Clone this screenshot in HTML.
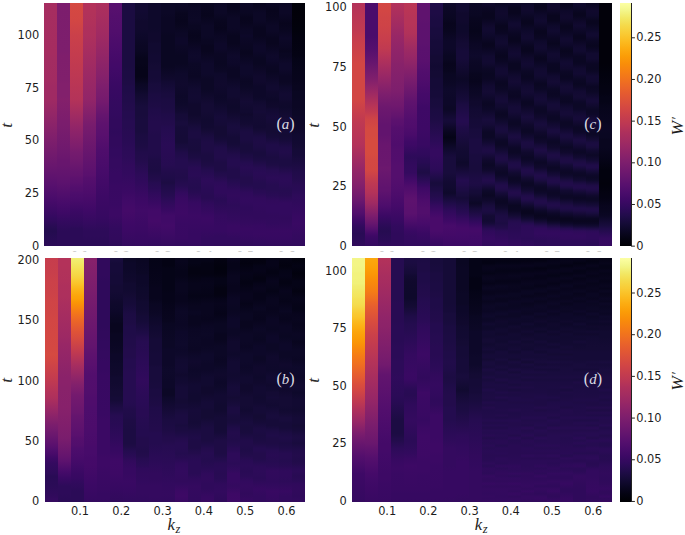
<!DOCTYPE html>
<html><head><meta charset="utf-8"><title>W' heatmaps</title>
<style>html,body{margin:0;padding:0;background:#fff}svg{display:block}text{white-space:pre}</style></head>
<body><svg width="685" height="535" viewBox="0 0 685 535">
<defs><linearGradient id="ga0" x1="0" y1="0" x2="0" y2="1"><stop offset="0.0000" stop-color="#a62d60"/><stop offset="0.2083" stop-color="#a52c60"/><stop offset="0.2292" stop-color="#a32c61"/><stop offset="0.3229" stop-color="#a22b62"/><stop offset="0.3438" stop-color="#a02a63"/><stop offset="0.3958" stop-color="#9f2a63"/><stop offset="0.4583" stop-color="#932667"/><stop offset="0.5521" stop-color="#801f6c"/><stop offset="0.6771" stop-color="#67166e"/><stop offset="0.7500" stop-color="#57106e"/><stop offset="0.8125" stop-color="#470b6a"/><stop offset="0.8750" stop-color="#360961"/><stop offset="0.8854" stop-color="#320a5e"/><stop offset="0.8958" stop-color="#310a5c"/><stop offset="0.9271" stop-color="#260c51"/><stop offset="0.9375" stop-color="#240c4f"/><stop offset="0.9792" stop-color="#290b55"/><stop offset="1.0000" stop-color="#2b0b57"/></linearGradient><linearGradient id="ga1" x1="0" y1="0" x2="0" y2="1"><stop offset="0.0000" stop-color="#7c1d6d"/><stop offset="0.1979" stop-color="#7d1e6d"/><stop offset="0.2188" stop-color="#7f1e6c"/><stop offset="0.3125" stop-color="#801f6c"/><stop offset="0.3333" stop-color="#82206c"/><stop offset="0.3854" stop-color="#82206c"/><stop offset="0.3958" stop-color="#84206b"/><stop offset="0.4792" stop-color="#7c1d6d"/><stop offset="0.5000" stop-color="#7a1d6d"/><stop offset="0.6042" stop-color="#6f196e"/><stop offset="0.6458" stop-color="#69166e"/><stop offset="0.6667" stop-color="#67166e"/><stop offset="0.7396" stop-color="#5c126e"/><stop offset="0.8229" stop-color="#470b6a"/><stop offset="0.8646" stop-color="#3d0965"/><stop offset="0.8958" stop-color="#340a5f"/><stop offset="0.9375" stop-color="#2b0b57"/><stop offset="1.0000" stop-color="#2b0b57"/></linearGradient><linearGradient id="ga2" x1="0" y1="0" x2="0" y2="1"><stop offset="0.0000" stop-color="#d54a41"/><stop offset="0.0208" stop-color="#d44842"/><stop offset="0.0729" stop-color="#d24644"/><stop offset="0.1354" stop-color="#ca404a"/><stop offset="0.2500" stop-color="#c13a50"/><stop offset="0.3958" stop-color="#b43359"/><stop offset="0.5104" stop-color="#922568"/><stop offset="0.5938" stop-color="#7c1d6d"/><stop offset="0.6146" stop-color="#751b6e"/><stop offset="0.6458" stop-color="#6f196e"/><stop offset="0.6979" stop-color="#62146e"/><stop offset="0.7083" stop-color="#61136e"/><stop offset="0.7188" stop-color="#5d126e"/><stop offset="0.7396" stop-color="#59106e"/><stop offset="0.7604" stop-color="#520e6d"/><stop offset="0.7708" stop-color="#510e6c"/><stop offset="0.7812" stop-color="#4d0d6c"/><stop offset="0.8125" stop-color="#470b6a"/><stop offset="0.8542" stop-color="#3b0964"/><stop offset="0.9167" stop-color="#2f0a5b"/><stop offset="0.9271" stop-color="#2b0b57"/><stop offset="1.0000" stop-color="#2b0b57"/></linearGradient><linearGradient id="ga3" x1="0" y1="0" x2="0" y2="1"><stop offset="0.0000" stop-color="#b3325a"/><stop offset="0.0208" stop-color="#b3325a"/><stop offset="0.0417" stop-color="#b1325a"/><stop offset="0.0833" stop-color="#b0315b"/><stop offset="0.1042" stop-color="#ae305c"/><stop offset="0.1354" stop-color="#ad305d"/><stop offset="0.1979" stop-color="#a62d60"/><stop offset="0.3125" stop-color="#9a2865"/><stop offset="0.3958" stop-color="#922568"/><stop offset="0.5000" stop-color="#781c6d"/><stop offset="0.7083" stop-color="#59106e"/><stop offset="0.7188" stop-color="#550f6d"/><stop offset="0.7812" stop-color="#4c0c6b"/><stop offset="0.8542" stop-color="#3e0966"/><stop offset="0.9062" stop-color="#340a5f"/><stop offset="0.9375" stop-color="#2d0b59"/><stop offset="0.9583" stop-color="#2d0b59"/><stop offset="0.9792" stop-color="#2b0b57"/><stop offset="1.0000" stop-color="#2b0b57"/></linearGradient><linearGradient id="ga4" x1="0" y1="0" x2="0" y2="1"><stop offset="0.0000" stop-color="#ad305d"/><stop offset="0.1354" stop-color="#9f2a63"/><stop offset="0.3021" stop-color="#85216b"/><stop offset="0.3438" stop-color="#7d1e6d"/><stop offset="0.4062" stop-color="#741a6e"/><stop offset="0.4271" stop-color="#6d186e"/><stop offset="0.4479" stop-color="#69166e"/><stop offset="0.4583" stop-color="#65156e"/><stop offset="0.5000" stop-color="#5d126e"/><stop offset="0.5417" stop-color="#59106e"/><stop offset="0.6042" stop-color="#4f0d6c"/><stop offset="0.6875" stop-color="#470b6a"/><stop offset="0.7917" stop-color="#3d0965"/><stop offset="0.8854" stop-color="#360961"/><stop offset="0.9375" stop-color="#2d0b59"/><stop offset="0.9583" stop-color="#2d0b59"/><stop offset="0.9792" stop-color="#2b0b57"/><stop offset="1.0000" stop-color="#2b0b57"/></linearGradient><linearGradient id="ga5" x1="0" y1="0" x2="0" y2="1"><stop offset="0.0000" stop-color="#57106e"/><stop offset="0.0208" stop-color="#57106e"/><stop offset="0.0521" stop-color="#540f6d"/><stop offset="0.1146" stop-color="#510e6c"/><stop offset="0.2083" stop-color="#470b6a"/><stop offset="0.2396" stop-color="#440a68"/><stop offset="0.2604" stop-color="#420a68"/><stop offset="0.3229" stop-color="#3b0964"/><stop offset="0.3542" stop-color="#380962"/><stop offset="0.3854" stop-color="#360961"/><stop offset="0.4062" stop-color="#340a5f"/><stop offset="0.4583" stop-color="#320a5e"/><stop offset="0.4792" stop-color="#310a5c"/><stop offset="0.5104" stop-color="#310a5c"/><stop offset="0.5312" stop-color="#2f0a5b"/><stop offset="0.5521" stop-color="#310a5c"/><stop offset="0.5833" stop-color="#310a5c"/><stop offset="0.6042" stop-color="#320a5e"/><stop offset="0.6250" stop-color="#320a5e"/><stop offset="0.6458" stop-color="#340a5f"/><stop offset="0.6771" stop-color="#340a5f"/><stop offset="0.6979" stop-color="#360961"/><stop offset="0.7292" stop-color="#360961"/><stop offset="0.7500" stop-color="#380962"/><stop offset="0.8333" stop-color="#390963"/><stop offset="0.8542" stop-color="#3b0964"/><stop offset="0.8750" stop-color="#3b0964"/><stop offset="0.9271" stop-color="#320a5e"/><stop offset="0.9688" stop-color="#310a5c"/><stop offset="1.0000" stop-color="#2d0b59"/></linearGradient><linearGradient id="ga6" x1="0" y1="0" x2="0" y2="1"><stop offset="0.0000" stop-color="#1b0c41"/><stop offset="0.2604" stop-color="#1b0c41"/><stop offset="0.2812" stop-color="#1c0c43"/><stop offset="0.3021" stop-color="#1c0c43"/><stop offset="0.3229" stop-color="#1e0c45"/><stop offset="0.3333" stop-color="#1e0c45"/><stop offset="0.3438" stop-color="#1f0c48"/><stop offset="0.3646" stop-color="#1f0c48"/><stop offset="0.3854" stop-color="#210c4a"/><stop offset="0.4062" stop-color="#210c4a"/><stop offset="0.4271" stop-color="#230c4c"/><stop offset="0.4375" stop-color="#230c4c"/><stop offset="0.4479" stop-color="#240c4f"/><stop offset="0.4688" stop-color="#240c4f"/><stop offset="0.4896" stop-color="#260c51"/><stop offset="0.5104" stop-color="#260c51"/><stop offset="0.5312" stop-color="#280b53"/><stop offset="0.5729" stop-color="#290b55"/><stop offset="0.5938" stop-color="#2b0b57"/><stop offset="0.6354" stop-color="#2d0b59"/><stop offset="0.6667" stop-color="#310a5c"/><stop offset="0.6979" stop-color="#320a5e"/><stop offset="0.7812" stop-color="#3b0964"/><stop offset="0.8125" stop-color="#400a67"/><stop offset="0.8333" stop-color="#420a68"/><stop offset="0.8542" stop-color="#440a68"/><stop offset="0.9062" stop-color="#3e0966"/><stop offset="0.9375" stop-color="#3b0964"/><stop offset="1.0000" stop-color="#340a5f"/></linearGradient><linearGradient id="ga7" x1="0" y1="0" x2="0" y2="1"><stop offset="0.0000" stop-color="#120a32"/><stop offset="0.0312" stop-color="#120a32"/><stop offset="0.0521" stop-color="#110a30"/><stop offset="0.0625" stop-color="#110a30"/><stop offset="0.0729" stop-color="#10092d"/><stop offset="0.1042" stop-color="#10092d"/><stop offset="0.1250" stop-color="#0e092b"/><stop offset="0.1458" stop-color="#0d0829"/><stop offset="0.1562" stop-color="#0c0826"/><stop offset="0.1771" stop-color="#0b0724"/><stop offset="0.1979" stop-color="#0a0722"/><stop offset="0.2292" stop-color="#07051b"/><stop offset="0.2500" stop-color="#07051b"/><stop offset="0.2708" stop-color="#060419"/><stop offset="0.3021" stop-color="#060419"/><stop offset="0.3229" stop-color="#09061f"/><stop offset="0.3333" stop-color="#0b0724"/><stop offset="0.3542" stop-color="#0d0829"/><stop offset="0.3750" stop-color="#110a30"/><stop offset="0.4271" stop-color="#180c3c"/><stop offset="0.4583" stop-color="#180c3c"/><stop offset="0.4792" stop-color="#190c3e"/><stop offset="0.5312" stop-color="#190c3e"/><stop offset="0.5417" stop-color="#1b0c41"/><stop offset="0.5729" stop-color="#1c0c43"/><stop offset="0.5938" stop-color="#1e0c45"/><stop offset="0.6146" stop-color="#210c4a"/><stop offset="0.6458" stop-color="#230c4c"/><stop offset="0.7083" stop-color="#2d0b59"/><stop offset="0.7292" stop-color="#2f0a5b"/><stop offset="0.8021" stop-color="#3b0964"/><stop offset="0.8333" stop-color="#3e0966"/><stop offset="0.8542" stop-color="#400a67"/><stop offset="0.9271" stop-color="#3b0964"/><stop offset="0.9583" stop-color="#380962"/><stop offset="0.9896" stop-color="#360961"/><stop offset="1.0000" stop-color="#340a5f"/></linearGradient><linearGradient id="ga8" x1="0" y1="0" x2="0" y2="1"><stop offset="0.0000" stop-color="#0e092b"/><stop offset="0.1042" stop-color="#0e092b"/><stop offset="0.1250" stop-color="#10092d"/><stop offset="0.1562" stop-color="#10092d"/><stop offset="0.1667" stop-color="#110a30"/><stop offset="0.1979" stop-color="#110a30"/><stop offset="0.2188" stop-color="#120a32"/><stop offset="0.2396" stop-color="#120a32"/><stop offset="0.2604" stop-color="#140b34"/><stop offset="0.2708" stop-color="#140b34"/><stop offset="0.2812" stop-color="#150b37"/><stop offset="0.3021" stop-color="#150b37"/><stop offset="0.3229" stop-color="#160b39"/><stop offset="0.3333" stop-color="#180c3c"/><stop offset="0.3646" stop-color="#190c3e"/><stop offset="0.3750" stop-color="#1b0c41"/><stop offset="0.4062" stop-color="#1c0c43"/><stop offset="0.4271" stop-color="#1e0c45"/><stop offset="0.4375" stop-color="#1f0c48"/><stop offset="0.4896" stop-color="#230c4c"/><stop offset="0.5208" stop-color="#230c4c"/><stop offset="0.5417" stop-color="#210c4a"/><stop offset="0.6146" stop-color="#210c4a"/><stop offset="0.6354" stop-color="#1f0c48"/><stop offset="0.6458" stop-color="#1e0c45"/><stop offset="0.6875" stop-color="#1c0c43"/><stop offset="0.7292" stop-color="#230c4c"/><stop offset="0.7396" stop-color="#260c51"/><stop offset="0.7604" stop-color="#290b55"/><stop offset="0.7812" stop-color="#2f0a5b"/><stop offset="0.8229" stop-color="#390963"/><stop offset="0.8542" stop-color="#420a68"/><stop offset="0.8750" stop-color="#420a68"/><stop offset="0.8958" stop-color="#440a68"/><stop offset="0.9792" stop-color="#360961"/><stop offset="1.0000" stop-color="#340a5f"/></linearGradient><linearGradient id="ga9" x1="0" y1="0" x2="0" y2="1"><stop offset="0.0000" stop-color="#0c0826"/><stop offset="0.0417" stop-color="#0c0826"/><stop offset="0.0625" stop-color="#0b0724"/><stop offset="0.1146" stop-color="#0b0724"/><stop offset="0.1354" stop-color="#0a0722"/><stop offset="0.2604" stop-color="#0a0722"/><stop offset="0.3125" stop-color="#10092d"/><stop offset="0.3229" stop-color="#120a32"/><stop offset="0.3750" stop-color="#190c3e"/><stop offset="0.3854" stop-color="#190c3e"/><stop offset="0.3958" stop-color="#1b0c41"/><stop offset="0.4271" stop-color="#1c0c43"/><stop offset="0.4479" stop-color="#1e0c45"/><stop offset="0.4583" stop-color="#1f0c48"/><stop offset="0.5000" stop-color="#230c4c"/><stop offset="0.5104" stop-color="#240c4f"/><stop offset="0.5833" stop-color="#290b55"/><stop offset="0.6250" stop-color="#280b53"/><stop offset="0.6667" stop-color="#260c51"/><stop offset="0.6979" stop-color="#210c4a"/><stop offset="0.7188" stop-color="#1f0c48"/><stop offset="0.7396" stop-color="#1c0c43"/><stop offset="0.7500" stop-color="#1f0c48"/><stop offset="0.7917" stop-color="#260c51"/><stop offset="0.8125" stop-color="#2d0b59"/><stop offset="0.8542" stop-color="#390963"/><stop offset="0.8750" stop-color="#400a67"/><stop offset="0.8958" stop-color="#400a67"/><stop offset="0.9167" stop-color="#420a68"/><stop offset="1.0000" stop-color="#340a5f"/></linearGradient><linearGradient id="ga10" x1="0" y1="0" x2="0" y2="1"><stop offset="0.0000" stop-color="#0c0826"/><stop offset="0.0312" stop-color="#0a0722"/><stop offset="0.0417" stop-color="#09061f"/><stop offset="0.0729" stop-color="#08051d"/><stop offset="0.0938" stop-color="#09061f"/><stop offset="0.1250" stop-color="#0c0826"/><stop offset="0.1354" stop-color="#0c0826"/><stop offset="0.1458" stop-color="#0d0829"/><stop offset="0.1667" stop-color="#0d0829"/><stop offset="0.1771" stop-color="#0c0826"/><stop offset="0.1979" stop-color="#0b0724"/><stop offset="0.2188" stop-color="#0a0722"/><stop offset="0.2500" stop-color="#0a0722"/><stop offset="0.2917" stop-color="#0e092b"/><stop offset="0.3333" stop-color="#10092d"/><stop offset="0.3854" stop-color="#0d0829"/><stop offset="0.4167" stop-color="#0e092b"/><stop offset="0.4479" stop-color="#120a32"/><stop offset="0.4583" stop-color="#150b37"/><stop offset="0.4792" stop-color="#160b39"/><stop offset="0.4896" stop-color="#180c3c"/><stop offset="0.5000" stop-color="#180c3c"/><stop offset="0.5104" stop-color="#160b39"/><stop offset="0.5521" stop-color="#150b37"/><stop offset="0.5729" stop-color="#150b37"/><stop offset="0.5833" stop-color="#180c3c"/><stop offset="0.5938" stop-color="#190c3e"/><stop offset="0.6146" stop-color="#1f0c48"/><stop offset="0.6458" stop-color="#240c4f"/><stop offset="0.6771" stop-color="#240c4f"/><stop offset="0.6875" stop-color="#230c4c"/><stop offset="0.7188" stop-color="#210c4a"/><stop offset="0.7500" stop-color="#260c51"/><stop offset="0.7812" stop-color="#320a5e"/><stop offset="0.8021" stop-color="#380962"/><stop offset="0.8333" stop-color="#3b0964"/><stop offset="0.8646" stop-color="#3d0965"/><stop offset="0.9062" stop-color="#390963"/><stop offset="0.9688" stop-color="#380962"/><stop offset="0.9896" stop-color="#340a5f"/><stop offset="1.0000" stop-color="#340a5f"/></linearGradient><linearGradient id="ga11" x1="0" y1="0" x2="0" y2="1"><stop offset="0.0000" stop-color="#09061f"/><stop offset="0.0208" stop-color="#0b0724"/><stop offset="0.0729" stop-color="#0c0826"/><stop offset="0.0938" stop-color="#0a0722"/><stop offset="0.1042" stop-color="#0a0722"/><stop offset="0.1146" stop-color="#09061f"/><stop offset="0.1354" stop-color="#08051d"/><stop offset="0.1562" stop-color="#09061f"/><stop offset="0.1979" stop-color="#0d0829"/><stop offset="0.2188" stop-color="#0e092b"/><stop offset="0.2396" stop-color="#0d0829"/><stop offset="0.2500" stop-color="#0c0826"/><stop offset="0.3021" stop-color="#0b0724"/><stop offset="0.3542" stop-color="#110a30"/><stop offset="0.3854" stop-color="#120a32"/><stop offset="0.4062" stop-color="#110a30"/><stop offset="0.4167" stop-color="#10092d"/><stop offset="0.4583" stop-color="#10092d"/><stop offset="0.4896" stop-color="#140b34"/><stop offset="0.5104" stop-color="#180c3c"/><stop offset="0.5312" stop-color="#1b0c41"/><stop offset="0.5521" stop-color="#1b0c41"/><stop offset="0.5625" stop-color="#190c3e"/><stop offset="0.6042" stop-color="#180c3c"/><stop offset="0.6354" stop-color="#1c0c43"/><stop offset="0.6562" stop-color="#230c4c"/><stop offset="0.6667" stop-color="#240c4f"/><stop offset="0.6771" stop-color="#280b53"/><stop offset="0.7083" stop-color="#290b55"/><stop offset="0.7292" stop-color="#260c51"/><stop offset="0.7604" stop-color="#240c4f"/><stop offset="0.7812" stop-color="#280b53"/><stop offset="0.8229" stop-color="#360961"/><stop offset="0.8750" stop-color="#3b0964"/><stop offset="0.9479" stop-color="#360961"/><stop offset="0.9792" stop-color="#360961"/><stop offset="1.0000" stop-color="#340a5f"/></linearGradient><linearGradient id="ga12" x1="0" y1="0" x2="0" y2="1"><stop offset="0.0000" stop-color="#0a0722"/><stop offset="0.0104" stop-color="#09061f"/><stop offset="0.0521" stop-color="#08051d"/><stop offset="0.0938" stop-color="#0c0826"/><stop offset="0.1354" stop-color="#0c0826"/><stop offset="0.1562" stop-color="#0a0722"/><stop offset="0.1667" stop-color="#0a0722"/><stop offset="0.1771" stop-color="#09061f"/><stop offset="0.1979" stop-color="#09061f"/><stop offset="0.2500" stop-color="#0e092b"/><stop offset="0.2917" stop-color="#0e092b"/><stop offset="0.3125" stop-color="#0c0826"/><stop offset="0.3542" stop-color="#0c0826"/><stop offset="0.4167" stop-color="#140b34"/><stop offset="0.4479" stop-color="#140b34"/><stop offset="0.4792" stop-color="#110a30"/><stop offset="0.5104" stop-color="#120a32"/><stop offset="0.5208" stop-color="#140b34"/><stop offset="0.5521" stop-color="#1b0c41"/><stop offset="0.5729" stop-color="#1e0c45"/><stop offset="0.6042" stop-color="#1e0c45"/><stop offset="0.6250" stop-color="#1b0c41"/><stop offset="0.6458" stop-color="#1b0c41"/><stop offset="0.6667" stop-color="#1e0c45"/><stop offset="0.6875" stop-color="#240c4f"/><stop offset="0.7292" stop-color="#2d0b59"/><stop offset="0.7708" stop-color="#290b55"/><stop offset="0.7917" stop-color="#280b53"/><stop offset="0.8021" stop-color="#280b53"/><stop offset="0.8229" stop-color="#2f0a5b"/><stop offset="0.8750" stop-color="#390963"/><stop offset="0.8854" stop-color="#3b0964"/><stop offset="0.9167" stop-color="#380962"/><stop offset="0.9375" stop-color="#360961"/><stop offset="0.9688" stop-color="#320a5e"/><stop offset="1.0000" stop-color="#320a5e"/></linearGradient><linearGradient id="ga13" x1="0" y1="0" x2="0" y2="1"><stop offset="0.0000" stop-color="#0b0724"/><stop offset="0.0208" stop-color="#0c0826"/><stop offset="0.0417" stop-color="#0c0826"/><stop offset="0.0729" stop-color="#09061f"/><stop offset="0.1042" stop-color="#08051d"/><stop offset="0.1354" stop-color="#0b0724"/><stop offset="0.1562" stop-color="#0c0826"/><stop offset="0.1667" stop-color="#0d0829"/><stop offset="0.1875" stop-color="#0d0829"/><stop offset="0.2083" stop-color="#0b0724"/><stop offset="0.2500" stop-color="#0a0722"/><stop offset="0.2812" stop-color="#0c0826"/><stop offset="0.2917" stop-color="#0e092b"/><stop offset="0.3333" stop-color="#10092d"/><stop offset="0.3854" stop-color="#0d0829"/><stop offset="0.4062" stop-color="#0e092b"/><stop offset="0.4688" stop-color="#160b39"/><stop offset="0.5000" stop-color="#150b37"/><stop offset="0.5104" stop-color="#140b34"/><stop offset="0.5417" stop-color="#140b34"/><stop offset="0.5625" stop-color="#160b39"/><stop offset="0.5938" stop-color="#1f0c48"/><stop offset="0.6146" stop-color="#210c4a"/><stop offset="0.6354" stop-color="#210c4a"/><stop offset="0.6562" stop-color="#1e0c45"/><stop offset="0.6875" stop-color="#1e0c45"/><stop offset="0.6979" stop-color="#210c4a"/><stop offset="0.7083" stop-color="#230c4c"/><stop offset="0.7396" stop-color="#2d0b59"/><stop offset="0.7604" stop-color="#2f0a5b"/><stop offset="0.7812" stop-color="#2f0a5b"/><stop offset="0.8125" stop-color="#290b55"/><stop offset="0.8750" stop-color="#340a5f"/><stop offset="0.9167" stop-color="#360961"/><stop offset="0.9375" stop-color="#360961"/><stop offset="0.9583" stop-color="#320a5e"/><stop offset="0.9792" stop-color="#320a5e"/><stop offset="1.0000" stop-color="#310a5c"/></linearGradient><linearGradient id="ga14" x1="0" y1="0" x2="0" y2="1"><stop offset="0.0000" stop-color="#08051d"/><stop offset="0.0208" stop-color="#08051d"/><stop offset="0.0625" stop-color="#0c0826"/><stop offset="0.1042" stop-color="#0c0826"/><stop offset="0.1354" stop-color="#09061f"/><stop offset="0.1667" stop-color="#09061f"/><stop offset="0.2188" stop-color="#0e092b"/><stop offset="0.2500" stop-color="#0d0829"/><stop offset="0.2708" stop-color="#0b0724"/><stop offset="0.3021" stop-color="#0b0724"/><stop offset="0.3542" stop-color="#110a30"/><stop offset="0.3854" stop-color="#110a30"/><stop offset="0.3958" stop-color="#10092d"/><stop offset="0.4271" stop-color="#0e092b"/><stop offset="0.4479" stop-color="#10092d"/><stop offset="0.5000" stop-color="#180c3c"/><stop offset="0.5104" stop-color="#190c3e"/><stop offset="0.5312" stop-color="#180c3c"/><stop offset="0.5521" stop-color="#150b37"/><stop offset="0.5729" stop-color="#150b37"/><stop offset="0.5833" stop-color="#160b39"/><stop offset="0.6250" stop-color="#210c4a"/><stop offset="0.6458" stop-color="#240c4f"/><stop offset="0.6667" stop-color="#240c4f"/><stop offset="0.6875" stop-color="#210c4a"/><stop offset="0.7188" stop-color="#210c4a"/><stop offset="0.7292" stop-color="#240c4f"/><stop offset="0.7500" stop-color="#290b55"/><stop offset="0.7708" stop-color="#2f0a5b"/><stop offset="0.7917" stop-color="#310a5c"/><stop offset="0.8125" stop-color="#2f0a5b"/><stop offset="0.8333" stop-color="#2d0b59"/><stop offset="0.8958" stop-color="#340a5f"/><stop offset="0.9167" stop-color="#380962"/><stop offset="0.9375" stop-color="#380962"/><stop offset="0.9688" stop-color="#320a5e"/><stop offset="1.0000" stop-color="#310a5c"/></linearGradient><linearGradient id="ga15" x1="0" y1="0" x2="0" y2="1"><stop offset="0.0000" stop-color="#0c0826"/><stop offset="0.0208" stop-color="#0b0724"/><stop offset="0.0417" stop-color="#0a0722"/><stop offset="0.0625" stop-color="#08051d"/><stop offset="0.0833" stop-color="#09061f"/><stop offset="0.1146" stop-color="#0c0826"/><stop offset="0.1250" stop-color="#0c0826"/><stop offset="0.1354" stop-color="#0d0829"/><stop offset="0.1458" stop-color="#0c0826"/><stop offset="0.1667" stop-color="#0b0724"/><stop offset="0.1875" stop-color="#0a0722"/><stop offset="0.1979" stop-color="#09061f"/><stop offset="0.2083" stop-color="#09061f"/><stop offset="0.2604" stop-color="#0e092b"/><stop offset="0.2917" stop-color="#0e092b"/><stop offset="0.3229" stop-color="#0b0724"/><stop offset="0.3438" stop-color="#0c0826"/><stop offset="0.4062" stop-color="#140b34"/><stop offset="0.4375" stop-color="#110a30"/><stop offset="0.4479" stop-color="#110a30"/><stop offset="0.4583" stop-color="#10092d"/><stop offset="0.4688" stop-color="#110a30"/><stop offset="0.4896" stop-color="#120a32"/><stop offset="0.5000" stop-color="#140b34"/><stop offset="0.5208" stop-color="#190c3e"/><stop offset="0.5312" stop-color="#1b0c41"/><stop offset="0.5625" stop-color="#1b0c41"/><stop offset="0.5833" stop-color="#180c3c"/><stop offset="0.6042" stop-color="#180c3c"/><stop offset="0.6146" stop-color="#190c3e"/><stop offset="0.6250" stop-color="#1c0c43"/><stop offset="0.6354" stop-color="#1e0c45"/><stop offset="0.6562" stop-color="#240c4f"/><stop offset="0.6771" stop-color="#280b53"/><stop offset="0.7083" stop-color="#240c4f"/><stop offset="0.7188" stop-color="#230c4c"/><stop offset="0.7396" stop-color="#230c4c"/><stop offset="0.7500" stop-color="#240c4f"/><stop offset="0.7812" stop-color="#2f0a5b"/><stop offset="0.8125" stop-color="#320a5e"/><stop offset="0.8438" stop-color="#2f0a5b"/><stop offset="0.8750" stop-color="#310a5c"/><stop offset="0.9062" stop-color="#340a5f"/><stop offset="0.9271" stop-color="#380962"/><stop offset="0.9583" stop-color="#360961"/><stop offset="0.9896" stop-color="#310a5c"/><stop offset="1.0000" stop-color="#310a5c"/></linearGradient><linearGradient id="ga16" x1="0" y1="0" x2="0" y2="1"><stop offset="0.0000" stop-color="#08051d"/><stop offset="0.0417" stop-color="#0c0826"/><stop offset="0.0729" stop-color="#0c0826"/><stop offset="0.1042" stop-color="#09061f"/><stop offset="0.1354" stop-color="#09061f"/><stop offset="0.1771" stop-color="#0d0829"/><stop offset="0.1979" stop-color="#0d0829"/><stop offset="0.2292" stop-color="#0a0722"/><stop offset="0.2500" stop-color="#0a0722"/><stop offset="0.3021" stop-color="#10092d"/><stop offset="0.3229" stop-color="#10092d"/><stop offset="0.3438" stop-color="#0d0829"/><stop offset="0.3854" stop-color="#0d0829"/><stop offset="0.3958" stop-color="#0e092b"/><stop offset="0.4062" stop-color="#110a30"/><stop offset="0.4271" stop-color="#140b34"/><stop offset="0.4375" stop-color="#140b34"/><stop offset="0.4479" stop-color="#150b37"/><stop offset="0.4583" stop-color="#140b34"/><stop offset="0.5104" stop-color="#120a32"/><stop offset="0.5208" stop-color="#140b34"/><stop offset="0.5521" stop-color="#1c0c43"/><stop offset="0.5729" stop-color="#1e0c45"/><stop offset="0.5938" stop-color="#1c0c43"/><stop offset="0.6146" stop-color="#190c3e"/><stop offset="0.6250" stop-color="#190c3e"/><stop offset="0.6458" stop-color="#1c0c43"/><stop offset="0.6771" stop-color="#260c51"/><stop offset="0.6979" stop-color="#290b55"/><stop offset="0.7188" stop-color="#280b53"/><stop offset="0.7396" stop-color="#240c4f"/><stop offset="0.7604" stop-color="#240c4f"/><stop offset="0.7708" stop-color="#280b53"/><stop offset="0.7812" stop-color="#290b55"/><stop offset="0.8021" stop-color="#310a5c"/><stop offset="0.8229" stop-color="#320a5e"/><stop offset="0.8646" stop-color="#310a5c"/><stop offset="0.8854" stop-color="#310a5c"/><stop offset="0.9167" stop-color="#360961"/><stop offset="0.9479" stop-color="#380962"/><stop offset="0.9896" stop-color="#320a5e"/><stop offset="1.0000" stop-color="#310a5c"/></linearGradient><linearGradient id="ga17" x1="0" y1="0" x2="0" y2="1"><stop offset="0.0000" stop-color="#0b0724"/><stop offset="0.0312" stop-color="#08051d"/><stop offset="0.0625" stop-color="#09061f"/><stop offset="0.0938" stop-color="#0c0826"/><stop offset="0.1146" stop-color="#0c0826"/><stop offset="0.1458" stop-color="#09061f"/><stop offset="0.1667" stop-color="#09061f"/><stop offset="0.2188" stop-color="#0e092b"/><stop offset="0.2396" stop-color="#0d0829"/><stop offset="0.2604" stop-color="#0b0724"/><stop offset="0.2812" stop-color="#0a0722"/><stop offset="0.3438" stop-color="#110a30"/><stop offset="0.3542" stop-color="#110a30"/><stop offset="0.3646" stop-color="#10092d"/><stop offset="0.3854" stop-color="#0e092b"/><stop offset="0.3958" stop-color="#0d0829"/><stop offset="0.4271" stop-color="#10092d"/><stop offset="0.4375" stop-color="#120a32"/><stop offset="0.4688" stop-color="#160b39"/><stop offset="0.4896" stop-color="#150b37"/><stop offset="0.5000" stop-color="#140b34"/><stop offset="0.5312" stop-color="#140b34"/><stop offset="0.5521" stop-color="#160b39"/><stop offset="0.5833" stop-color="#1f0c48"/><stop offset="0.6042" stop-color="#1f0c48"/><stop offset="0.6354" stop-color="#1b0c41"/><stop offset="0.6562" stop-color="#1c0c43"/><stop offset="0.6667" stop-color="#1e0c45"/><stop offset="0.6875" stop-color="#260c51"/><stop offset="0.7188" stop-color="#2b0b57"/><stop offset="0.7500" stop-color="#260c51"/><stop offset="0.7708" stop-color="#260c51"/><stop offset="0.7917" stop-color="#290b55"/><stop offset="0.8125" stop-color="#310a5c"/><stop offset="0.8333" stop-color="#320a5e"/><stop offset="0.8542" stop-color="#320a5e"/><stop offset="0.8750" stop-color="#310a5c"/><stop offset="0.9062" stop-color="#320a5e"/><stop offset="0.9375" stop-color="#380962"/><stop offset="0.9688" stop-color="#360961"/><stop offset="1.0000" stop-color="#310a5c"/></linearGradient><linearGradient id="ga18" x1="0" y1="0" x2="0" y2="1"><stop offset="0.0000" stop-color="#0a0722"/><stop offset="0.0208" stop-color="#0c0826"/><stop offset="0.0417" stop-color="#0c0826"/><stop offset="0.0833" stop-color="#08051d"/><stop offset="0.1042" stop-color="#09061f"/><stop offset="0.1458" stop-color="#0d0829"/><stop offset="0.1562" stop-color="#0c0826"/><stop offset="0.1771" stop-color="#0b0724"/><stop offset="0.1979" stop-color="#09061f"/><stop offset="0.2083" stop-color="#0a0722"/><stop offset="0.2188" stop-color="#0a0722"/><stop offset="0.2500" stop-color="#0e092b"/><stop offset="0.2708" stop-color="#0e092b"/><stop offset="0.3021" stop-color="#0b0724"/><stop offset="0.3229" stop-color="#0b0724"/><stop offset="0.3333" stop-color="#0c0826"/><stop offset="0.3438" stop-color="#0e092b"/><stop offset="0.3750" stop-color="#120a32"/><stop offset="0.3958" stop-color="#110a30"/><stop offset="0.4062" stop-color="#10092d"/><stop offset="0.4271" stop-color="#0e092b"/><stop offset="0.4688" stop-color="#140b34"/><stop offset="0.4896" stop-color="#180c3c"/><stop offset="0.5000" stop-color="#180c3c"/><stop offset="0.5208" stop-color="#150b37"/><stop offset="0.5312" stop-color="#150b37"/><stop offset="0.5417" stop-color="#140b34"/><stop offset="0.5625" stop-color="#160b39"/><stop offset="0.5938" stop-color="#1f0c48"/><stop offset="0.6146" stop-color="#210c4a"/><stop offset="0.6458" stop-color="#1c0c43"/><stop offset="0.6667" stop-color="#1c0c43"/><stop offset="0.7083" stop-color="#290b55"/><stop offset="0.7292" stop-color="#2b0b57"/><stop offset="0.7500" stop-color="#290b55"/><stop offset="0.7708" stop-color="#260c51"/><stop offset="0.7917" stop-color="#280b53"/><stop offset="0.8229" stop-color="#320a5e"/><stop offset="0.8646" stop-color="#320a5e"/><stop offset="0.8854" stop-color="#310a5c"/><stop offset="0.9167" stop-color="#340a5f"/><stop offset="0.9375" stop-color="#380962"/><stop offset="0.9688" stop-color="#360961"/><stop offset="1.0000" stop-color="#310a5c"/></linearGradient><linearGradient id="ga19" x1="0" y1="0" x2="0" y2="1"><stop offset="0.0000" stop-color="#010108"/><stop offset="0.0521" stop-color="#02010a"/><stop offset="0.1042" stop-color="#02020c"/><stop offset="0.1458" stop-color="#030210"/><stop offset="0.2188" stop-color="#040314"/><stop offset="0.2292" stop-color="#050417"/><stop offset="0.2812" stop-color="#07051b"/><stop offset="0.3229" stop-color="#08051d"/><stop offset="0.3438" stop-color="#09061f"/><stop offset="0.3542" stop-color="#09061f"/><stop offset="0.3646" stop-color="#0a0722"/><stop offset="0.3854" stop-color="#0a0722"/><stop offset="0.4062" stop-color="#0b0724"/><stop offset="0.4271" stop-color="#0b0724"/><stop offset="0.4479" stop-color="#0c0826"/><stop offset="0.4583" stop-color="#0c0826"/><stop offset="0.4688" stop-color="#0d0829"/><stop offset="0.4896" stop-color="#0d0829"/><stop offset="0.5312" stop-color="#10092d"/><stop offset="0.5417" stop-color="#110a30"/><stop offset="0.5729" stop-color="#120a32"/><stop offset="0.5938" stop-color="#140b34"/><stop offset="0.6042" stop-color="#150b37"/><stop offset="0.6250" stop-color="#160b39"/><stop offset="0.6979" stop-color="#210c4a"/><stop offset="0.7188" stop-color="#230c4c"/><stop offset="0.7500" stop-color="#280b53"/><stop offset="0.7708" stop-color="#290b55"/><stop offset="0.7917" stop-color="#2d0b59"/><stop offset="0.8125" stop-color="#2f0a5b"/><stop offset="0.8750" stop-color="#360961"/><stop offset="0.9062" stop-color="#390963"/><stop offset="0.9583" stop-color="#340a5f"/><stop offset="0.9896" stop-color="#320a5e"/><stop offset="1.0000" stop-color="#310a5c"/></linearGradient><linearGradient id="gb0" x1="0" y1="0" x2="0" y2="1"><stop offset="0.0000" stop-color="#c63d4d"/><stop offset="0.0625" stop-color="#c83f4b"/><stop offset="0.0938" stop-color="#cb4149"/><stop offset="0.1458" stop-color="#cc4248"/><stop offset="0.1771" stop-color="#cf4446"/><stop offset="0.2292" stop-color="#d04545"/><stop offset="0.2500" stop-color="#d24644"/><stop offset="0.3750" stop-color="#d44842"/><stop offset="0.3958" stop-color="#d54a41"/><stop offset="0.4167" stop-color="#d34743"/><stop offset="0.4896" stop-color="#c43c4e"/><stop offset="0.5521" stop-color="#b3325a"/><stop offset="0.5729" stop-color="#ae305c"/><stop offset="0.6354" stop-color="#922568"/><stop offset="0.6562" stop-color="#88226a"/><stop offset="0.6875" stop-color="#7a1d6d"/><stop offset="0.7083" stop-color="#721a6e"/><stop offset="0.7708" stop-color="#59106e"/><stop offset="0.7917" stop-color="#4d0d6c"/><stop offset="0.8021" stop-color="#490b6a"/><stop offset="0.8229" stop-color="#3d0965"/><stop offset="0.8438" stop-color="#340a5f"/><stop offset="0.8854" stop-color="#2d0b59"/><stop offset="0.8958" stop-color="#290b55"/><stop offset="0.9375" stop-color="#2b0b57"/><stop offset="0.9792" stop-color="#310a5c"/><stop offset="0.9896" stop-color="#340a5f"/><stop offset="1.0000" stop-color="#340a5f"/></linearGradient><linearGradient id="gb1" x1="0" y1="0" x2="0" y2="1"><stop offset="0.0000" stop-color="#b3325a"/><stop offset="0.0312" stop-color="#b3325a"/><stop offset="0.0521" stop-color="#b1325a"/><stop offset="0.0938" stop-color="#b0315b"/><stop offset="0.1146" stop-color="#ae305c"/><stop offset="0.1562" stop-color="#ad305d"/><stop offset="0.2708" stop-color="#a22b62"/><stop offset="0.3229" stop-color="#9d2964"/><stop offset="0.3542" stop-color="#982766"/><stop offset="0.3854" stop-color="#952667"/><stop offset="0.4688" stop-color="#8c2369"/><stop offset="0.4896" stop-color="#8a226a"/><stop offset="0.5104" stop-color="#8a226a"/><stop offset="0.5312" stop-color="#88226a"/><stop offset="0.6146" stop-color="#87216b"/><stop offset="0.6458" stop-color="#84206b"/><stop offset="0.6979" stop-color="#7f1e6c"/><stop offset="0.7396" stop-color="#7a1d6d"/><stop offset="0.8125" stop-color="#65156e"/><stop offset="0.8333" stop-color="#5d126e"/><stop offset="0.8750" stop-color="#470b6a"/><stop offset="0.9062" stop-color="#390963"/><stop offset="0.9375" stop-color="#2d0b59"/><stop offset="0.9688" stop-color="#2d0b59"/><stop offset="0.9896" stop-color="#2b0b57"/><stop offset="1.0000" stop-color="#2b0b57"/></linearGradient><linearGradient id="gb2" x1="0" y1="0" x2="0" y2="1"><stop offset="0.0000" stop-color="#f1ef75"/><stop offset="0.0417" stop-color="#f4e156"/><stop offset="0.0729" stop-color="#f6d543"/><stop offset="0.1042" stop-color="#fac42a"/><stop offset="0.1250" stop-color="#fbb61a"/><stop offset="0.1562" stop-color="#fca50a"/><stop offset="0.1667" stop-color="#fca108"/><stop offset="0.1771" stop-color="#fb9906"/><stop offset="0.1875" stop-color="#fa9207"/><stop offset="0.1979" stop-color="#f98b0b"/><stop offset="0.2188" stop-color="#f57b17"/><stop offset="0.2500" stop-color="#ed6925"/><stop offset="0.3021" stop-color="#df5337"/><stop offset="0.3229" stop-color="#d94d3d"/><stop offset="0.3854" stop-color="#c13a50"/><stop offset="0.4375" stop-color="#a82e5f"/><stop offset="0.4896" stop-color="#902568"/><stop offset="0.5208" stop-color="#82206c"/><stop offset="0.5417" stop-color="#7c1d6d"/><stop offset="0.5625" stop-color="#741a6e"/><stop offset="0.6354" stop-color="#69166e"/><stop offset="0.6458" stop-color="#65156e"/><stop offset="0.7292" stop-color="#59106e"/><stop offset="0.7396" stop-color="#550f6d"/><stop offset="0.7708" stop-color="#510e6c"/><stop offset="0.7812" stop-color="#4d0d6c"/><stop offset="0.8229" stop-color="#470b6a"/><stop offset="0.8854" stop-color="#390963"/><stop offset="0.9062" stop-color="#360961"/><stop offset="0.9167" stop-color="#320a5e"/><stop offset="0.9583" stop-color="#2b0b57"/><stop offset="1.0000" stop-color="#2b0b57"/></linearGradient><linearGradient id="gb3" x1="0" y1="0" x2="0" y2="1"><stop offset="0.0000" stop-color="#87216b"/><stop offset="0.0729" stop-color="#801f6c"/><stop offset="0.1354" stop-color="#7a1d6d"/><stop offset="0.3021" stop-color="#69166e"/><stop offset="0.3646" stop-color="#62146e"/><stop offset="0.3958" stop-color="#5d126e"/><stop offset="0.4375" stop-color="#59106e"/><stop offset="0.4792" stop-color="#520e6d"/><stop offset="0.5521" stop-color="#510e6c"/><stop offset="0.5729" stop-color="#4f0d6c"/><stop offset="0.5938" stop-color="#4f0d6c"/><stop offset="0.6146" stop-color="#4d0d6c"/><stop offset="0.6979" stop-color="#4c0c6b"/><stop offset="0.7188" stop-color="#4a0c6b"/><stop offset="0.7604" stop-color="#490b6a"/><stop offset="0.7812" stop-color="#470b6a"/><stop offset="0.8021" stop-color="#470b6a"/><stop offset="0.8229" stop-color="#450a69"/><stop offset="0.8542" stop-color="#440a68"/><stop offset="0.9062" stop-color="#3e0966"/><stop offset="0.9896" stop-color="#360961"/><stop offset="1.0000" stop-color="#340a5f"/></linearGradient><linearGradient id="gb4" x1="0" y1="0" x2="0" y2="1"><stop offset="0.0000" stop-color="#310a5c"/><stop offset="0.0729" stop-color="#310a5c"/><stop offset="0.0938" stop-color="#2f0a5b"/><stop offset="0.2812" stop-color="#2f0a5b"/><stop offset="0.3021" stop-color="#310a5c"/><stop offset="0.3229" stop-color="#310a5c"/><stop offset="0.3438" stop-color="#320a5e"/><stop offset="0.3646" stop-color="#320a5e"/><stop offset="0.3854" stop-color="#340a5f"/><stop offset="0.4062" stop-color="#340a5f"/><stop offset="0.4271" stop-color="#360961"/><stop offset="0.4583" stop-color="#360961"/><stop offset="0.4792" stop-color="#380962"/><stop offset="0.6458" stop-color="#390963"/><stop offset="0.6667" stop-color="#3b0964"/><stop offset="0.8021" stop-color="#3b0964"/><stop offset="0.8229" stop-color="#3d0965"/><stop offset="0.8542" stop-color="#3d0965"/><stop offset="0.8750" stop-color="#3b0964"/><stop offset="0.9479" stop-color="#380962"/><stop offset="0.9688" stop-color="#360961"/><stop offset="0.9896" stop-color="#360961"/><stop offset="1.0000" stop-color="#340a5f"/></linearGradient><linearGradient id="gb5" x1="0" y1="0" x2="0" y2="1"><stop offset="0.0000" stop-color="#180c3c"/><stop offset="0.0104" stop-color="#180c3c"/><stop offset="0.0208" stop-color="#160b39"/><stop offset="0.0521" stop-color="#160b39"/><stop offset="0.0729" stop-color="#150b37"/><stop offset="0.1042" stop-color="#150b37"/><stop offset="0.1146" stop-color="#140b34"/><stop offset="0.1354" stop-color="#140b34"/><stop offset="0.1667" stop-color="#110a30"/><stop offset="0.1771" stop-color="#10092d"/><stop offset="0.1979" stop-color="#0e092b"/><stop offset="0.2188" stop-color="#0d0829"/><stop offset="0.2500" stop-color="#0a0722"/><stop offset="0.2604" stop-color="#0a0722"/><stop offset="0.2708" stop-color="#09061f"/><stop offset="0.3021" stop-color="#09061f"/><stop offset="0.3125" stop-color="#0a0722"/><stop offset="0.3333" stop-color="#0a0722"/><stop offset="0.3542" stop-color="#0b0724"/><stop offset="0.3854" stop-color="#0c0826"/><stop offset="0.3958" stop-color="#0d0829"/><stop offset="0.4167" stop-color="#0d0829"/><stop offset="0.4375" stop-color="#0e092b"/><stop offset="0.4792" stop-color="#10092d"/><stop offset="0.4896" stop-color="#110a30"/><stop offset="0.5104" stop-color="#110a30"/><stop offset="0.5521" stop-color="#140b34"/><stop offset="0.5625" stop-color="#140b34"/><stop offset="0.5729" stop-color="#150b37"/><stop offset="0.5833" stop-color="#150b37"/><stop offset="0.6146" stop-color="#1e0c45"/><stop offset="0.6250" stop-color="#1f0c48"/><stop offset="0.6458" stop-color="#260c51"/><stop offset="0.6875" stop-color="#290b55"/><stop offset="0.7396" stop-color="#2f0a5b"/><stop offset="0.7812" stop-color="#360961"/><stop offset="0.7917" stop-color="#360961"/><stop offset="0.8333" stop-color="#3e0966"/><stop offset="0.8854" stop-color="#3d0965"/><stop offset="0.9479" stop-color="#360961"/><stop offset="1.0000" stop-color="#310a5c"/></linearGradient><linearGradient id="gb6" x1="0" y1="0" x2="0" y2="1"><stop offset="0.0000" stop-color="#0c0826"/><stop offset="0.0104" stop-color="#0c0826"/><stop offset="0.0208" stop-color="#0d0829"/><stop offset="0.0417" stop-color="#0d0829"/><stop offset="0.0625" stop-color="#0e092b"/><stop offset="0.0938" stop-color="#10092d"/><stop offset="0.1042" stop-color="#110a30"/><stop offset="0.1250" stop-color="#110a30"/><stop offset="0.1562" stop-color="#140b34"/><stop offset="0.1667" stop-color="#150b37"/><stop offset="0.1875" stop-color="#160b39"/><stop offset="0.2292" stop-color="#1c0c43"/><stop offset="0.2708" stop-color="#1e0c45"/><stop offset="0.2812" stop-color="#1f0c48"/><stop offset="0.3125" stop-color="#1f0c48"/><stop offset="0.3333" stop-color="#210c4a"/><stop offset="0.3542" stop-color="#210c4a"/><stop offset="0.3750" stop-color="#230c4c"/><stop offset="0.4062" stop-color="#230c4c"/><stop offset="0.4167" stop-color="#240c4f"/><stop offset="0.4479" stop-color="#240c4f"/><stop offset="0.4688" stop-color="#260c51"/><stop offset="0.5833" stop-color="#260c51"/><stop offset="0.6042" stop-color="#240c4f"/><stop offset="0.6250" stop-color="#210c4a"/><stop offset="0.6562" stop-color="#1f0c48"/><stop offset="0.6667" stop-color="#1e0c45"/><stop offset="0.7083" stop-color="#1c0c43"/><stop offset="0.7604" stop-color="#1c0c43"/><stop offset="0.7708" stop-color="#1e0c45"/><stop offset="0.7917" stop-color="#240c4f"/><stop offset="0.8125" stop-color="#290b55"/><stop offset="0.8333" stop-color="#310a5c"/><stop offset="0.8646" stop-color="#360961"/><stop offset="0.8854" stop-color="#360961"/><stop offset="0.9167" stop-color="#390963"/><stop offset="0.9583" stop-color="#360961"/><stop offset="0.9896" stop-color="#320a5e"/><stop offset="1.0000" stop-color="#320a5e"/></linearGradient><linearGradient id="gb7" x1="0" y1="0" x2="0" y2="1"><stop offset="0.0000" stop-color="#0a0722"/><stop offset="0.0208" stop-color="#0b0724"/><stop offset="0.0625" stop-color="#0c0826"/><stop offset="0.0729" stop-color="#0d0829"/><stop offset="0.1042" stop-color="#0d0829"/><stop offset="0.1250" stop-color="#0e092b"/><stop offset="0.1667" stop-color="#10092d"/><stop offset="0.1771" stop-color="#110a30"/><stop offset="0.2083" stop-color="#120a32"/><stop offset="0.2292" stop-color="#140b34"/><stop offset="0.2396" stop-color="#150b37"/><stop offset="0.2604" stop-color="#160b39"/><stop offset="0.3125" stop-color="#1f0c48"/><stop offset="0.3229" stop-color="#230c4c"/><stop offset="0.3438" stop-color="#260c51"/><stop offset="0.3854" stop-color="#280b53"/><stop offset="0.4271" stop-color="#2b0b57"/><stop offset="0.4792" stop-color="#2f0a5b"/><stop offset="0.5000" stop-color="#310a5c"/><stop offset="0.5625" stop-color="#2b0b57"/><stop offset="0.6042" stop-color="#290b55"/><stop offset="0.6250" stop-color="#280b53"/><stop offset="0.6458" stop-color="#280b53"/><stop offset="0.6667" stop-color="#260c51"/><stop offset="0.7083" stop-color="#240c4f"/><stop offset="0.7292" stop-color="#240c4f"/><stop offset="0.7396" stop-color="#230c4c"/><stop offset="0.7708" stop-color="#230c4c"/><stop offset="0.7917" stop-color="#210c4a"/><stop offset="0.8125" stop-color="#230c4c"/><stop offset="0.8229" stop-color="#260c51"/><stop offset="0.8542" stop-color="#2b0b57"/><stop offset="0.8646" stop-color="#2f0a5b"/><stop offset="0.8854" stop-color="#310a5c"/><stop offset="0.9167" stop-color="#320a5e"/><stop offset="0.9375" stop-color="#340a5f"/><stop offset="0.9688" stop-color="#340a5f"/><stop offset="0.9896" stop-color="#320a5e"/><stop offset="1.0000" stop-color="#320a5e"/></linearGradient><linearGradient id="gb8" x1="0" y1="0" x2="0" y2="1"><stop offset="0.0000" stop-color="#050417"/><stop offset="0.0521" stop-color="#060419"/><stop offset="0.1042" stop-color="#07051b"/><stop offset="0.1250" stop-color="#08051d"/><stop offset="0.1667" stop-color="#08051d"/><stop offset="0.1875" stop-color="#0a0722"/><stop offset="0.2083" stop-color="#0b0724"/><stop offset="0.2292" stop-color="#0c0826"/><stop offset="0.2500" stop-color="#0e092b"/><stop offset="0.2708" stop-color="#10092d"/><stop offset="0.2812" stop-color="#110a30"/><stop offset="0.3021" stop-color="#120a32"/><stop offset="0.3229" stop-color="#140b34"/><stop offset="0.3333" stop-color="#150b37"/><stop offset="0.3750" stop-color="#150b37"/><stop offset="0.3958" stop-color="#160b39"/><stop offset="0.4375" stop-color="#160b39"/><stop offset="0.4479" stop-color="#180c3c"/><stop offset="0.5000" stop-color="#180c3c"/><stop offset="0.5208" stop-color="#190c3e"/><stop offset="0.5312" stop-color="#190c3e"/><stop offset="0.5417" stop-color="#1b0c41"/><stop offset="0.5625" stop-color="#1b0c41"/><stop offset="0.6042" stop-color="#1e0c45"/><stop offset="0.6146" stop-color="#1f0c48"/><stop offset="0.6562" stop-color="#210c4a"/><stop offset="0.6979" stop-color="#230c4c"/><stop offset="0.7083" stop-color="#230c4c"/><stop offset="0.7188" stop-color="#240c4f"/><stop offset="0.7604" stop-color="#240c4f"/><stop offset="0.8125" stop-color="#290b55"/><stop offset="0.8333" stop-color="#2b0b57"/><stop offset="0.8854" stop-color="#310a5c"/><stop offset="0.9062" stop-color="#310a5c"/><stop offset="0.9375" stop-color="#340a5f"/><stop offset="0.9792" stop-color="#340a5f"/><stop offset="1.0000" stop-color="#320a5e"/></linearGradient><linearGradient id="gb9" x1="0" y1="0" x2="0" y2="1"><stop offset="0.0000" stop-color="#040314"/><stop offset="0.0312" stop-color="#040314"/><stop offset="0.0417" stop-color="#050417"/><stop offset="0.1250" stop-color="#050417"/><stop offset="0.1458" stop-color="#060419"/><stop offset="0.1771" stop-color="#060419"/><stop offset="0.2188" stop-color="#08051d"/><stop offset="0.2604" stop-color="#09061f"/><stop offset="0.2708" stop-color="#0a0722"/><stop offset="0.3438" stop-color="#0c0826"/><stop offset="0.3646" stop-color="#0c0826"/><stop offset="0.3750" stop-color="#0d0829"/><stop offset="0.4375" stop-color="#0d0829"/><stop offset="0.4583" stop-color="#0e092b"/><stop offset="0.5104" stop-color="#0d0829"/><stop offset="0.5312" stop-color="#0d0829"/><stop offset="0.5417" stop-color="#0c0826"/><stop offset="0.5625" stop-color="#0c0826"/><stop offset="0.5729" stop-color="#0e092b"/><stop offset="0.6667" stop-color="#1b0c41"/><stop offset="0.6875" stop-color="#1c0c43"/><stop offset="0.7083" stop-color="#1e0c45"/><stop offset="0.7396" stop-color="#230c4c"/><stop offset="0.7500" stop-color="#230c4c"/><stop offset="0.7708" stop-color="#260c51"/><stop offset="0.8438" stop-color="#2b0b57"/><stop offset="0.9271" stop-color="#320a5e"/><stop offset="0.9688" stop-color="#340a5f"/><stop offset="1.0000" stop-color="#320a5e"/></linearGradient><linearGradient id="gb10" x1="0" y1="0" x2="0" y2="1"><stop offset="0.0000" stop-color="#07051b"/><stop offset="0.0104" stop-color="#08051d"/><stop offset="0.0521" stop-color="#060419"/><stop offset="0.0729" stop-color="#060419"/><stop offset="0.1042" stop-color="#09061f"/><stop offset="0.1354" stop-color="#09061f"/><stop offset="0.1562" stop-color="#08051d"/><stop offset="0.1771" stop-color="#08051d"/><stop offset="0.2188" stop-color="#0c0826"/><stop offset="0.2708" stop-color="#0b0724"/><stop offset="0.2917" stop-color="#0c0826"/><stop offset="0.3021" stop-color="#0d0829"/><stop offset="0.3542" stop-color="#0e092b"/><stop offset="0.3750" stop-color="#0d0829"/><stop offset="0.3958" stop-color="#0e092b"/><stop offset="0.4167" stop-color="#110a30"/><stop offset="0.4479" stop-color="#120a32"/><stop offset="0.4688" stop-color="#110a30"/><stop offset="0.4792" stop-color="#10092d"/><stop offset="0.4896" stop-color="#110a30"/><stop offset="0.5104" stop-color="#120a32"/><stop offset="0.5312" stop-color="#150b37"/><stop offset="0.5729" stop-color="#150b37"/><stop offset="0.5833" stop-color="#140b34"/><stop offset="0.5938" stop-color="#140b34"/><stop offset="0.6042" stop-color="#150b37"/><stop offset="0.6146" stop-color="#150b37"/><stop offset="0.6250" stop-color="#180c3c"/><stop offset="0.6458" stop-color="#1b0c41"/><stop offset="0.6771" stop-color="#1b0c41"/><stop offset="0.6875" stop-color="#190c3e"/><stop offset="0.6979" stop-color="#1b0c41"/><stop offset="0.7083" stop-color="#1b0c41"/><stop offset="0.7292" stop-color="#1f0c48"/><stop offset="0.7396" stop-color="#230c4c"/><stop offset="0.7604" stop-color="#260c51"/><stop offset="0.7812" stop-color="#260c51"/><stop offset="0.8021" stop-color="#240c4f"/><stop offset="0.8229" stop-color="#280b53"/><stop offset="0.8438" stop-color="#2f0a5b"/><stop offset="0.8750" stop-color="#320a5e"/><stop offset="0.9167" stop-color="#310a5c"/><stop offset="0.9271" stop-color="#320a5e"/><stop offset="0.9583" stop-color="#3b0964"/><stop offset="0.9792" stop-color="#3d0965"/><stop offset="1.0000" stop-color="#390963"/></linearGradient><linearGradient id="gb11" x1="0" y1="0" x2="0" y2="1"><stop offset="0.0000" stop-color="#050417"/><stop offset="0.0208" stop-color="#050417"/><stop offset="0.0417" stop-color="#040312"/><stop offset="0.0625" stop-color="#040312"/><stop offset="0.1042" stop-color="#07051b"/><stop offset="0.1250" stop-color="#07051b"/><stop offset="0.1562" stop-color="#050417"/><stop offset="0.1979" stop-color="#09061f"/><stop offset="0.2083" stop-color="#09061f"/><stop offset="0.2188" stop-color="#0a0722"/><stop offset="0.2292" stop-color="#0a0722"/><stop offset="0.2396" stop-color="#09061f"/><stop offset="0.2708" stop-color="#09061f"/><stop offset="0.2917" stop-color="#0b0724"/><stop offset="0.3333" stop-color="#0c0826"/><stop offset="0.3750" stop-color="#0b0724"/><stop offset="0.4062" stop-color="#0e092b"/><stop offset="0.4271" stop-color="#10092d"/><stop offset="0.4583" stop-color="#0d0829"/><stop offset="0.4792" stop-color="#0e092b"/><stop offset="0.5000" stop-color="#10092d"/><stop offset="0.5208" stop-color="#120a32"/><stop offset="0.5417" stop-color="#120a32"/><stop offset="0.5625" stop-color="#110a30"/><stop offset="0.5833" stop-color="#110a30"/><stop offset="0.6250" stop-color="#160b39"/><stop offset="0.6771" stop-color="#150b37"/><stop offset="0.6979" stop-color="#180c3c"/><stop offset="0.7083" stop-color="#1b0c41"/><stop offset="0.7396" stop-color="#1f0c48"/><stop offset="0.7500" stop-color="#1e0c45"/><stop offset="0.7812" stop-color="#1e0c45"/><stop offset="0.7917" stop-color="#210c4a"/><stop offset="0.8021" stop-color="#230c4c"/><stop offset="0.8125" stop-color="#260c51"/><stop offset="0.8333" stop-color="#290b55"/><stop offset="0.8854" stop-color="#290b55"/><stop offset="0.9062" stop-color="#2f0a5b"/><stop offset="0.9375" stop-color="#340a5f"/><stop offset="0.9896" stop-color="#320a5e"/><stop offset="1.0000" stop-color="#320a5e"/></linearGradient><linearGradient id="gb12" x1="0" y1="0" x2="0" y2="1"><stop offset="0.0000" stop-color="#050417"/><stop offset="0.0104" stop-color="#050417"/><stop offset="0.0208" stop-color="#040314"/><stop offset="0.0625" stop-color="#040312"/><stop offset="0.0729" stop-color="#040314"/><stop offset="0.0833" stop-color="#060419"/><stop offset="0.1042" stop-color="#07051b"/><stop offset="0.1562" stop-color="#050417"/><stop offset="0.1875" stop-color="#09061f"/><stop offset="0.2292" stop-color="#09061f"/><stop offset="0.2500" stop-color="#08051d"/><stop offset="0.2812" stop-color="#0b0724"/><stop offset="0.3125" stop-color="#0c0826"/><stop offset="0.3333" stop-color="#0b0724"/><stop offset="0.3542" stop-color="#0b0724"/><stop offset="0.3750" stop-color="#0c0826"/><stop offset="0.3958" stop-color="#0e092b"/><stop offset="0.4167" stop-color="#0e092b"/><stop offset="0.4375" stop-color="#0d0829"/><stop offset="0.4583" stop-color="#0d0829"/><stop offset="0.4896" stop-color="#110a30"/><stop offset="0.5208" stop-color="#110a30"/><stop offset="0.5312" stop-color="#10092d"/><stop offset="0.5521" stop-color="#10092d"/><stop offset="0.5938" stop-color="#150b37"/><stop offset="0.6146" stop-color="#150b37"/><stop offset="0.6250" stop-color="#140b34"/><stop offset="0.6562" stop-color="#140b34"/><stop offset="0.6771" stop-color="#180c3c"/><stop offset="0.6979" stop-color="#1b0c41"/><stop offset="0.7500" stop-color="#1b0c41"/><stop offset="0.7708" stop-color="#1f0c48"/><stop offset="0.7812" stop-color="#230c4c"/><stop offset="0.8021" stop-color="#260c51"/><stop offset="0.8333" stop-color="#240c4f"/><stop offset="0.8646" stop-color="#290b55"/><stop offset="0.8854" stop-color="#2f0a5b"/><stop offset="0.9062" stop-color="#310a5c"/><stop offset="0.9271" stop-color="#2f0a5b"/><stop offset="0.9479" stop-color="#2f0a5b"/><stop offset="0.9792" stop-color="#360961"/><stop offset="1.0000" stop-color="#380962"/></linearGradient><linearGradient id="gb13" x1="0" y1="0" x2="0" y2="1"><stop offset="0.0000" stop-color="#040312"/><stop offset="0.0208" stop-color="#030210"/><stop offset="0.0417" stop-color="#02020e"/><stop offset="0.0625" stop-color="#030210"/><stop offset="0.0729" stop-color="#040312"/><stop offset="0.0833" stop-color="#050417"/><stop offset="0.1042" stop-color="#050417"/><stop offset="0.1250" stop-color="#040312"/><stop offset="0.1458" stop-color="#040312"/><stop offset="0.1562" stop-color="#040314"/><stop offset="0.1667" stop-color="#060419"/><stop offset="0.1875" stop-color="#08051d"/><stop offset="0.2292" stop-color="#060419"/><stop offset="0.2708" stop-color="#0a0722"/><stop offset="0.3021" stop-color="#0a0722"/><stop offset="0.3125" stop-color="#09061f"/><stop offset="0.3333" stop-color="#09061f"/><stop offset="0.3646" stop-color="#0c0826"/><stop offset="0.3958" stop-color="#0c0826"/><stop offset="0.4167" stop-color="#0b0724"/><stop offset="0.4375" stop-color="#0c0826"/><stop offset="0.4583" stop-color="#0e092b"/><stop offset="0.4792" stop-color="#10092d"/><stop offset="0.5104" stop-color="#0d0829"/><stop offset="0.5312" stop-color="#0e092b"/><stop offset="0.5625" stop-color="#120a32"/><stop offset="0.5833" stop-color="#120a32"/><stop offset="0.6042" stop-color="#110a30"/><stop offset="0.6250" stop-color="#110a30"/><stop offset="0.6562" stop-color="#150b37"/><stop offset="0.7083" stop-color="#150b37"/><stop offset="0.7188" stop-color="#160b39"/><stop offset="0.7500" stop-color="#1e0c45"/><stop offset="0.8021" stop-color="#1e0c45"/><stop offset="0.8125" stop-color="#1f0c48"/><stop offset="0.8229" stop-color="#230c4c"/><stop offset="0.8333" stop-color="#240c4f"/><stop offset="0.8438" stop-color="#280b53"/><stop offset="0.8646" stop-color="#290b55"/><stop offset="0.8854" stop-color="#280b53"/><stop offset="0.9062" stop-color="#290b55"/><stop offset="0.9271" stop-color="#2f0a5b"/><stop offset="0.9583" stop-color="#320a5e"/><stop offset="0.9896" stop-color="#2f0a5b"/><stop offset="1.0000" stop-color="#2f0a5b"/></linearGradient><linearGradient id="gb14" x1="0" y1="0" x2="0" y2="1"><stop offset="0.0000" stop-color="#08051d"/><stop offset="0.0208" stop-color="#060419"/><stop offset="0.0417" stop-color="#060419"/><stop offset="0.0729" stop-color="#09061f"/><stop offset="0.0938" stop-color="#09061f"/><stop offset="0.1146" stop-color="#08051d"/><stop offset="0.1354" stop-color="#08051d"/><stop offset="0.1667" stop-color="#0b0724"/><stop offset="0.1875" stop-color="#0b0724"/><stop offset="0.2083" stop-color="#0a0722"/><stop offset="0.2292" stop-color="#0b0724"/><stop offset="0.2500" stop-color="#0d0829"/><stop offset="0.2812" stop-color="#0d0829"/><stop offset="0.2917" stop-color="#0c0826"/><stop offset="0.3125" stop-color="#0c0826"/><stop offset="0.3438" stop-color="#10092d"/><stop offset="0.3750" stop-color="#10092d"/><stop offset="0.3958" stop-color="#0e092b"/><stop offset="0.4271" stop-color="#120a32"/><stop offset="0.4583" stop-color="#120a32"/><stop offset="0.4792" stop-color="#110a30"/><stop offset="0.5000" stop-color="#120a32"/><stop offset="0.5312" stop-color="#160b39"/><stop offset="0.5625" stop-color="#150b37"/><stop offset="0.5729" stop-color="#140b34"/><stop offset="0.6042" stop-color="#180c3c"/><stop offset="0.6146" stop-color="#1b0c41"/><stop offset="0.6354" stop-color="#1b0c41"/><stop offset="0.6458" stop-color="#190c3e"/><stop offset="0.6667" stop-color="#180c3c"/><stop offset="0.6771" stop-color="#190c3e"/><stop offset="0.6979" stop-color="#1f0c48"/><stop offset="0.7188" stop-color="#230c4c"/><stop offset="0.7500" stop-color="#210c4a"/><stop offset="0.7708" stop-color="#240c4f"/><stop offset="0.7812" stop-color="#280b53"/><stop offset="0.7917" stop-color="#290b55"/><stop offset="0.8021" stop-color="#2d0b59"/><stop offset="0.8229" stop-color="#2d0b59"/><stop offset="0.8438" stop-color="#2b0b57"/><stop offset="0.8750" stop-color="#320a5e"/><stop offset="0.8854" stop-color="#360961"/><stop offset="0.9167" stop-color="#360961"/><stop offset="0.9375" stop-color="#340a5f"/><stop offset="0.9688" stop-color="#3d0965"/><stop offset="1.0000" stop-color="#3e0966"/></linearGradient><linearGradient id="gb15" x1="0" y1="0" x2="0" y2="1"><stop offset="0.0000" stop-color="#040312"/><stop offset="0.0208" stop-color="#030210"/><stop offset="0.0625" stop-color="#060419"/><stop offset="0.0833" stop-color="#050417"/><stop offset="0.0938" stop-color="#040314"/><stop offset="0.1042" stop-color="#040314"/><stop offset="0.1458" stop-color="#08051d"/><stop offset="0.1667" stop-color="#08051d"/><stop offset="0.1875" stop-color="#060419"/><stop offset="0.2292" stop-color="#0a0722"/><stop offset="0.2500" stop-color="#0a0722"/><stop offset="0.2604" stop-color="#09061f"/><stop offset="0.2812" stop-color="#09061f"/><stop offset="0.3125" stop-color="#0c0826"/><stop offset="0.3438" stop-color="#0c0826"/><stop offset="0.3646" stop-color="#0b0724"/><stop offset="0.3958" stop-color="#0e092b"/><stop offset="0.4271" stop-color="#0e092b"/><stop offset="0.4479" stop-color="#0d0829"/><stop offset="0.4688" stop-color="#0e092b"/><stop offset="0.4896" stop-color="#110a30"/><stop offset="0.5104" stop-color="#110a30"/><stop offset="0.5208" stop-color="#10092d"/><stop offset="0.5417" stop-color="#10092d"/><stop offset="0.5729" stop-color="#140b34"/><stop offset="0.6042" stop-color="#140b34"/><stop offset="0.6250" stop-color="#120a32"/><stop offset="0.6771" stop-color="#190c3e"/><stop offset="0.6979" stop-color="#180c3c"/><stop offset="0.7188" stop-color="#190c3e"/><stop offset="0.7500" stop-color="#210c4a"/><stop offset="0.7708" stop-color="#210c4a"/><stop offset="0.7917" stop-color="#1f0c48"/><stop offset="0.8125" stop-color="#230c4c"/><stop offset="0.8333" stop-color="#290b55"/><stop offset="0.8542" stop-color="#2b0b57"/><stop offset="0.8750" stop-color="#290b55"/><stop offset="0.8958" stop-color="#2b0b57"/><stop offset="0.9167" stop-color="#320a5e"/><stop offset="0.9375" stop-color="#340a5f"/><stop offset="0.9688" stop-color="#310a5c"/><stop offset="1.0000" stop-color="#360961"/></linearGradient><linearGradient id="gb16" x1="0" y1="0" x2="0" y2="1"><stop offset="0.0000" stop-color="#030210"/><stop offset="0.0208" stop-color="#040312"/><stop offset="0.0312" stop-color="#050417"/><stop offset="0.0521" stop-color="#060419"/><stop offset="0.0833" stop-color="#040312"/><stop offset="0.0938" stop-color="#040314"/><stop offset="0.1042" stop-color="#060419"/><stop offset="0.1250" stop-color="#08051d"/><stop offset="0.1458" stop-color="#060419"/><stop offset="0.1667" stop-color="#060419"/><stop offset="0.2083" stop-color="#0a0722"/><stop offset="0.2188" stop-color="#09061f"/><stop offset="0.2500" stop-color="#08051d"/><stop offset="0.2917" stop-color="#0c0826"/><stop offset="0.3333" stop-color="#0a0722"/><stop offset="0.3646" stop-color="#0d0829"/><stop offset="0.3958" stop-color="#0d0829"/><stop offset="0.4062" stop-color="#0c0826"/><stop offset="0.4167" stop-color="#0c0826"/><stop offset="0.4479" stop-color="#10092d"/><stop offset="0.4688" stop-color="#10092d"/><stop offset="0.4896" stop-color="#0e092b"/><stop offset="0.5104" stop-color="#10092d"/><stop offset="0.5312" stop-color="#120a32"/><stop offset="0.5521" stop-color="#120a32"/><stop offset="0.5729" stop-color="#110a30"/><stop offset="0.5938" stop-color="#120a32"/><stop offset="0.6146" stop-color="#150b37"/><stop offset="0.6354" stop-color="#150b37"/><stop offset="0.6458" stop-color="#140b34"/><stop offset="0.6562" stop-color="#140b34"/><stop offset="0.6771" stop-color="#160b39"/><stop offset="0.6979" stop-color="#1b0c41"/><stop offset="0.7083" stop-color="#1c0c43"/><stop offset="0.7292" stop-color="#1b0c41"/><stop offset="0.7500" stop-color="#1c0c43"/><stop offset="0.7604" stop-color="#1e0c45"/><stop offset="0.7812" stop-color="#240c4f"/><stop offset="0.7917" stop-color="#240c4f"/><stop offset="0.8021" stop-color="#230c4c"/><stop offset="0.8229" stop-color="#230c4c"/><stop offset="0.8333" stop-color="#240c4f"/><stop offset="0.8542" stop-color="#2b0b57"/><stop offset="0.8750" stop-color="#2d0b59"/><stop offset="0.9062" stop-color="#2b0b57"/><stop offset="0.9479" stop-color="#360961"/><stop offset="0.9792" stop-color="#320a5e"/><stop offset="1.0000" stop-color="#320a5e"/></linearGradient><linearGradient id="gb17" x1="0" y1="0" x2="0" y2="1"><stop offset="0.0000" stop-color="#040314"/><stop offset="0.0104" stop-color="#060419"/><stop offset="0.0312" stop-color="#060419"/><stop offset="0.0521" stop-color="#040314"/><stop offset="0.0625" stop-color="#040314"/><stop offset="0.0938" stop-color="#08051d"/><stop offset="0.1146" stop-color="#07051b"/><stop offset="0.1354" stop-color="#050417"/><stop offset="0.1667" stop-color="#09061f"/><stop offset="0.1875" stop-color="#09061f"/><stop offset="0.2083" stop-color="#08051d"/><stop offset="0.2292" stop-color="#09061f"/><stop offset="0.2500" stop-color="#0b0724"/><stop offset="0.2708" stop-color="#0b0724"/><stop offset="0.2917" stop-color="#0a0722"/><stop offset="0.3229" stop-color="#0d0829"/><stop offset="0.3438" stop-color="#0d0829"/><stop offset="0.3542" stop-color="#0c0826"/><stop offset="0.3750" stop-color="#0c0826"/><stop offset="0.4062" stop-color="#10092d"/><stop offset="0.4583" stop-color="#0e092b"/><stop offset="0.4896" stop-color="#120a32"/><stop offset="0.5104" stop-color="#110a30"/><stop offset="0.5208" stop-color="#10092d"/><stop offset="0.5312" stop-color="#110a30"/><stop offset="0.5417" stop-color="#110a30"/><stop offset="0.5521" stop-color="#140b34"/><stop offset="0.5625" stop-color="#140b34"/><stop offset="0.5729" stop-color="#150b37"/><stop offset="0.5833" stop-color="#140b34"/><stop offset="0.6042" stop-color="#120a32"/><stop offset="0.6458" stop-color="#180c3c"/><stop offset="0.6562" stop-color="#180c3c"/><stop offset="0.6667" stop-color="#160b39"/><stop offset="0.6875" stop-color="#160b39"/><stop offset="0.7083" stop-color="#1c0c43"/><stop offset="0.7292" stop-color="#1f0c48"/><stop offset="0.7396" stop-color="#1e0c45"/><stop offset="0.7604" stop-color="#1e0c45"/><stop offset="0.7708" stop-color="#1f0c48"/><stop offset="0.7917" stop-color="#260c51"/><stop offset="0.8125" stop-color="#280b53"/><stop offset="0.8333" stop-color="#260c51"/><stop offset="0.8542" stop-color="#290b55"/><stop offset="0.8750" stop-color="#310a5c"/><stop offset="0.9167" stop-color="#2f0a5b"/><stop offset="0.9375" stop-color="#320a5e"/><stop offset="0.9583" stop-color="#380962"/><stop offset="0.9792" stop-color="#360961"/><stop offset="1.0000" stop-color="#340a5f"/></linearGradient><linearGradient id="gb18" x1="0" y1="0" x2="0" y2="1"><stop offset="0.0000" stop-color="#050417"/><stop offset="0.0104" stop-color="#040312"/><stop offset="0.0312" stop-color="#030210"/><stop offset="0.0417" stop-color="#040312"/><stop offset="0.0521" stop-color="#050417"/><stop offset="0.0729" stop-color="#060419"/><stop offset="0.0938" stop-color="#040314"/><stop offset="0.1042" stop-color="#040314"/><stop offset="0.1354" stop-color="#08051d"/><stop offset="0.1562" stop-color="#07051b"/><stop offset="0.1771" stop-color="#060419"/><stop offset="0.2188" stop-color="#0a0722"/><stop offset="0.2292" stop-color="#09061f"/><stop offset="0.2500" stop-color="#08051d"/><stop offset="0.2812" stop-color="#0b0724"/><stop offset="0.3021" stop-color="#0b0724"/><stop offset="0.3229" stop-color="#0a0722"/><stop offset="0.3542" stop-color="#0d0829"/><stop offset="0.3750" stop-color="#0d0829"/><stop offset="0.3854" stop-color="#0c0826"/><stop offset="0.4062" stop-color="#0c0826"/><stop offset="0.4375" stop-color="#10092d"/><stop offset="0.4583" stop-color="#0e092b"/><stop offset="0.4688" stop-color="#0d0829"/><stop offset="0.5104" stop-color="#120a32"/><stop offset="0.5312" stop-color="#110a30"/><stop offset="0.5417" stop-color="#10092d"/><stop offset="0.5729" stop-color="#140b34"/><stop offset="0.6042" stop-color="#140b34"/><stop offset="0.6250" stop-color="#120a32"/><stop offset="0.6354" stop-color="#140b34"/><stop offset="0.6562" stop-color="#180c3c"/><stop offset="0.6667" stop-color="#180c3c"/><stop offset="0.6771" stop-color="#160b39"/><stop offset="0.6979" stop-color="#160b39"/><stop offset="0.7188" stop-color="#1c0c43"/><stop offset="0.7396" stop-color="#1f0c48"/><stop offset="0.7604" stop-color="#1c0c43"/><stop offset="0.7812" stop-color="#1f0c48"/><stop offset="0.8021" stop-color="#260c51"/><stop offset="0.8229" stop-color="#260c51"/><stop offset="0.8333" stop-color="#240c4f"/><stop offset="0.8542" stop-color="#280b53"/><stop offset="0.8750" stop-color="#2f0a5b"/><stop offset="0.8958" stop-color="#2f0a5b"/><stop offset="0.9167" stop-color="#2d0b59"/><stop offset="0.9583" stop-color="#360961"/><stop offset="0.9792" stop-color="#320a5e"/><stop offset="1.0000" stop-color="#320a5e"/></linearGradient><linearGradient id="gb19" x1="0" y1="0" x2="0" y2="1"><stop offset="0.0000" stop-color="#02020c"/><stop offset="0.0312" stop-color="#040314"/><stop offset="0.0625" stop-color="#02020e"/><stop offset="0.0833" stop-color="#040312"/><stop offset="0.0938" stop-color="#050417"/><stop offset="0.1146" stop-color="#050417"/><stop offset="0.1354" stop-color="#040312"/><stop offset="0.1667" stop-color="#07051b"/><stop offset="0.1875" stop-color="#060419"/><stop offset="0.2083" stop-color="#050417"/><stop offset="0.2292" stop-color="#08051d"/><stop offset="0.2500" stop-color="#09061f"/><stop offset="0.2708" stop-color="#08051d"/><stop offset="0.2917" stop-color="#09061f"/><stop offset="0.3125" stop-color="#0b0724"/><stop offset="0.3333" stop-color="#0a0722"/><stop offset="0.3438" stop-color="#09061f"/><stop offset="0.3750" stop-color="#0c0826"/><stop offset="0.3958" stop-color="#0c0826"/><stop offset="0.4167" stop-color="#0b0724"/><stop offset="0.4479" stop-color="#0e092b"/><stop offset="0.4896" stop-color="#0d0829"/><stop offset="0.5208" stop-color="#110a30"/><stop offset="0.5312" stop-color="#110a30"/><stop offset="0.5521" stop-color="#0e092b"/><stop offset="0.5833" stop-color="#120a32"/><stop offset="0.6042" stop-color="#120a32"/><stop offset="0.6250" stop-color="#110a30"/><stop offset="0.6562" stop-color="#150b37"/><stop offset="0.6771" stop-color="#150b37"/><stop offset="0.6875" stop-color="#140b34"/><stop offset="0.7083" stop-color="#160b39"/><stop offset="0.7292" stop-color="#1b0c41"/><stop offset="0.7396" stop-color="#1c0c43"/><stop offset="0.7604" stop-color="#190c3e"/><stop offset="0.7917" stop-color="#210c4a"/><stop offset="0.8125" stop-color="#230c4c"/><stop offset="0.8333" stop-color="#210c4a"/><stop offset="0.8438" stop-color="#230c4c"/><stop offset="0.8646" stop-color="#290b55"/><stop offset="0.8750" stop-color="#2b0b57"/><stop offset="0.8958" stop-color="#280b53"/><stop offset="0.9167" stop-color="#2b0b57"/><stop offset="0.9271" stop-color="#2f0a5b"/><stop offset="0.9479" stop-color="#310a5c"/><stop offset="0.9792" stop-color="#2f0a5b"/><stop offset="1.0000" stop-color="#320a5e"/></linearGradient><linearGradient id="gc0" x1="0" y1="0" x2="0" y2="1"><stop offset="0.0000" stop-color="#b3325a"/><stop offset="0.0417" stop-color="#b93556"/><stop offset="0.0833" stop-color="#bd3853"/><stop offset="0.1146" stop-color="#c03a51"/><stop offset="0.1458" stop-color="#c63d4d"/><stop offset="0.2500" stop-color="#d24644"/><stop offset="0.3958" stop-color="#d24644"/><stop offset="0.4688" stop-color="#c33b4f"/><stop offset="0.5000" stop-color="#bd3853"/><stop offset="0.5417" stop-color="#b93556"/><stop offset="0.5833" stop-color="#b3325a"/><stop offset="0.6771" stop-color="#972766"/><stop offset="0.6979" stop-color="#902568"/><stop offset="0.7188" stop-color="#8c2369"/><stop offset="0.7604" stop-color="#7f1e6c"/><stop offset="0.8125" stop-color="#6a176e"/><stop offset="0.8542" stop-color="#550f6d"/><stop offset="0.8646" stop-color="#510e6c"/><stop offset="0.8958" stop-color="#3e0966"/><stop offset="0.9167" stop-color="#320a5e"/><stop offset="0.9479" stop-color="#290b55"/><stop offset="0.9688" stop-color="#2b0b57"/><stop offset="1.0000" stop-color="#310a5c"/></linearGradient><linearGradient id="gc1" x1="0" y1="0" x2="0" y2="1"><stop offset="0.0000" stop-color="#4c0c6b"/><stop offset="0.0208" stop-color="#4a0c6b"/><stop offset="0.1354" stop-color="#4a0c6b"/><stop offset="0.1875" stop-color="#540f6d"/><stop offset="0.2396" stop-color="#65156e"/><stop offset="0.3125" stop-color="#801f6c"/><stop offset="0.3542" stop-color="#952667"/><stop offset="0.4271" stop-color="#b93556"/><stop offset="0.4479" stop-color="#c13a50"/><stop offset="0.4688" stop-color="#cb4149"/><stop offset="0.4792" stop-color="#cf4446"/><stop offset="0.5208" stop-color="#d54a41"/><stop offset="0.5417" stop-color="#d54a41"/><stop offset="0.5625" stop-color="#d74b3f"/><stop offset="0.6146" stop-color="#d74b3f"/><stop offset="0.6458" stop-color="#d44842"/><stop offset="0.6875" stop-color="#d34743"/><stop offset="0.7396" stop-color="#bf3952"/><stop offset="0.7812" stop-color="#b3325a"/><stop offset="0.8229" stop-color="#9f2a63"/><stop offset="0.8750" stop-color="#7c1d6d"/><stop offset="0.9062" stop-color="#67166e"/><stop offset="0.9271" stop-color="#57106e"/><stop offset="0.9479" stop-color="#450a69"/><stop offset="0.9583" stop-color="#3d0965"/><stop offset="0.9688" stop-color="#390963"/><stop offset="0.9896" stop-color="#360961"/><stop offset="1.0000" stop-color="#320a5e"/></linearGradient><linearGradient id="gc2" x1="0" y1="0" x2="0" y2="1"><stop offset="0.0000" stop-color="#d34743"/><stop offset="0.0312" stop-color="#d24644"/><stop offset="0.0625" stop-color="#cf4446"/><stop offset="0.0938" stop-color="#ce4347"/><stop offset="0.1562" stop-color="#c63d4d"/><stop offset="0.1875" stop-color="#c03a51"/><stop offset="0.2188" stop-color="#b63458"/><stop offset="0.2396" stop-color="#ae305c"/><stop offset="0.3021" stop-color="#982766"/><stop offset="0.3750" stop-color="#7d1e6d"/><stop offset="0.4271" stop-color="#6d186e"/><stop offset="0.5000" stop-color="#62146e"/><stop offset="0.5417" stop-color="#62146e"/><stop offset="0.5833" stop-color="#69166e"/><stop offset="0.6667" stop-color="#6a176e"/><stop offset="0.6771" stop-color="#6c186e"/><stop offset="0.7604" stop-color="#5f136e"/><stop offset="0.7708" stop-color="#5f136e"/><stop offset="0.8333" stop-color="#4d0d6c"/><stop offset="0.8750" stop-color="#3b0964"/><stop offset="0.9167" stop-color="#2b0b57"/><stop offset="0.9375" stop-color="#260c51"/><stop offset="0.9792" stop-color="#2b0b57"/><stop offset="0.9896" stop-color="#2f0a5b"/><stop offset="1.0000" stop-color="#310a5c"/></linearGradient><linearGradient id="gc3" x1="0" y1="0" x2="0" y2="1"><stop offset="0.0000" stop-color="#b3325a"/><stop offset="0.0521" stop-color="#a92e5e"/><stop offset="0.1354" stop-color="#982766"/><stop offset="0.1979" stop-color="#8f2469"/><stop offset="0.2292" stop-color="#8c2369"/><stop offset="0.2500" stop-color="#88226a"/><stop offset="0.3125" stop-color="#82206c"/><stop offset="0.3646" stop-color="#7d1e6d"/><stop offset="0.4062" stop-color="#721a6e"/><stop offset="0.4167" stop-color="#71196e"/><stop offset="0.4688" stop-color="#61136e"/><stop offset="0.4792" stop-color="#5c126e"/><stop offset="0.5000" stop-color="#59106e"/><stop offset="0.5104" stop-color="#550f6d"/><stop offset="0.5833" stop-color="#4f0d6c"/><stop offset="0.6042" stop-color="#510e6c"/><stop offset="0.6458" stop-color="#520e6d"/><stop offset="0.6667" stop-color="#540f6d"/><stop offset="0.7188" stop-color="#540f6d"/><stop offset="0.7396" stop-color="#520e6d"/><stop offset="0.7708" stop-color="#4f0d6c"/><stop offset="0.8333" stop-color="#450a69"/><stop offset="0.8854" stop-color="#390963"/><stop offset="0.8958" stop-color="#380962"/><stop offset="0.9167" stop-color="#320a5e"/><stop offset="0.9479" stop-color="#2f0a5b"/><stop offset="0.9792" stop-color="#2f0a5b"/><stop offset="1.0000" stop-color="#310a5c"/></linearGradient><linearGradient id="gc4" x1="0" y1="0" x2="0" y2="1"><stop offset="0.0000" stop-color="#ba3655"/><stop offset="0.0312" stop-color="#b93556"/><stop offset="0.0625" stop-color="#b63458"/><stop offset="0.0833" stop-color="#b63458"/><stop offset="0.1250" stop-color="#b1325a"/><stop offset="0.1979" stop-color="#9b2964"/><stop offset="0.2188" stop-color="#972766"/><stop offset="0.3125" stop-color="#7a1d6d"/><stop offset="0.4062" stop-color="#5f136e"/><stop offset="0.4792" stop-color="#520e6d"/><stop offset="0.5104" stop-color="#4f0d6c"/><stop offset="0.5417" stop-color="#490b6a"/><stop offset="0.5729" stop-color="#3e0966"/><stop offset="0.5833" stop-color="#3d0965"/><stop offset="0.6250" stop-color="#2f0a5b"/><stop offset="0.6354" stop-color="#2d0b59"/><stop offset="0.6562" stop-color="#310a5c"/><stop offset="0.6979" stop-color="#340a5f"/><stop offset="0.7292" stop-color="#420a68"/><stop offset="0.7500" stop-color="#4c0c6b"/><stop offset="0.7917" stop-color="#59106e"/><stop offset="0.8125" stop-color="#5d126e"/><stop offset="0.8542" stop-color="#5a116e"/><stop offset="0.8646" stop-color="#5a116e"/><stop offset="0.8854" stop-color="#520e6d"/><stop offset="0.9375" stop-color="#390963"/><stop offset="0.9583" stop-color="#340a5f"/><stop offset="1.0000" stop-color="#320a5e"/></linearGradient><linearGradient id="gc5" x1="0" y1="0" x2="0" y2="1"><stop offset="0.0000" stop-color="#61136e"/><stop offset="0.0208" stop-color="#5f136e"/><stop offset="0.0625" stop-color="#5f136e"/><stop offset="0.0833" stop-color="#5d126e"/><stop offset="0.1667" stop-color="#5c126e"/><stop offset="0.1875" stop-color="#5a116e"/><stop offset="0.2396" stop-color="#59106e"/><stop offset="0.2812" stop-color="#520e6d"/><stop offset="0.3125" stop-color="#4f0d6c"/><stop offset="0.3750" stop-color="#450a69"/><stop offset="0.4062" stop-color="#420a68"/><stop offset="0.4271" stop-color="#3e0966"/><stop offset="0.5208" stop-color="#3d0965"/><stop offset="0.5729" stop-color="#380962"/><stop offset="0.5833" stop-color="#380962"/><stop offset="0.6042" stop-color="#320a5e"/><stop offset="0.6250" stop-color="#2f0a5b"/><stop offset="0.6458" stop-color="#290b55"/><stop offset="0.6562" stop-color="#280b53"/><stop offset="0.6667" stop-color="#240c4f"/><stop offset="0.6771" stop-color="#230c4c"/><stop offset="0.6875" stop-color="#1f0c48"/><stop offset="0.6979" stop-color="#1e0c45"/><stop offset="0.7188" stop-color="#260c51"/><stop offset="0.7500" stop-color="#360961"/><stop offset="0.7604" stop-color="#3d0965"/><stop offset="0.8125" stop-color="#4c0c6b"/><stop offset="0.8438" stop-color="#510e6c"/><stop offset="0.8646" stop-color="#510e6c"/><stop offset="0.9062" stop-color="#470b6a"/><stop offset="0.9479" stop-color="#390963"/><stop offset="0.9896" stop-color="#320a5e"/><stop offset="1.0000" stop-color="#320a5e"/></linearGradient><linearGradient id="gc6" x1="0" y1="0" x2="0" y2="1"><stop offset="0.0000" stop-color="#1f0c48"/><stop offset="0.0104" stop-color="#1f0c48"/><stop offset="0.0208" stop-color="#1e0c45"/><stop offset="0.0417" stop-color="#1e0c45"/><stop offset="0.0729" stop-color="#1b0c41"/><stop offset="0.0938" stop-color="#1b0c41"/><stop offset="0.1042" stop-color="#190c3e"/><stop offset="0.1250" stop-color="#190c3e"/><stop offset="0.1458" stop-color="#180c3c"/><stop offset="0.1562" stop-color="#160b39"/><stop offset="0.1771" stop-color="#160b39"/><stop offset="0.1979" stop-color="#150b37"/><stop offset="0.2083" stop-color="#150b37"/><stop offset="0.2188" stop-color="#140b34"/><stop offset="0.2396" stop-color="#140b34"/><stop offset="0.2604" stop-color="#120a32"/><stop offset="0.2812" stop-color="#140b34"/><stop offset="0.3021" stop-color="#140b34"/><stop offset="0.3125" stop-color="#150b37"/><stop offset="0.3438" stop-color="#150b37"/><stop offset="0.3646" stop-color="#160b39"/><stop offset="0.3854" stop-color="#160b39"/><stop offset="0.3958" stop-color="#180c3c"/><stop offset="0.4271" stop-color="#190c3e"/><stop offset="0.4375" stop-color="#1b0c41"/><stop offset="0.4583" stop-color="#1c0c43"/><stop offset="0.4792" stop-color="#1e0c45"/><stop offset="0.5729" stop-color="#2d0b59"/><stop offset="0.6042" stop-color="#340a5f"/><stop offset="0.6250" stop-color="#340a5f"/><stop offset="0.6771" stop-color="#2d0b59"/><stop offset="0.6875" stop-color="#2b0b57"/><stop offset="0.7188" stop-color="#1f0c48"/><stop offset="0.7396" stop-color="#180c3c"/><stop offset="0.7500" stop-color="#190c3e"/><stop offset="0.7604" stop-color="#1c0c43"/><stop offset="0.7708" stop-color="#1e0c45"/><stop offset="0.7812" stop-color="#210c4a"/><stop offset="0.7917" stop-color="#230c4c"/><stop offset="0.8125" stop-color="#290b55"/><stop offset="0.8333" stop-color="#340a5f"/><stop offset="0.8646" stop-color="#420a68"/><stop offset="0.8854" stop-color="#490b6a"/><stop offset="0.9375" stop-color="#490b6a"/><stop offset="0.9792" stop-color="#3b0964"/><stop offset="0.9896" stop-color="#380962"/><stop offset="1.0000" stop-color="#380962"/></linearGradient><linearGradient id="gc7" x1="0" y1="0" x2="0" y2="1"><stop offset="0.0000" stop-color="#0e092b"/><stop offset="0.0208" stop-color="#0c0826"/><stop offset="0.0417" stop-color="#0b0724"/><stop offset="0.0625" stop-color="#0a0722"/><stop offset="0.0833" stop-color="#08051d"/><stop offset="0.1146" stop-color="#09061f"/><stop offset="0.1562" stop-color="#0d0829"/><stop offset="0.1875" stop-color="#0d0829"/><stop offset="0.2188" stop-color="#0a0722"/><stop offset="0.2292" stop-color="#0a0722"/><stop offset="0.2500" stop-color="#08051d"/><stop offset="0.2812" stop-color="#09061f"/><stop offset="0.2917" stop-color="#0a0722"/><stop offset="0.3125" stop-color="#0b0724"/><stop offset="0.3333" stop-color="#0c0826"/><stop offset="0.3542" stop-color="#0e092b"/><stop offset="0.3958" stop-color="#0d0829"/><stop offset="0.4167" stop-color="#0d0829"/><stop offset="0.4271" stop-color="#0c0826"/><stop offset="0.4375" stop-color="#0c0826"/><stop offset="0.4792" stop-color="#160b39"/><stop offset="0.4896" stop-color="#150b37"/><stop offset="0.5312" stop-color="#09061f"/><stop offset="0.5521" stop-color="#050417"/><stop offset="0.5729" stop-color="#09061f"/><stop offset="0.5938" stop-color="#0e092b"/><stop offset="0.6250" stop-color="#160b39"/><stop offset="0.6354" stop-color="#180c3c"/><stop offset="0.6979" stop-color="#180c3c"/><stop offset="0.7396" stop-color="#120a32"/><stop offset="0.7604" stop-color="#110a30"/><stop offset="0.7812" stop-color="#0e092b"/><stop offset="0.8229" stop-color="#1f0c48"/><stop offset="0.8542" stop-color="#2f0a5b"/><stop offset="0.8958" stop-color="#3e0966"/><stop offset="0.9167" stop-color="#470b6a"/><stop offset="0.9479" stop-color="#440a68"/><stop offset="0.9896" stop-color="#3d0965"/><stop offset="1.0000" stop-color="#3d0965"/></linearGradient><linearGradient id="gc8" x1="0" y1="0" x2="0" y2="1"><stop offset="0.0000" stop-color="#110a30"/><stop offset="0.0312" stop-color="#110a30"/><stop offset="0.0417" stop-color="#10092d"/><stop offset="0.0729" stop-color="#10092d"/><stop offset="0.0938" stop-color="#0e092b"/><stop offset="0.1146" stop-color="#0e092b"/><stop offset="0.1354" stop-color="#10092d"/><stop offset="0.1667" stop-color="#140b34"/><stop offset="0.1771" stop-color="#140b34"/><stop offset="0.1979" stop-color="#160b39"/><stop offset="0.2292" stop-color="#160b39"/><stop offset="0.3125" stop-color="#0c0826"/><stop offset="0.3958" stop-color="#160b39"/><stop offset="0.4167" stop-color="#1b0c41"/><stop offset="0.4792" stop-color="#240c4f"/><stop offset="0.4896" stop-color="#240c4f"/><stop offset="0.5000" stop-color="#230c4c"/><stop offset="0.5104" stop-color="#1f0c48"/><stop offset="0.5938" stop-color="#140b34"/><stop offset="0.6146" stop-color="#120a32"/><stop offset="0.6354" stop-color="#110a30"/><stop offset="0.6562" stop-color="#0e092b"/><stop offset="0.6667" stop-color="#10092d"/><stop offset="0.7083" stop-color="#1c0c43"/><stop offset="0.7292" stop-color="#240c4f"/><stop offset="0.7500" stop-color="#210c4a"/><stop offset="0.7604" stop-color="#1e0c45"/><stop offset="0.7708" stop-color="#1c0c43"/><stop offset="0.7812" stop-color="#190c3e"/><stop offset="0.7917" stop-color="#180c3c"/><stop offset="0.8021" stop-color="#150b37"/><stop offset="0.8333" stop-color="#1f0c48"/><stop offset="0.8646" stop-color="#290b55"/><stop offset="0.8854" stop-color="#340a5f"/><stop offset="0.9167" stop-color="#420a68"/><stop offset="0.9271" stop-color="#450a69"/><stop offset="0.9583" stop-color="#420a68"/><stop offset="0.9896" stop-color="#3d0965"/><stop offset="1.0000" stop-color="#3d0965"/></linearGradient><linearGradient id="gc9" x1="0" y1="0" x2="0" y2="1"><stop offset="0.0000" stop-color="#0c0826"/><stop offset="0.0521" stop-color="#0a0722"/><stop offset="0.0625" stop-color="#09061f"/><stop offset="0.1146" stop-color="#07051b"/><stop offset="0.1458" stop-color="#09061f"/><stop offset="0.1667" stop-color="#0b0724"/><stop offset="0.1875" stop-color="#0c0826"/><stop offset="0.1979" stop-color="#0d0829"/><stop offset="0.2188" stop-color="#0e092b"/><stop offset="0.2396" stop-color="#0c0826"/><stop offset="0.2604" stop-color="#0b0724"/><stop offset="0.2812" stop-color="#0a0722"/><stop offset="0.2917" stop-color="#09061f"/><stop offset="0.3229" stop-color="#08051d"/><stop offset="0.3542" stop-color="#0b0724"/><stop offset="0.3750" stop-color="#0c0826"/><stop offset="0.4062" stop-color="#10092d"/><stop offset="0.4167" stop-color="#10092d"/><stop offset="0.4375" stop-color="#120a32"/><stop offset="0.4688" stop-color="#140b34"/><stop offset="0.4792" stop-color="#150b37"/><stop offset="0.5104" stop-color="#160b39"/><stop offset="0.5208" stop-color="#180c3c"/><stop offset="0.5521" stop-color="#190c3e"/><stop offset="0.5625" stop-color="#1b0c41"/><stop offset="0.6146" stop-color="#1b0c41"/><stop offset="0.6250" stop-color="#190c3e"/><stop offset="0.6458" stop-color="#190c3e"/><stop offset="0.6667" stop-color="#180c3c"/><stop offset="0.6875" stop-color="#180c3c"/><stop offset="0.7188" stop-color="#1c0c43"/><stop offset="0.7396" stop-color="#1e0c45"/><stop offset="0.7500" stop-color="#1c0c43"/><stop offset="0.7708" stop-color="#160b39"/><stop offset="0.7812" stop-color="#150b37"/><stop offset="0.8021" stop-color="#10092d"/><stop offset="0.8125" stop-color="#0e092b"/><stop offset="0.8229" stop-color="#0c0826"/><stop offset="0.8333" stop-color="#10092d"/><stop offset="0.8438" stop-color="#150b37"/><stop offset="0.8750" stop-color="#230c4c"/><stop offset="0.8854" stop-color="#290b55"/><stop offset="0.9062" stop-color="#360961"/><stop offset="0.9271" stop-color="#420a68"/><stop offset="0.9375" stop-color="#440a68"/><stop offset="0.9583" stop-color="#400a67"/><stop offset="1.0000" stop-color="#3e0966"/></linearGradient><linearGradient id="gc10" x1="0" y1="0" x2="0" y2="1"><stop offset="0.0000" stop-color="#10092d"/><stop offset="0.0208" stop-color="#0b0724"/><stop offset="0.0417" stop-color="#09061f"/><stop offset="0.0625" stop-color="#09061f"/><stop offset="0.0938" stop-color="#10092d"/><stop offset="0.1042" stop-color="#110a30"/><stop offset="0.1146" stop-color="#110a30"/><stop offset="0.1354" stop-color="#0e092b"/><stop offset="0.1667" stop-color="#09061f"/><stop offset="0.1771" stop-color="#09061f"/><stop offset="0.2083" stop-color="#0e092b"/><stop offset="0.2188" stop-color="#110a30"/><stop offset="0.2396" stop-color="#120a32"/><stop offset="0.2500" stop-color="#110a30"/><stop offset="0.2708" stop-color="#0c0826"/><stop offset="0.2917" stop-color="#0a0722"/><stop offset="0.3125" stop-color="#0b0724"/><stop offset="0.3438" stop-color="#120a32"/><stop offset="0.3646" stop-color="#140b34"/><stop offset="0.3750" stop-color="#120a32"/><stop offset="0.4062" stop-color="#0c0826"/><stop offset="0.4167" stop-color="#0b0724"/><stop offset="0.4375" stop-color="#0d0829"/><stop offset="0.4792" stop-color="#180c3c"/><stop offset="0.5000" stop-color="#150b37"/><stop offset="0.5312" stop-color="#0c0826"/><stop offset="0.5521" stop-color="#0c0826"/><stop offset="0.5729" stop-color="#120a32"/><stop offset="0.5938" stop-color="#1b0c41"/><stop offset="0.6042" stop-color="#1e0c45"/><stop offset="0.6146" stop-color="#1c0c43"/><stop offset="0.6458" stop-color="#10092d"/><stop offset="0.6667" stop-color="#0c0826"/><stop offset="0.6875" stop-color="#10092d"/><stop offset="0.7083" stop-color="#1b0c41"/><stop offset="0.7188" stop-color="#1f0c48"/><stop offset="0.7292" stop-color="#230c4c"/><stop offset="0.7396" stop-color="#1f0c48"/><stop offset="0.7708" stop-color="#0e092b"/><stop offset="0.7812" stop-color="#0c0826"/><stop offset="0.7917" stop-color="#0b0724"/><stop offset="0.8125" stop-color="#10092d"/><stop offset="0.8333" stop-color="#180c3c"/><stop offset="0.8438" stop-color="#1b0c41"/><stop offset="0.8542" stop-color="#1c0c43"/><stop offset="0.8646" stop-color="#190c3e"/><stop offset="0.8750" stop-color="#140b34"/><stop offset="0.8958" stop-color="#120a32"/><stop offset="0.9062" stop-color="#160b39"/><stop offset="0.9271" stop-color="#280b53"/><stop offset="0.9375" stop-color="#2f0a5b"/><stop offset="0.9688" stop-color="#360961"/><stop offset="0.9896" stop-color="#340a5f"/><stop offset="1.0000" stop-color="#320a5e"/></linearGradient><linearGradient id="gc11" x1="0" y1="0" x2="0" y2="1"><stop offset="0.0000" stop-color="#0a0722"/><stop offset="0.0208" stop-color="#0e092b"/><stop offset="0.0417" stop-color="#10092d"/><stop offset="0.0625" stop-color="#0e092b"/><stop offset="0.0938" stop-color="#09061f"/><stop offset="0.1042" stop-color="#09061f"/><stop offset="0.1250" stop-color="#0b0724"/><stop offset="0.1354" stop-color="#0e092b"/><stop offset="0.1562" stop-color="#110a30"/><stop offset="0.1667" stop-color="#110a30"/><stop offset="0.1979" stop-color="#0b0724"/><stop offset="0.2188" stop-color="#09061f"/><stop offset="0.2396" stop-color="#0b0724"/><stop offset="0.2708" stop-color="#120a32"/><stop offset="0.2917" stop-color="#120a32"/><stop offset="0.3229" stop-color="#0b0724"/><stop offset="0.3333" stop-color="#0a0722"/><stop offset="0.3542" stop-color="#0c0826"/><stop offset="0.3854" stop-color="#140b34"/><stop offset="0.3958" stop-color="#150b37"/><stop offset="0.4062" stop-color="#150b37"/><stop offset="0.4167" stop-color="#120a32"/><stop offset="0.4271" stop-color="#110a30"/><stop offset="0.4479" stop-color="#0c0826"/><stop offset="0.4583" stop-color="#0b0724"/><stop offset="0.4688" stop-color="#0c0826"/><stop offset="0.4896" stop-color="#110a30"/><stop offset="0.5104" stop-color="#180c3c"/><stop offset="0.5208" stop-color="#190c3e"/><stop offset="0.5312" stop-color="#180c3c"/><stop offset="0.5417" stop-color="#140b34"/><stop offset="0.5521" stop-color="#110a30"/><stop offset="0.5625" stop-color="#0d0829"/><stop offset="0.5729" stop-color="#0c0826"/><stop offset="0.5833" stop-color="#0c0826"/><stop offset="0.6042" stop-color="#120a32"/><stop offset="0.6250" stop-color="#1b0c41"/><stop offset="0.6354" stop-color="#1e0c45"/><stop offset="0.6458" stop-color="#1e0c45"/><stop offset="0.6562" stop-color="#190c3e"/><stop offset="0.6667" stop-color="#140b34"/><stop offset="0.6771" stop-color="#10092d"/><stop offset="0.6979" stop-color="#0c0826"/><stop offset="0.7083" stop-color="#0d0829"/><stop offset="0.7292" stop-color="#150b37"/><stop offset="0.7396" stop-color="#1c0c43"/><stop offset="0.7500" stop-color="#210c4a"/><stop offset="0.7604" stop-color="#210c4a"/><stop offset="0.7708" stop-color="#1e0c45"/><stop offset="0.7812" stop-color="#160b39"/><stop offset="0.8021" stop-color="#0d0829"/><stop offset="0.8125" stop-color="#0b0724"/><stop offset="0.8229" stop-color="#0b0724"/><stop offset="0.8438" stop-color="#10092d"/><stop offset="0.8542" stop-color="#150b37"/><stop offset="0.8750" stop-color="#1c0c43"/><stop offset="0.8958" stop-color="#1e0c45"/><stop offset="0.9062" stop-color="#1c0c43"/><stop offset="0.9271" stop-color="#230c4c"/><stop offset="0.9375" stop-color="#2b0b57"/><stop offset="0.9896" stop-color="#360961"/><stop offset="1.0000" stop-color="#360961"/></linearGradient><linearGradient id="gc12" x1="0" y1="0" x2="0" y2="1"><stop offset="0.0000" stop-color="#0d0829"/><stop offset="0.0208" stop-color="#09061f"/><stop offset="0.0417" stop-color="#09061f"/><stop offset="0.0729" stop-color="#0e092b"/><stop offset="0.0833" stop-color="#110a30"/><stop offset="0.0938" stop-color="#110a30"/><stop offset="0.1250" stop-color="#0b0724"/><stop offset="0.1458" stop-color="#09061f"/><stop offset="0.1562" stop-color="#09061f"/><stop offset="0.1875" stop-color="#10092d"/><stop offset="0.2083" stop-color="#120a32"/><stop offset="0.2188" stop-color="#110a30"/><stop offset="0.2500" stop-color="#0a0722"/><stop offset="0.2708" stop-color="#0a0722"/><stop offset="0.3021" stop-color="#110a30"/><stop offset="0.3229" stop-color="#140b34"/><stop offset="0.3333" stop-color="#120a32"/><stop offset="0.3646" stop-color="#0c0826"/><stop offset="0.3854" stop-color="#0b0724"/><stop offset="0.4271" stop-color="#150b37"/><stop offset="0.4479" stop-color="#150b37"/><stop offset="0.4792" stop-color="#0d0829"/><stop offset="0.4896" stop-color="#0c0826"/><stop offset="0.5000" stop-color="#0c0826"/><stop offset="0.5208" stop-color="#110a30"/><stop offset="0.5417" stop-color="#190c3e"/><stop offset="0.5521" stop-color="#1b0c41"/><stop offset="0.5729" stop-color="#150b37"/><stop offset="0.5938" stop-color="#0d0829"/><stop offset="0.6042" stop-color="#0c0826"/><stop offset="0.6146" stop-color="#0c0826"/><stop offset="0.6354" stop-color="#120a32"/><stop offset="0.6562" stop-color="#1e0c45"/><stop offset="0.6667" stop-color="#1f0c48"/><stop offset="0.6771" stop-color="#1e0c45"/><stop offset="0.6979" stop-color="#120a32"/><stop offset="0.7188" stop-color="#0c0826"/><stop offset="0.7292" stop-color="#0c0826"/><stop offset="0.7396" stop-color="#0e092b"/><stop offset="0.7708" stop-color="#1f0c48"/><stop offset="0.7812" stop-color="#230c4c"/><stop offset="0.7917" stop-color="#1f0c48"/><stop offset="0.8125" stop-color="#120a32"/><stop offset="0.8333" stop-color="#0a0722"/><stop offset="0.8542" stop-color="#0b0724"/><stop offset="0.8750" stop-color="#140b34"/><stop offset="0.8958" stop-color="#230c4c"/><stop offset="0.9062" stop-color="#260c51"/><stop offset="0.9271" stop-color="#280b53"/><stop offset="0.9479" stop-color="#2b0b57"/><stop offset="0.9688" stop-color="#2d0b59"/><stop offset="0.9792" stop-color="#310a5c"/><stop offset="1.0000" stop-color="#340a5f"/></linearGradient><linearGradient id="gc13" x1="0" y1="0" x2="0" y2="1"><stop offset="0.0000" stop-color="#0c0826"/><stop offset="0.0104" stop-color="#0e092b"/><stop offset="0.0312" stop-color="#10092d"/><stop offset="0.0417" stop-color="#0e092b"/><stop offset="0.0729" stop-color="#09061f"/><stop offset="0.0833" stop-color="#09061f"/><stop offset="0.1146" stop-color="#0e092b"/><stop offset="0.1354" stop-color="#110a30"/><stop offset="0.1458" stop-color="#110a30"/><stop offset="0.1771" stop-color="#0a0722"/><stop offset="0.1875" stop-color="#09061f"/><stop offset="0.1979" stop-color="#09061f"/><stop offset="0.2292" stop-color="#10092d"/><stop offset="0.2500" stop-color="#120a32"/><stop offset="0.2604" stop-color="#110a30"/><stop offset="0.2812" stop-color="#0c0826"/><stop offset="0.3021" stop-color="#0a0722"/><stop offset="0.3125" stop-color="#0b0724"/><stop offset="0.3438" stop-color="#120a32"/><stop offset="0.3646" stop-color="#140b34"/><stop offset="0.3750" stop-color="#120a32"/><stop offset="0.4062" stop-color="#0b0724"/><stop offset="0.4167" stop-color="#0b0724"/><stop offset="0.4688" stop-color="#180c3c"/><stop offset="0.4896" stop-color="#140b34"/><stop offset="0.5000" stop-color="#10092d"/><stop offset="0.5208" stop-color="#0c0826"/><stop offset="0.5312" stop-color="#0c0826"/><stop offset="0.5521" stop-color="#120a32"/><stop offset="0.5729" stop-color="#1b0c41"/><stop offset="0.5833" stop-color="#1b0c41"/><stop offset="0.5938" stop-color="#190c3e"/><stop offset="0.6042" stop-color="#140b34"/><stop offset="0.6146" stop-color="#10092d"/><stop offset="0.6354" stop-color="#0c0826"/><stop offset="0.6458" stop-color="#0d0829"/><stop offset="0.6667" stop-color="#150b37"/><stop offset="0.6771" stop-color="#1c0c43"/><stop offset="0.6875" stop-color="#210c4a"/><stop offset="0.6979" stop-color="#1f0c48"/><stop offset="0.7083" stop-color="#1b0c41"/><stop offset="0.7188" stop-color="#140b34"/><stop offset="0.7396" stop-color="#0c0826"/><stop offset="0.7500" stop-color="#0c0826"/><stop offset="0.7708" stop-color="#120a32"/><stop offset="0.7917" stop-color="#1f0c48"/><stop offset="0.8021" stop-color="#230c4c"/><stop offset="0.8125" stop-color="#1f0c48"/><stop offset="0.8333" stop-color="#110a30"/><stop offset="0.8438" stop-color="#0c0826"/><stop offset="0.8542" stop-color="#09061f"/><stop offset="0.8646" stop-color="#09061f"/><stop offset="0.8750" stop-color="#0c0826"/><stop offset="0.8854" stop-color="#110a30"/><stop offset="0.8958" stop-color="#190c3e"/><stop offset="0.9062" stop-color="#240c4f"/><stop offset="0.9167" stop-color="#2b0b57"/><stop offset="0.9375" stop-color="#2d0b59"/><stop offset="0.9583" stop-color="#2d0b59"/><stop offset="0.9688" stop-color="#2b0b57"/><stop offset="1.0000" stop-color="#320a5e"/></linearGradient><linearGradient id="gc14" x1="0" y1="0" x2="0" y2="1"><stop offset="0.0000" stop-color="#0a0722"/><stop offset="0.0104" stop-color="#09061f"/><stop offset="0.0208" stop-color="#09061f"/><stop offset="0.0521" stop-color="#0e092b"/><stop offset="0.0729" stop-color="#110a30"/><stop offset="0.1042" stop-color="#0b0724"/><stop offset="0.1146" stop-color="#09061f"/><stop offset="0.1250" stop-color="#09061f"/><stop offset="0.1458" stop-color="#0b0724"/><stop offset="0.1562" stop-color="#0e092b"/><stop offset="0.1771" stop-color="#110a30"/><stop offset="0.1875" stop-color="#110a30"/><stop offset="0.2188" stop-color="#0a0722"/><stop offset="0.2292" stop-color="#09061f"/><stop offset="0.2604" stop-color="#0e092b"/><stop offset="0.2708" stop-color="#110a30"/><stop offset="0.2917" stop-color="#120a32"/><stop offset="0.3021" stop-color="#110a30"/><stop offset="0.3333" stop-color="#0a0722"/><stop offset="0.3542" stop-color="#0c0826"/><stop offset="0.3750" stop-color="#120a32"/><stop offset="0.3958" stop-color="#150b37"/><stop offset="0.4167" stop-color="#110a30"/><stop offset="0.4271" stop-color="#0d0829"/><stop offset="0.4375" stop-color="#0c0826"/><stop offset="0.4479" stop-color="#0c0826"/><stop offset="0.4688" stop-color="#10092d"/><stop offset="0.4896" stop-color="#160b39"/><stop offset="0.5000" stop-color="#180c3c"/><stop offset="0.5208" stop-color="#140b34"/><stop offset="0.5312" stop-color="#10092d"/><stop offset="0.5521" stop-color="#0c0826"/><stop offset="0.5729" stop-color="#10092d"/><stop offset="0.5833" stop-color="#150b37"/><stop offset="0.6042" stop-color="#1e0c45"/><stop offset="0.6146" stop-color="#1b0c41"/><stop offset="0.6458" stop-color="#0e092b"/><stop offset="0.6562" stop-color="#0c0826"/><stop offset="0.6771" stop-color="#10092d"/><stop offset="0.6979" stop-color="#1c0c43"/><stop offset="0.7083" stop-color="#210c4a"/><stop offset="0.7188" stop-color="#1f0c48"/><stop offset="0.7292" stop-color="#1b0c41"/><stop offset="0.7396" stop-color="#140b34"/><stop offset="0.7500" stop-color="#0e092b"/><stop offset="0.7604" stop-color="#0c0826"/><stop offset="0.7708" stop-color="#0c0826"/><stop offset="0.7812" stop-color="#0e092b"/><stop offset="0.7917" stop-color="#140b34"/><stop offset="0.8021" stop-color="#1b0c41"/><stop offset="0.8125" stop-color="#210c4a"/><stop offset="0.8229" stop-color="#210c4a"/><stop offset="0.8333" stop-color="#1b0c41"/><stop offset="0.8542" stop-color="#0d0829"/><stop offset="0.8646" stop-color="#0a0722"/><stop offset="0.8750" stop-color="#09061f"/><stop offset="0.8854" stop-color="#0b0724"/><stop offset="0.8958" stop-color="#110a30"/><stop offset="0.9167" stop-color="#260c51"/><stop offset="0.9271" stop-color="#2f0a5b"/><stop offset="0.9479" stop-color="#320a5e"/><stop offset="0.9792" stop-color="#2b0b57"/><stop offset="1.0000" stop-color="#2f0a5b"/></linearGradient><linearGradient id="gc15" x1="0" y1="0" x2="0" y2="1"><stop offset="0.0000" stop-color="#10092d"/><stop offset="0.0208" stop-color="#10092d"/><stop offset="0.0521" stop-color="#09061f"/><stop offset="0.0729" stop-color="#09061f"/><stop offset="0.0938" stop-color="#0e092b"/><stop offset="0.1146" stop-color="#110a30"/><stop offset="0.1458" stop-color="#0b0724"/><stop offset="0.1667" stop-color="#09061f"/><stop offset="0.1979" stop-color="#0e092b"/><stop offset="0.2083" stop-color="#110a30"/><stop offset="0.2188" stop-color="#110a30"/><stop offset="0.2396" stop-color="#0e092b"/><stop offset="0.2500" stop-color="#0b0724"/><stop offset="0.2708" stop-color="#0a0722"/><stop offset="0.2812" stop-color="#0b0724"/><stop offset="0.3021" stop-color="#110a30"/><stop offset="0.3229" stop-color="#140b34"/><stop offset="0.3333" stop-color="#120a32"/><stop offset="0.3542" stop-color="#0c0826"/><stop offset="0.3750" stop-color="#0b0724"/><stop offset="0.3854" stop-color="#0c0826"/><stop offset="0.4062" stop-color="#120a32"/><stop offset="0.4167" stop-color="#150b37"/><stop offset="0.4271" stop-color="#150b37"/><stop offset="0.4375" stop-color="#140b34"/><stop offset="0.4479" stop-color="#10092d"/><stop offset="0.4688" stop-color="#0c0826"/><stop offset="0.4792" stop-color="#0c0826"/><stop offset="0.5104" stop-color="#150b37"/><stop offset="0.5208" stop-color="#190c3e"/><stop offset="0.5312" stop-color="#190c3e"/><stop offset="0.5625" stop-color="#0d0829"/><stop offset="0.5729" stop-color="#0c0826"/><stop offset="0.5938" stop-color="#10092d"/><stop offset="0.6042" stop-color="#140b34"/><stop offset="0.6146" stop-color="#190c3e"/><stop offset="0.6250" stop-color="#1e0c45"/><stop offset="0.6354" stop-color="#1c0c43"/><stop offset="0.6458" stop-color="#180c3c"/><stop offset="0.6562" stop-color="#120a32"/><stop offset="0.6771" stop-color="#0c0826"/><stop offset="0.6875" stop-color="#0d0829"/><stop offset="0.7083" stop-color="#160b39"/><stop offset="0.7188" stop-color="#1e0c45"/><stop offset="0.7292" stop-color="#210c4a"/><stop offset="0.7396" stop-color="#1f0c48"/><stop offset="0.7604" stop-color="#110a30"/><stop offset="0.7708" stop-color="#0d0829"/><stop offset="0.7812" stop-color="#0c0826"/><stop offset="0.7917" stop-color="#0d0829"/><stop offset="0.8021" stop-color="#110a30"/><stop offset="0.8229" stop-color="#1f0c48"/><stop offset="0.8333" stop-color="#210c4a"/><stop offset="0.8438" stop-color="#1c0c43"/><stop offset="0.8542" stop-color="#140b34"/><stop offset="0.8646" stop-color="#0d0829"/><stop offset="0.8750" stop-color="#0a0722"/><stop offset="0.8854" stop-color="#09061f"/><stop offset="0.8958" stop-color="#0b0724"/><stop offset="0.9062" stop-color="#120a32"/><stop offset="0.9167" stop-color="#1e0c45"/><stop offset="0.9271" stop-color="#290b55"/><stop offset="0.9375" stop-color="#310a5c"/><stop offset="0.9479" stop-color="#320a5e"/><stop offset="0.9792" stop-color="#2d0b59"/><stop offset="1.0000" stop-color="#2d0b59"/></linearGradient><linearGradient id="gc16" x1="0" y1="0" x2="0" y2="1"><stop offset="0.0000" stop-color="#08051d"/><stop offset="0.0208" stop-color="#0a0722"/><stop offset="0.0312" stop-color="#0d0829"/><stop offset="0.0521" stop-color="#10092d"/><stop offset="0.0625" stop-color="#10092d"/><stop offset="0.0938" stop-color="#09061f"/><stop offset="0.1042" stop-color="#09061f"/><stop offset="0.1354" stop-color="#0e092b"/><stop offset="0.1458" stop-color="#110a30"/><stop offset="0.1562" stop-color="#110a30"/><stop offset="0.1771" stop-color="#0d0829"/><stop offset="0.1875" stop-color="#0a0722"/><stop offset="0.1979" stop-color="#09061f"/><stop offset="0.2188" stop-color="#0b0724"/><stop offset="0.2396" stop-color="#110a30"/><stop offset="0.2500" stop-color="#120a32"/><stop offset="0.2708" stop-color="#10092d"/><stop offset="0.2812" stop-color="#0c0826"/><stop offset="0.3021" stop-color="#0a0722"/><stop offset="0.3125" stop-color="#0b0724"/><stop offset="0.3333" stop-color="#110a30"/><stop offset="0.3438" stop-color="#140b34"/><stop offset="0.3646" stop-color="#120a32"/><stop offset="0.3854" stop-color="#0c0826"/><stop offset="0.4062" stop-color="#0b0724"/><stop offset="0.4271" stop-color="#110a30"/><stop offset="0.4479" stop-color="#150b37"/><stop offset="0.4583" stop-color="#150b37"/><stop offset="0.4896" stop-color="#0c0826"/><stop offset="0.5000" stop-color="#0c0826"/><stop offset="0.5104" stop-color="#0d0829"/><stop offset="0.5417" stop-color="#190c3e"/><stop offset="0.5521" stop-color="#190c3e"/><stop offset="0.5833" stop-color="#0e092b"/><stop offset="0.5938" stop-color="#0c0826"/><stop offset="0.6146" stop-color="#10092d"/><stop offset="0.6354" stop-color="#1b0c41"/><stop offset="0.6458" stop-color="#1e0c45"/><stop offset="0.6562" stop-color="#1c0c43"/><stop offset="0.6667" stop-color="#150b37"/><stop offset="0.6875" stop-color="#0d0829"/><stop offset="0.6979" stop-color="#0c0826"/><stop offset="0.7083" stop-color="#0e092b"/><stop offset="0.7188" stop-color="#140b34"/><stop offset="0.7292" stop-color="#1b0c41"/><stop offset="0.7396" stop-color="#210c4a"/><stop offset="0.7500" stop-color="#210c4a"/><stop offset="0.7604" stop-color="#1b0c41"/><stop offset="0.7708" stop-color="#120a32"/><stop offset="0.7917" stop-color="#0c0826"/><stop offset="0.8021" stop-color="#0c0826"/><stop offset="0.8229" stop-color="#180c3c"/><stop offset="0.8333" stop-color="#1e0c45"/><stop offset="0.8438" stop-color="#1f0c48"/><stop offset="0.8542" stop-color="#1b0c41"/><stop offset="0.8646" stop-color="#120a32"/><stop offset="0.8854" stop-color="#09061f"/><stop offset="0.8958" stop-color="#09061f"/><stop offset="0.9062" stop-color="#0d0829"/><stop offset="0.9167" stop-color="#160b39"/><stop offset="0.9271" stop-color="#240c4f"/><stop offset="0.9375" stop-color="#2f0a5b"/><stop offset="0.9479" stop-color="#320a5e"/><stop offset="0.9688" stop-color="#310a5c"/><stop offset="0.9792" stop-color="#2d0b59"/><stop offset="1.0000" stop-color="#2d0b59"/></linearGradient><linearGradient id="gc17" x1="0" y1="0" x2="0" y2="1"><stop offset="0.0000" stop-color="#10092d"/><stop offset="0.0104" stop-color="#0e092b"/><stop offset="0.0417" stop-color="#09061f"/><stop offset="0.0521" stop-color="#09061f"/><stop offset="0.0833" stop-color="#10092d"/><stop offset="0.0938" stop-color="#110a30"/><stop offset="0.1250" stop-color="#0b0724"/><stop offset="0.1354" stop-color="#09061f"/><stop offset="0.1458" stop-color="#09061f"/><stop offset="0.1771" stop-color="#10092d"/><stop offset="0.1875" stop-color="#110a30"/><stop offset="0.1979" stop-color="#110a30"/><stop offset="0.2188" stop-color="#0b0724"/><stop offset="0.2396" stop-color="#0a0722"/><stop offset="0.2500" stop-color="#0b0724"/><stop offset="0.2708" stop-color="#110a30"/><stop offset="0.2917" stop-color="#120a32"/><stop offset="0.3125" stop-color="#0c0826"/><stop offset="0.3333" stop-color="#0a0722"/><stop offset="0.3438" stop-color="#0c0826"/><stop offset="0.3646" stop-color="#120a32"/><stop offset="0.3854" stop-color="#140b34"/><stop offset="0.3958" stop-color="#110a30"/><stop offset="0.4062" stop-color="#0d0829"/><stop offset="0.4167" stop-color="#0c0826"/><stop offset="0.4271" stop-color="#0c0826"/><stop offset="0.4375" stop-color="#0d0829"/><stop offset="0.4479" stop-color="#110a30"/><stop offset="0.4688" stop-color="#160b39"/><stop offset="0.4792" stop-color="#160b39"/><stop offset="0.5104" stop-color="#0c0826"/><stop offset="0.5208" stop-color="#0c0826"/><stop offset="0.5312" stop-color="#0d0829"/><stop offset="0.5625" stop-color="#1b0c41"/><stop offset="0.5729" stop-color="#190c3e"/><stop offset="0.6042" stop-color="#0d0829"/><stop offset="0.6146" stop-color="#0c0826"/><stop offset="0.6354" stop-color="#120a32"/><stop offset="0.6458" stop-color="#190c3e"/><stop offset="0.6562" stop-color="#1e0c45"/><stop offset="0.6667" stop-color="#1f0c48"/><stop offset="0.6875" stop-color="#120a32"/><stop offset="0.6979" stop-color="#0d0829"/><stop offset="0.7083" stop-color="#0c0826"/><stop offset="0.7292" stop-color="#120a32"/><stop offset="0.7396" stop-color="#1b0c41"/><stop offset="0.7500" stop-color="#210c4a"/><stop offset="0.7604" stop-color="#210c4a"/><stop offset="0.7812" stop-color="#120a32"/><stop offset="0.7917" stop-color="#0d0829"/><stop offset="0.8021" stop-color="#0b0724"/><stop offset="0.8125" stop-color="#0d0829"/><stop offset="0.8229" stop-color="#120a32"/><stop offset="0.8438" stop-color="#1f0c48"/><stop offset="0.8542" stop-color="#1e0c45"/><stop offset="0.8750" stop-color="#10092d"/><stop offset="0.8854" stop-color="#0b0724"/><stop offset="0.8958" stop-color="#09061f"/><stop offset="0.9062" stop-color="#0b0724"/><stop offset="0.9167" stop-color="#120a32"/><stop offset="0.9271" stop-color="#1f0c48"/><stop offset="0.9375" stop-color="#2d0b59"/><stop offset="0.9479" stop-color="#310a5c"/><stop offset="0.9583" stop-color="#320a5e"/><stop offset="0.9688" stop-color="#310a5c"/><stop offset="0.9792" stop-color="#2d0b59"/><stop offset="1.0000" stop-color="#2d0b59"/></linearGradient><linearGradient id="gc18" x1="0" y1="0" x2="0" y2="1"><stop offset="0.0000" stop-color="#09061f"/><stop offset="0.0312" stop-color="#10092d"/><stop offset="0.0521" stop-color="#0e092b"/><stop offset="0.0729" stop-color="#09061f"/><stop offset="0.0833" stop-color="#09061f"/><stop offset="0.1146" stop-color="#0e092b"/><stop offset="0.1250" stop-color="#110a30"/><stop offset="0.1354" stop-color="#110a30"/><stop offset="0.1562" stop-color="#0b0724"/><stop offset="0.1771" stop-color="#09061f"/><stop offset="0.1979" stop-color="#0d0829"/><stop offset="0.2083" stop-color="#110a30"/><stop offset="0.2292" stop-color="#110a30"/><stop offset="0.2500" stop-color="#0b0724"/><stop offset="0.2708" stop-color="#0a0722"/><stop offset="0.2812" stop-color="#0c0826"/><stop offset="0.3021" stop-color="#120a32"/><stop offset="0.3229" stop-color="#110a30"/><stop offset="0.3438" stop-color="#0b0724"/><stop offset="0.3646" stop-color="#0c0826"/><stop offset="0.3958" stop-color="#150b37"/><stop offset="0.4062" stop-color="#150b37"/><stop offset="0.4375" stop-color="#0c0826"/><stop offset="0.4479" stop-color="#0c0826"/><stop offset="0.4583" stop-color="#0d0829"/><stop offset="0.4792" stop-color="#150b37"/><stop offset="0.4896" stop-color="#180c3c"/><stop offset="0.5104" stop-color="#120a32"/><stop offset="0.5312" stop-color="#0c0826"/><stop offset="0.5417" stop-color="#0c0826"/><stop offset="0.5625" stop-color="#140b34"/><stop offset="0.5729" stop-color="#190c3e"/><stop offset="0.5833" stop-color="#1b0c41"/><stop offset="0.5938" stop-color="#180c3c"/><stop offset="0.6042" stop-color="#120a32"/><stop offset="0.6250" stop-color="#0c0826"/><stop offset="0.6458" stop-color="#120a32"/><stop offset="0.6667" stop-color="#1f0c48"/><stop offset="0.6771" stop-color="#1f0c48"/><stop offset="0.6979" stop-color="#120a32"/><stop offset="0.7083" stop-color="#0d0829"/><stop offset="0.7188" stop-color="#0c0826"/><stop offset="0.7292" stop-color="#0e092b"/><stop offset="0.7500" stop-color="#1e0c45"/><stop offset="0.7604" stop-color="#210c4a"/><stop offset="0.7708" stop-color="#1e0c45"/><stop offset="0.7917" stop-color="#10092d"/><stop offset="0.8021" stop-color="#0c0826"/><stop offset="0.8125" stop-color="#0c0826"/><stop offset="0.8333" stop-color="#160b39"/><stop offset="0.8438" stop-color="#1e0c45"/><stop offset="0.8542" stop-color="#1f0c48"/><stop offset="0.8646" stop-color="#190c3e"/><stop offset="0.8854" stop-color="#0b0724"/><stop offset="0.8958" stop-color="#09061f"/><stop offset="0.9062" stop-color="#0b0724"/><stop offset="0.9167" stop-color="#110a30"/><stop offset="0.9271" stop-color="#1e0c45"/><stop offset="0.9375" stop-color="#2b0b57"/><stop offset="0.9479" stop-color="#2f0a5b"/><stop offset="0.9688" stop-color="#2f0a5b"/><stop offset="0.9896" stop-color="#2b0b57"/><stop offset="1.0000" stop-color="#2d0b59"/></linearGradient><linearGradient id="gc19" x1="0" y1="0" x2="0" y2="1"><stop offset="0.0000" stop-color="#02010a"/><stop offset="0.2500" stop-color="#02010a"/><stop offset="0.2917" stop-color="#02020e"/><stop offset="0.3438" stop-color="#040312"/><stop offset="0.3750" stop-color="#040314"/><stop offset="0.3854" stop-color="#050417"/><stop offset="0.4062" stop-color="#050417"/><stop offset="0.4271" stop-color="#07051b"/><stop offset="0.4792" stop-color="#09061f"/><stop offset="0.4896" stop-color="#09061f"/><stop offset="0.5000" stop-color="#0a0722"/><stop offset="0.5208" stop-color="#0b0724"/><stop offset="0.5417" stop-color="#0a0722"/><stop offset="0.5521" stop-color="#0a0722"/><stop offset="0.5625" stop-color="#09061f"/><stop offset="0.5938" stop-color="#09061f"/><stop offset="0.6354" stop-color="#060419"/><stop offset="0.6875" stop-color="#02020e"/><stop offset="0.7188" stop-color="#02020e"/><stop offset="0.7396" stop-color="#02020c"/><stop offset="0.7604" stop-color="#02020e"/><stop offset="0.7812" stop-color="#040312"/><stop offset="0.8021" stop-color="#040314"/><stop offset="0.8333" stop-color="#08051d"/><stop offset="0.8542" stop-color="#09061f"/><stop offset="0.8750" stop-color="#0b0724"/><stop offset="0.9167" stop-color="#190c3e"/><stop offset="0.9271" stop-color="#1f0c48"/><stop offset="0.9583" stop-color="#2f0a5b"/><stop offset="0.9688" stop-color="#340a5f"/><stop offset="0.9896" stop-color="#360961"/><stop offset="1.0000" stop-color="#340a5f"/></linearGradient><linearGradient id="gd0" x1="0" y1="0" x2="0" y2="1"><stop offset="0.0000" stop-color="#f3f68a"/><stop offset="0.0104" stop-color="#f3f586"/><stop offset="0.0312" stop-color="#f3f586"/><stop offset="0.0417" stop-color="#f2f482"/><stop offset="0.0521" stop-color="#f2f482"/><stop offset="0.0625" stop-color="#f2f27d"/><stop offset="0.0833" stop-color="#f2f27d"/><stop offset="0.0938" stop-color="#f1f179"/><stop offset="0.1042" stop-color="#f1f179"/><stop offset="0.1146" stop-color="#f1ed71"/><stop offset="0.1250" stop-color="#f1ec6d"/><stop offset="0.1354" stop-color="#f2e865"/><stop offset="0.1562" stop-color="#f3e55d"/><stop offset="0.1667" stop-color="#f4e156"/><stop offset="0.1875" stop-color="#f4dd4f"/><stop offset="0.1979" stop-color="#f5d949"/><stop offset="0.2083" stop-color="#f7d340"/><stop offset="0.2292" stop-color="#f9c932"/><stop offset="0.2396" stop-color="#fac62d"/><stop offset="0.2604" stop-color="#fbba1f"/><stop offset="0.2812" stop-color="#fcb014"/><stop offset="0.3021" stop-color="#fca60c"/><stop offset="0.3333" stop-color="#fb9b06"/><stop offset="0.3542" stop-color="#fa9207"/><stop offset="0.3750" stop-color="#f8870e"/><stop offset="0.3854" stop-color="#f78410"/><stop offset="0.3958" stop-color="#f67e14"/><stop offset="0.4375" stop-color="#ef6e21"/><stop offset="0.4896" stop-color="#e35933"/><stop offset="0.5208" stop-color="#d94d3d"/><stop offset="0.5417" stop-color="#d34743"/><stop offset="0.5938" stop-color="#bd3853"/><stop offset="0.6250" stop-color="#ae305c"/><stop offset="0.6667" stop-color="#9a2865"/><stop offset="0.7188" stop-color="#7c1d6d"/><stop offset="0.7500" stop-color="#6d186e"/><stop offset="0.8125" stop-color="#540f6d"/><stop offset="0.8854" stop-color="#3e0966"/><stop offset="0.9583" stop-color="#380962"/><stop offset="0.9896" stop-color="#360961"/><stop offset="1.0000" stop-color="#340a5f"/></linearGradient><linearGradient id="gd1" x1="0" y1="0" x2="0" y2="1"><stop offset="0.0000" stop-color="#fca80d"/><stop offset="0.0417" stop-color="#fc9f07"/><stop offset="0.0729" stop-color="#fa9407"/><stop offset="0.0938" stop-color="#f98b0b"/><stop offset="0.1354" stop-color="#f57d15"/><stop offset="0.1667" stop-color="#ef6e21"/><stop offset="0.1771" stop-color="#ec6726"/><stop offset="0.1979" stop-color="#e75e2e"/><stop offset="0.2604" stop-color="#d84c3e"/><stop offset="0.3125" stop-color="#cb4149"/><stop offset="0.3542" stop-color="#c33b4f"/><stop offset="0.4167" stop-color="#b63458"/><stop offset="0.5417" stop-color="#9d2964"/><stop offset="0.5833" stop-color="#952667"/><stop offset="0.6875" stop-color="#7a1d6d"/><stop offset="0.7604" stop-color="#6a176e"/><stop offset="0.7812" stop-color="#62146e"/><stop offset="0.8229" stop-color="#540f6d"/><stop offset="0.8854" stop-color="#450a69"/><stop offset="0.9167" stop-color="#400a67"/><stop offset="0.9479" stop-color="#3d0965"/><stop offset="1.0000" stop-color="#380962"/></linearGradient><linearGradient id="gd2" x1="0" y1="0" x2="0" y2="1"><stop offset="0.0000" stop-color="#b3325a"/><stop offset="0.0729" stop-color="#a82e5f"/><stop offset="0.1042" stop-color="#a52c60"/><stop offset="0.2500" stop-color="#8f2469"/><stop offset="0.2812" stop-color="#8c2369"/><stop offset="0.4062" stop-color="#781c6d"/><stop offset="0.4375" stop-color="#721a6e"/><stop offset="0.4792" stop-color="#62146e"/><stop offset="0.5104" stop-color="#5f136e"/><stop offset="0.6250" stop-color="#520e6d"/><stop offset="0.7292" stop-color="#470b6a"/><stop offset="0.7604" stop-color="#440a68"/><stop offset="0.7812" stop-color="#440a68"/><stop offset="0.8021" stop-color="#420a68"/><stop offset="0.8854" stop-color="#3d0965"/><stop offset="0.9062" stop-color="#3d0965"/><stop offset="0.9271" stop-color="#3b0964"/><stop offset="0.9688" stop-color="#390963"/><stop offset="1.0000" stop-color="#380962"/></linearGradient><linearGradient id="gd3" x1="0" y1="0" x2="0" y2="1"><stop offset="0.0000" stop-color="#260c51"/><stop offset="0.1667" stop-color="#260c51"/><stop offset="0.1875" stop-color="#280b53"/><stop offset="0.2604" stop-color="#280b53"/><stop offset="0.2812" stop-color="#290b55"/><stop offset="0.3438" stop-color="#290b55"/><stop offset="0.3646" stop-color="#2b0b57"/><stop offset="0.4062" stop-color="#2b0b57"/><stop offset="0.4271" stop-color="#2d0b59"/><stop offset="0.4688" stop-color="#2d0b59"/><stop offset="0.4896" stop-color="#2f0a5b"/><stop offset="0.5625" stop-color="#2b0b57"/><stop offset="0.5833" stop-color="#290b55"/><stop offset="0.6667" stop-color="#1c0c43"/><stop offset="0.7188" stop-color="#1c0c43"/><stop offset="0.7292" stop-color="#1e0c45"/><stop offset="0.7396" stop-color="#210c4a"/><stop offset="0.7500" stop-color="#230c4c"/><stop offset="0.7812" stop-color="#2d0b59"/><stop offset="0.8333" stop-color="#380962"/><stop offset="0.8646" stop-color="#3b0964"/><stop offset="0.8854" stop-color="#390963"/><stop offset="0.9479" stop-color="#380962"/><stop offset="0.9688" stop-color="#360961"/><stop offset="0.9896" stop-color="#360961"/><stop offset="1.0000" stop-color="#340a5f"/></linearGradient><linearGradient id="gd4" x1="0" y1="0" x2="0" y2="1"><stop offset="0.0000" stop-color="#1c0c43"/><stop offset="0.0208" stop-color="#1b0c41"/><stop offset="0.0625" stop-color="#150b37"/><stop offset="0.0729" stop-color="#120a32"/><stop offset="0.0938" stop-color="#10092d"/><stop offset="0.1458" stop-color="#0e092b"/><stop offset="0.1667" stop-color="#0e092b"/><stop offset="0.1771" stop-color="#110a30"/><stop offset="0.1979" stop-color="#140b34"/><stop offset="0.2396" stop-color="#1f0c48"/><stop offset="0.2708" stop-color="#240c4f"/><stop offset="0.2917" stop-color="#260c51"/><stop offset="0.3333" stop-color="#2b0b57"/><stop offset="0.3958" stop-color="#340a5f"/><stop offset="0.4792" stop-color="#390963"/><stop offset="0.5000" stop-color="#380962"/><stop offset="0.5417" stop-color="#290b55"/><stop offset="0.5625" stop-color="#280b53"/><stop offset="0.6042" stop-color="#2f0a5b"/><stop offset="0.6667" stop-color="#340a5f"/><stop offset="0.6979" stop-color="#310a5c"/><stop offset="0.7292" stop-color="#2d0b59"/><stop offset="0.7500" stop-color="#2b0b57"/><stop offset="0.7708" stop-color="#2d0b59"/><stop offset="0.8021" stop-color="#320a5e"/><stop offset="0.8229" stop-color="#380962"/><stop offset="0.8542" stop-color="#3d0965"/><stop offset="0.8750" stop-color="#3b0964"/><stop offset="0.9479" stop-color="#380962"/><stop offset="0.9688" stop-color="#360961"/><stop offset="0.9896" stop-color="#360961"/><stop offset="1.0000" stop-color="#340a5f"/></linearGradient><linearGradient id="gd5" x1="0" y1="0" x2="0" y2="1"><stop offset="0.0000" stop-color="#1c0c43"/><stop offset="0.0208" stop-color="#1e0c45"/><stop offset="0.0521" stop-color="#1e0c45"/><stop offset="0.0625" stop-color="#1f0c48"/><stop offset="0.0938" stop-color="#1f0c48"/><stop offset="0.1146" stop-color="#210c4a"/><stop offset="0.1562" stop-color="#230c4c"/><stop offset="0.1667" stop-color="#240c4f"/><stop offset="0.2396" stop-color="#290b55"/><stop offset="0.2604" stop-color="#2b0b57"/><stop offset="0.2812" stop-color="#2f0a5b"/><stop offset="0.3333" stop-color="#340a5f"/><stop offset="0.3750" stop-color="#390963"/><stop offset="0.3958" stop-color="#3b0964"/><stop offset="0.4583" stop-color="#340a5f"/><stop offset="0.4896" stop-color="#310a5c"/><stop offset="0.5417" stop-color="#390963"/><stop offset="0.5521" stop-color="#3d0965"/><stop offset="0.5729" stop-color="#3b0964"/><stop offset="0.6458" stop-color="#380962"/><stop offset="0.6667" stop-color="#360961"/><stop offset="0.6979" stop-color="#3b0964"/><stop offset="0.7292" stop-color="#3e0966"/><stop offset="0.8125" stop-color="#3d0965"/><stop offset="0.8333" stop-color="#3b0964"/><stop offset="0.8750" stop-color="#3b0964"/><stop offset="0.8958" stop-color="#390963"/><stop offset="0.9479" stop-color="#380962"/><stop offset="0.9688" stop-color="#360961"/><stop offset="0.9896" stop-color="#360961"/><stop offset="1.0000" stop-color="#340a5f"/></linearGradient><linearGradient id="gd6" x1="0" y1="0" x2="0" y2="1"><stop offset="0.0000" stop-color="#180c3c"/><stop offset="0.0208" stop-color="#180c3c"/><stop offset="0.0417" stop-color="#190c3e"/><stop offset="0.0521" stop-color="#190c3e"/><stop offset="0.0625" stop-color="#1b0c41"/><stop offset="0.0833" stop-color="#1b0c41"/><stop offset="0.1042" stop-color="#1c0c43"/><stop offset="0.1250" stop-color="#1c0c43"/><stop offset="0.1458" stop-color="#1e0c45"/><stop offset="0.1562" stop-color="#1e0c45"/><stop offset="0.1667" stop-color="#1f0c48"/><stop offset="0.1979" stop-color="#1f0c48"/><stop offset="0.2188" stop-color="#210c4a"/><stop offset="0.2604" stop-color="#230c4c"/><stop offset="0.2708" stop-color="#240c4f"/><stop offset="0.3021" stop-color="#240c4f"/><stop offset="0.3229" stop-color="#260c51"/><stop offset="0.3438" stop-color="#260c51"/><stop offset="0.3646" stop-color="#280b53"/><stop offset="0.3958" stop-color="#280b53"/><stop offset="0.4167" stop-color="#290b55"/><stop offset="0.4583" stop-color="#2d0b59"/><stop offset="0.4792" stop-color="#310a5c"/><stop offset="0.5208" stop-color="#340a5f"/><stop offset="0.5521" stop-color="#320a5e"/><stop offset="0.5833" stop-color="#2f0a5b"/><stop offset="0.6042" stop-color="#310a5c"/><stop offset="0.6458" stop-color="#3b0964"/><stop offset="0.7396" stop-color="#3b0964"/><stop offset="0.7604" stop-color="#3d0965"/><stop offset="0.7917" stop-color="#3d0965"/><stop offset="0.8125" stop-color="#3b0964"/><stop offset="0.8333" stop-color="#3b0964"/><stop offset="0.8542" stop-color="#390963"/><stop offset="0.9375" stop-color="#380962"/><stop offset="0.9583" stop-color="#360961"/><stop offset="0.9896" stop-color="#360961"/><stop offset="1.0000" stop-color="#340a5f"/></linearGradient><linearGradient id="gd7" x1="0" y1="0" x2="0" y2="1"><stop offset="0.0000" stop-color="#150b37"/><stop offset="0.1875" stop-color="#150b37"/><stop offset="0.2083" stop-color="#160b39"/><stop offset="0.2188" stop-color="#160b39"/><stop offset="0.2292" stop-color="#180c3c"/><stop offset="0.2500" stop-color="#180c3c"/><stop offset="0.2708" stop-color="#190c3e"/><stop offset="0.2812" stop-color="#1b0c41"/><stop offset="0.3021" stop-color="#1b0c41"/><stop offset="0.3229" stop-color="#1c0c43"/><stop offset="0.3438" stop-color="#1c0c43"/><stop offset="0.3646" stop-color="#1e0c45"/><stop offset="0.3750" stop-color="#1e0c45"/><stop offset="0.3854" stop-color="#1f0c48"/><stop offset="0.4062" stop-color="#1f0c48"/><stop offset="0.4271" stop-color="#210c4a"/><stop offset="0.4583" stop-color="#1f0c48"/><stop offset="0.4688" stop-color="#1e0c45"/><stop offset="0.4896" stop-color="#1c0c43"/><stop offset="0.5104" stop-color="#1e0c45"/><stop offset="0.5208" stop-color="#1f0c48"/><stop offset="0.5417" stop-color="#210c4a"/><stop offset="0.5625" stop-color="#230c4c"/><stop offset="0.6042" stop-color="#230c4c"/><stop offset="0.6146" stop-color="#240c4f"/><stop offset="0.6667" stop-color="#240c4f"/><stop offset="0.7188" stop-color="#2b0b57"/><stop offset="0.7396" stop-color="#2d0b59"/><stop offset="0.7812" stop-color="#340a5f"/><stop offset="0.8542" stop-color="#340a5f"/><stop offset="0.8750" stop-color="#360961"/><stop offset="0.9792" stop-color="#360961"/><stop offset="1.0000" stop-color="#340a5f"/></linearGradient><linearGradient id="gd8" x1="0" y1="0" x2="0" y2="1"><stop offset="0.0000" stop-color="#0a0722"/><stop offset="0.0208" stop-color="#0a0722"/><stop offset="0.0417" stop-color="#0b0724"/><stop offset="0.1250" stop-color="#0b0724"/><stop offset="0.1458" stop-color="#0c0826"/><stop offset="0.1875" stop-color="#0c0826"/><stop offset="0.1979" stop-color="#0d0829"/><stop offset="0.2188" stop-color="#0d0829"/><stop offset="0.2604" stop-color="#10092d"/><stop offset="0.2708" stop-color="#10092d"/><stop offset="0.2812" stop-color="#110a30"/><stop offset="0.3229" stop-color="#120a32"/><stop offset="0.3438" stop-color="#140b34"/><stop offset="0.3542" stop-color="#140b34"/><stop offset="0.3646" stop-color="#150b37"/><stop offset="0.3958" stop-color="#150b37"/><stop offset="0.4167" stop-color="#160b39"/><stop offset="0.4688" stop-color="#160b39"/><stop offset="0.4792" stop-color="#180c3c"/><stop offset="0.4896" stop-color="#180c3c"/><stop offset="0.5417" stop-color="#110a30"/><stop offset="0.5625" stop-color="#150b37"/><stop offset="0.6042" stop-color="#1b0c41"/><stop offset="0.6250" stop-color="#1c0c43"/><stop offset="0.7292" stop-color="#2d0b59"/><stop offset="0.7500" stop-color="#2f0a5b"/><stop offset="0.7812" stop-color="#320a5e"/><stop offset="0.8125" stop-color="#340a5f"/><stop offset="0.8333" stop-color="#360961"/><stop offset="0.9688" stop-color="#360961"/><stop offset="0.9896" stop-color="#340a5f"/><stop offset="1.0000" stop-color="#340a5f"/></linearGradient><linearGradient id="gd9" x1="0" y1="0" x2="0" y2="1"><stop offset="0.0000" stop-color="#050417"/><stop offset="0.0729" stop-color="#050417"/><stop offset="0.0833" stop-color="#040314"/><stop offset="0.1250" stop-color="#040314"/><stop offset="0.1354" stop-color="#050417"/><stop offset="0.2292" stop-color="#09061f"/><stop offset="0.2396" stop-color="#0a0722"/><stop offset="0.2917" stop-color="#0c0826"/><stop offset="0.3021" stop-color="#0d0829"/><stop offset="0.3854" stop-color="#0d0829"/><stop offset="0.4062" stop-color="#0e092b"/><stop offset="0.4375" stop-color="#0e092b"/><stop offset="0.4792" stop-color="#140b34"/><stop offset="0.4896" stop-color="#140b34"/><stop offset="0.5000" stop-color="#150b37"/><stop offset="0.5208" stop-color="#150b37"/><stop offset="0.5417" stop-color="#160b39"/><stop offset="0.5521" stop-color="#160b39"/><stop offset="0.5625" stop-color="#180c3c"/><stop offset="0.5833" stop-color="#190c3e"/><stop offset="0.6667" stop-color="#260c51"/><stop offset="0.7396" stop-color="#2b0b57"/><stop offset="0.8125" stop-color="#310a5c"/><stop offset="0.8542" stop-color="#320a5e"/><stop offset="0.8750" stop-color="#340a5f"/><stop offset="1.0000" stop-color="#340a5f"/></linearGradient><linearGradient id="gd10" x1="0" y1="0" x2="0" y2="1"><stop offset="0.0000" stop-color="#060419"/><stop offset="0.0104" stop-color="#040314"/><stop offset="0.0208" stop-color="#040314"/><stop offset="0.0312" stop-color="#07051b"/><stop offset="0.0417" stop-color="#08051d"/><stop offset="0.0625" stop-color="#050417"/><stop offset="0.0729" stop-color="#08051d"/><stop offset="0.0833" stop-color="#09061f"/><stop offset="0.1042" stop-color="#060419"/><stop offset="0.1146" stop-color="#09061f"/><stop offset="0.1250" stop-color="#0a0722"/><stop offset="0.1354" stop-color="#08051d"/><stop offset="0.1458" stop-color="#08051d"/><stop offset="0.1562" stop-color="#0a0722"/><stop offset="0.1667" stop-color="#0b0724"/><stop offset="0.1771" stop-color="#09061f"/><stop offset="0.1979" stop-color="#0c0826"/><stop offset="0.2188" stop-color="#0b0724"/><stop offset="0.2292" stop-color="#0d0829"/><stop offset="0.2396" stop-color="#0e092b"/><stop offset="0.2500" stop-color="#0c0826"/><stop offset="0.2604" stop-color="#0d0829"/><stop offset="0.2708" stop-color="#110a30"/><stop offset="0.2812" stop-color="#0e092b"/><stop offset="0.2917" stop-color="#0e092b"/><stop offset="0.3021" stop-color="#120a32"/><stop offset="0.3229" stop-color="#110a30"/><stop offset="0.3333" stop-color="#140b34"/><stop offset="0.3438" stop-color="#140b34"/><stop offset="0.3542" stop-color="#110a30"/><stop offset="0.3750" stop-color="#150b37"/><stop offset="0.3854" stop-color="#120a32"/><stop offset="0.3958" stop-color="#150b37"/><stop offset="0.4062" stop-color="#160b39"/><stop offset="0.4167" stop-color="#140b34"/><stop offset="0.4271" stop-color="#180c3c"/><stop offset="0.4375" stop-color="#180c3c"/><stop offset="0.4479" stop-color="#160b39"/><stop offset="0.4583" stop-color="#1b0c41"/><stop offset="0.4688" stop-color="#180c3c"/><stop offset="0.4792" stop-color="#180c3c"/><stop offset="0.4896" stop-color="#1c0c43"/><stop offset="0.5000" stop-color="#180c3c"/><stop offset="0.5104" stop-color="#1b0c41"/><stop offset="0.5208" stop-color="#1c0c43"/><stop offset="0.5312" stop-color="#1b0c41"/><stop offset="0.5417" stop-color="#1f0c48"/><stop offset="0.5521" stop-color="#1c0c43"/><stop offset="0.5729" stop-color="#1e0c45"/><stop offset="0.5833" stop-color="#1c0c43"/><stop offset="0.5938" stop-color="#210c4a"/><stop offset="0.6042" stop-color="#1e0c45"/><stop offset="0.6146" stop-color="#230c4c"/><stop offset="0.6250" stop-color="#1f0c48"/><stop offset="0.6458" stop-color="#210c4a"/><stop offset="0.6562" stop-color="#210c4a"/><stop offset="0.6667" stop-color="#240c4f"/><stop offset="0.6771" stop-color="#210c4a"/><stop offset="0.6875" stop-color="#240c4f"/><stop offset="0.6979" stop-color="#210c4a"/><stop offset="0.7083" stop-color="#260c51"/><stop offset="0.7188" stop-color="#240c4f"/><stop offset="0.7292" stop-color="#280b53"/><stop offset="0.7396" stop-color="#230c4c"/><stop offset="0.7500" stop-color="#280b53"/><stop offset="0.7604" stop-color="#260c51"/><stop offset="0.7708" stop-color="#290b55"/><stop offset="0.7812" stop-color="#260c51"/><stop offset="0.7917" stop-color="#290b55"/><stop offset="0.8125" stop-color="#280b53"/><stop offset="0.8333" stop-color="#290b55"/><stop offset="0.8438" stop-color="#2d0b59"/><stop offset="0.8542" stop-color="#290b55"/><stop offset="0.8646" stop-color="#2f0a5b"/><stop offset="0.8854" stop-color="#2d0b59"/><stop offset="0.8958" stop-color="#340a5f"/><stop offset="0.9062" stop-color="#310a5c"/><stop offset="0.9167" stop-color="#310a5c"/><stop offset="0.9271" stop-color="#360961"/><stop offset="0.9375" stop-color="#310a5c"/><stop offset="0.9479" stop-color="#340a5f"/><stop offset="0.9688" stop-color="#320a5e"/><stop offset="0.9792" stop-color="#340a5f"/><stop offset="0.9896" stop-color="#320a5e"/><stop offset="1.0000" stop-color="#360961"/></linearGradient><linearGradient id="gd11" x1="0" y1="0" x2="0" y2="1"><stop offset="0.0000" stop-color="#060419"/><stop offset="0.0104" stop-color="#040314"/><stop offset="0.0208" stop-color="#050417"/><stop offset="0.0312" stop-color="#08051d"/><stop offset="0.0521" stop-color="#050417"/><stop offset="0.0729" stop-color="#08051d"/><stop offset="0.0833" stop-color="#08051d"/><stop offset="0.0938" stop-color="#060419"/><stop offset="0.1042" stop-color="#07051b"/><stop offset="0.1146" stop-color="#0a0722"/><stop offset="0.1354" stop-color="#08051d"/><stop offset="0.1458" stop-color="#09061f"/><stop offset="0.1562" stop-color="#0b0724"/><stop offset="0.1667" stop-color="#09061f"/><stop offset="0.1771" stop-color="#09061f"/><stop offset="0.1875" stop-color="#0c0826"/><stop offset="0.2083" stop-color="#0a0722"/><stop offset="0.2292" stop-color="#0e092b"/><stop offset="0.2396" stop-color="#0c0826"/><stop offset="0.2604" stop-color="#10092d"/><stop offset="0.2812" stop-color="#0e092b"/><stop offset="0.2917" stop-color="#110a30"/><stop offset="0.3021" stop-color="#110a30"/><stop offset="0.3125" stop-color="#10092d"/><stop offset="0.3229" stop-color="#120a32"/><stop offset="0.3438" stop-color="#110a30"/><stop offset="0.3542" stop-color="#140b34"/><stop offset="0.3750" stop-color="#120a32"/><stop offset="0.3854" stop-color="#160b39"/><stop offset="0.4062" stop-color="#150b37"/><stop offset="0.4167" stop-color="#180c3c"/><stop offset="0.4271" stop-color="#150b37"/><stop offset="0.4375" stop-color="#160b39"/><stop offset="0.4479" stop-color="#190c3e"/><stop offset="0.4583" stop-color="#160b39"/><stop offset="0.4688" stop-color="#1b0c41"/><stop offset="0.4792" stop-color="#190c3e"/><stop offset="0.4896" stop-color="#190c3e"/><stop offset="0.5000" stop-color="#1e0c45"/><stop offset="0.5104" stop-color="#190c3e"/><stop offset="0.5208" stop-color="#1c0c43"/><stop offset="0.5417" stop-color="#1b0c41"/><stop offset="0.5521" stop-color="#1f0c48"/><stop offset="0.5625" stop-color="#1c0c43"/><stop offset="0.5729" stop-color="#210c4a"/><stop offset="0.5833" stop-color="#1c0c43"/><stop offset="0.5938" stop-color="#1f0c48"/><stop offset="0.6146" stop-color="#1f0c48"/><stop offset="0.6250" stop-color="#210c4a"/><stop offset="0.6354" stop-color="#1f0c48"/><stop offset="0.6458" stop-color="#230c4c"/><stop offset="0.6562" stop-color="#1f0c48"/><stop offset="0.6667" stop-color="#240c4f"/><stop offset="0.6771" stop-color="#210c4a"/><stop offset="0.6875" stop-color="#240c4f"/><stop offset="0.6979" stop-color="#210c4a"/><stop offset="0.7083" stop-color="#260c51"/><stop offset="0.7188" stop-color="#240c4f"/><stop offset="0.7292" stop-color="#260c51"/><stop offset="0.7396" stop-color="#240c4f"/><stop offset="0.7500" stop-color="#280b53"/><stop offset="0.7604" stop-color="#280b53"/><stop offset="0.7708" stop-color="#240c4f"/><stop offset="0.7812" stop-color="#290b55"/><stop offset="0.7917" stop-color="#280b53"/><stop offset="0.8021" stop-color="#290b55"/><stop offset="0.8125" stop-color="#280b53"/><stop offset="0.8229" stop-color="#2b0b57"/><stop offset="0.8438" stop-color="#290b55"/><stop offset="0.8542" stop-color="#2f0a5b"/><stop offset="0.8646" stop-color="#2b0b57"/><stop offset="0.8750" stop-color="#2f0a5b"/><stop offset="0.8854" stop-color="#310a5c"/><stop offset="0.8958" stop-color="#2f0a5b"/><stop offset="0.9062" stop-color="#320a5e"/><stop offset="0.9167" stop-color="#310a5c"/><stop offset="0.9271" stop-color="#340a5f"/><stop offset="0.9375" stop-color="#310a5c"/><stop offset="0.9479" stop-color="#340a5f"/><stop offset="0.9792" stop-color="#320a5e"/><stop offset="1.0000" stop-color="#340a5f"/></linearGradient><linearGradient id="gd12" x1="0" y1="0" x2="0" y2="1"><stop offset="0.0000" stop-color="#060419"/><stop offset="0.0104" stop-color="#040314"/><stop offset="0.0208" stop-color="#050417"/><stop offset="0.0312" stop-color="#08051d"/><stop offset="0.0521" stop-color="#050417"/><stop offset="0.0729" stop-color="#09061f"/><stop offset="0.0938" stop-color="#060419"/><stop offset="0.1146" stop-color="#09061f"/><stop offset="0.1354" stop-color="#08051d"/><stop offset="0.1458" stop-color="#0a0722"/><stop offset="0.1562" stop-color="#0a0722"/><stop offset="0.1667" stop-color="#09061f"/><stop offset="0.1771" stop-color="#0b0724"/><stop offset="0.1979" stop-color="#0a0722"/><stop offset="0.2083" stop-color="#0b0724"/><stop offset="0.2188" stop-color="#0d0829"/><stop offset="0.2292" stop-color="#0c0826"/><stop offset="0.2396" stop-color="#0c0826"/><stop offset="0.2500" stop-color="#0e092b"/><stop offset="0.2708" stop-color="#0d0829"/><stop offset="0.2812" stop-color="#110a30"/><stop offset="0.2917" stop-color="#10092d"/><stop offset="0.3021" stop-color="#10092d"/><stop offset="0.3125" stop-color="#120a32"/><stop offset="0.3333" stop-color="#110a30"/><stop offset="0.3438" stop-color="#150b37"/><stop offset="0.3542" stop-color="#120a32"/><stop offset="0.3750" stop-color="#150b37"/><stop offset="0.3854" stop-color="#120a32"/><stop offset="0.3958" stop-color="#150b37"/><stop offset="0.4062" stop-color="#160b39"/><stop offset="0.4167" stop-color="#140b34"/><stop offset="0.4271" stop-color="#190c3e"/><stop offset="0.4375" stop-color="#160b39"/><stop offset="0.4479" stop-color="#160b39"/><stop offset="0.4583" stop-color="#1b0c41"/><stop offset="0.4688" stop-color="#160b39"/><stop offset="0.4792" stop-color="#1b0c41"/><stop offset="0.4896" stop-color="#190c3e"/><stop offset="0.5104" stop-color="#1c0c43"/><stop offset="0.5208" stop-color="#190c3e"/><stop offset="0.5312" stop-color="#1e0c45"/><stop offset="0.5417" stop-color="#190c3e"/><stop offset="0.5521" stop-color="#1e0c45"/><stop offset="0.5625" stop-color="#1c0c43"/><stop offset="0.5729" stop-color="#1f0c48"/><stop offset="0.5833" stop-color="#1f0c48"/><stop offset="0.5938" stop-color="#1e0c45"/><stop offset="0.6042" stop-color="#1f0c48"/><stop offset="0.6146" stop-color="#1f0c48"/><stop offset="0.6250" stop-color="#230c4c"/><stop offset="0.6354" stop-color="#1f0c48"/><stop offset="0.6562" stop-color="#210c4a"/><stop offset="0.6667" stop-color="#240c4f"/><stop offset="0.6771" stop-color="#230c4c"/><stop offset="0.6875" stop-color="#230c4c"/><stop offset="0.6979" stop-color="#240c4f"/><stop offset="0.7188" stop-color="#260c51"/><stop offset="0.7292" stop-color="#230c4c"/><stop offset="0.7396" stop-color="#290b55"/><stop offset="0.7500" stop-color="#240c4f"/><stop offset="0.7708" stop-color="#280b53"/><stop offset="0.8021" stop-color="#280b53"/><stop offset="0.8438" stop-color="#2b0b57"/><stop offset="0.8542" stop-color="#2f0a5b"/><stop offset="0.8750" stop-color="#2d0b59"/><stop offset="0.8854" stop-color="#320a5e"/><stop offset="0.8958" stop-color="#2d0b59"/><stop offset="0.9062" stop-color="#320a5e"/><stop offset="0.9167" stop-color="#310a5c"/><stop offset="0.9271" stop-color="#360961"/><stop offset="0.9375" stop-color="#310a5c"/><stop offset="0.9479" stop-color="#340a5f"/><stop offset="0.9583" stop-color="#310a5c"/><stop offset="0.9688" stop-color="#360961"/><stop offset="0.9792" stop-color="#310a5c"/><stop offset="0.9896" stop-color="#340a5f"/><stop offset="1.0000" stop-color="#320a5e"/></linearGradient><linearGradient id="gd13" x1="0" y1="0" x2="0" y2="1"><stop offset="0.0000" stop-color="#050417"/><stop offset="0.0104" stop-color="#040314"/><stop offset="0.0312" stop-color="#08051d"/><stop offset="0.0417" stop-color="#050417"/><stop offset="0.0521" stop-color="#050417"/><stop offset="0.0625" stop-color="#08051d"/><stop offset="0.0729" stop-color="#08051d"/><stop offset="0.0833" stop-color="#060419"/><stop offset="0.1042" stop-color="#09061f"/><stop offset="0.1250" stop-color="#07051b"/><stop offset="0.1354" stop-color="#0a0722"/><stop offset="0.1458" stop-color="#0a0722"/><stop offset="0.1562" stop-color="#08051d"/><stop offset="0.1667" stop-color="#0a0722"/><stop offset="0.1771" stop-color="#0b0724"/><stop offset="0.1875" stop-color="#09061f"/><stop offset="0.2083" stop-color="#0c0826"/><stop offset="0.2292" stop-color="#0b0724"/><stop offset="0.2396" stop-color="#0e092b"/><stop offset="0.2604" stop-color="#0d0829"/><stop offset="0.2708" stop-color="#110a30"/><stop offset="0.2812" stop-color="#0e092b"/><stop offset="0.2917" stop-color="#10092d"/><stop offset="0.3021" stop-color="#120a32"/><stop offset="0.3125" stop-color="#10092d"/><stop offset="0.3333" stop-color="#140b34"/><stop offset="0.3438" stop-color="#110a30"/><stop offset="0.3542" stop-color="#140b34"/><stop offset="0.3750" stop-color="#120a32"/><stop offset="0.3854" stop-color="#160b39"/><stop offset="0.4062" stop-color="#150b37"/><stop offset="0.4167" stop-color="#180c3c"/><stop offset="0.4271" stop-color="#140b34"/><stop offset="0.4375" stop-color="#190c3e"/><stop offset="0.4479" stop-color="#160b39"/><stop offset="0.4688" stop-color="#1b0c41"/><stop offset="0.4792" stop-color="#180c3c"/><stop offset="0.4896" stop-color="#1c0c43"/><stop offset="0.5000" stop-color="#180c3c"/><stop offset="0.5104" stop-color="#1c0c43"/><stop offset="0.5208" stop-color="#1b0c41"/><stop offset="0.5312" stop-color="#1e0c45"/><stop offset="0.5417" stop-color="#1b0c41"/><stop offset="0.5625" stop-color="#1e0c45"/><stop offset="0.5729" stop-color="#1e0c45"/><stop offset="0.5833" stop-color="#1f0c48"/><stop offset="0.5938" stop-color="#1e0c45"/><stop offset="0.6042" stop-color="#1f0c48"/><stop offset="0.6458" stop-color="#210c4a"/><stop offset="0.6562" stop-color="#240c4f"/><stop offset="0.6667" stop-color="#210c4a"/><stop offset="0.6771" stop-color="#230c4c"/><stop offset="0.6875" stop-color="#210c4a"/><stop offset="0.6979" stop-color="#280b53"/><stop offset="0.7083" stop-color="#230c4c"/><stop offset="0.7188" stop-color="#240c4f"/><stop offset="0.7292" stop-color="#280b53"/><stop offset="0.7396" stop-color="#230c4c"/><stop offset="0.7500" stop-color="#280b53"/><stop offset="0.7708" stop-color="#260c51"/><stop offset="0.7812" stop-color="#290b55"/><stop offset="0.8021" stop-color="#280b53"/><stop offset="0.8125" stop-color="#2d0b59"/><stop offset="0.8229" stop-color="#280b53"/><stop offset="0.8333" stop-color="#2b0b57"/><stop offset="0.8542" stop-color="#2b0b57"/><stop offset="0.8750" stop-color="#2d0b59"/><stop offset="0.8854" stop-color="#310a5c"/><stop offset="0.8958" stop-color="#2f0a5b"/><stop offset="0.9375" stop-color="#340a5f"/><stop offset="0.9479" stop-color="#310a5c"/><stop offset="0.9583" stop-color="#360961"/><stop offset="0.9688" stop-color="#310a5c"/><stop offset="0.9792" stop-color="#340a5f"/><stop offset="0.9896" stop-color="#340a5f"/><stop offset="1.0000" stop-color="#310a5c"/></linearGradient><linearGradient id="gd14" x1="0" y1="0" x2="0" y2="1"><stop offset="0.0000" stop-color="#040314"/><stop offset="0.0104" stop-color="#040314"/><stop offset="0.0208" stop-color="#07051b"/><stop offset="0.0312" stop-color="#07051b"/><stop offset="0.0417" stop-color="#040314"/><stop offset="0.0625" stop-color="#08051d"/><stop offset="0.0729" stop-color="#060419"/><stop offset="0.0833" stop-color="#060419"/><stop offset="0.0938" stop-color="#08051d"/><stop offset="0.1042" stop-color="#08051d"/><stop offset="0.1146" stop-color="#060419"/><stop offset="0.1250" stop-color="#09061f"/><stop offset="0.1354" stop-color="#0a0722"/><stop offset="0.1458" stop-color="#08051d"/><stop offset="0.1562" stop-color="#09061f"/><stop offset="0.1667" stop-color="#0b0724"/><stop offset="0.1771" stop-color="#09061f"/><stop offset="0.1979" stop-color="#0c0826"/><stop offset="0.2188" stop-color="#0b0724"/><stop offset="0.2292" stop-color="#0e092b"/><stop offset="0.2396" stop-color="#0c0826"/><stop offset="0.2604" stop-color="#10092d"/><stop offset="0.2708" stop-color="#0d0829"/><stop offset="0.2812" stop-color="#0e092b"/><stop offset="0.2917" stop-color="#110a30"/><stop offset="0.3021" stop-color="#0e092b"/><stop offset="0.3125" stop-color="#120a32"/><stop offset="0.3333" stop-color="#110a30"/><stop offset="0.3438" stop-color="#150b37"/><stop offset="0.3542" stop-color="#120a32"/><stop offset="0.3750" stop-color="#150b37"/><stop offset="0.3854" stop-color="#120a32"/><stop offset="0.3958" stop-color="#160b39"/><stop offset="0.4062" stop-color="#150b37"/><stop offset="0.4271" stop-color="#180c3c"/><stop offset="0.4375" stop-color="#150b37"/><stop offset="0.4479" stop-color="#190c3e"/><stop offset="0.4583" stop-color="#160b39"/><stop offset="0.4688" stop-color="#1b0c41"/><stop offset="0.4792" stop-color="#180c3c"/><stop offset="0.4896" stop-color="#1b0c41"/><stop offset="0.5000" stop-color="#190c3e"/><stop offset="0.5104" stop-color="#1b0c41"/><stop offset="0.5521" stop-color="#1c0c43"/><stop offset="0.5729" stop-color="#1f0c48"/><stop offset="0.5833" stop-color="#1e0c45"/><stop offset="0.6042" stop-color="#1e0c45"/><stop offset="0.6146" stop-color="#230c4c"/><stop offset="0.6250" stop-color="#1e0c45"/><stop offset="0.6354" stop-color="#210c4a"/><stop offset="0.6458" stop-color="#210c4a"/><stop offset="0.6562" stop-color="#240c4f"/><stop offset="0.6667" stop-color="#210c4a"/><stop offset="0.6875" stop-color="#240c4f"/><stop offset="0.6979" stop-color="#210c4a"/><stop offset="0.7083" stop-color="#260c51"/><stop offset="0.7292" stop-color="#230c4c"/><stop offset="0.7396" stop-color="#290b55"/><stop offset="0.7500" stop-color="#240c4f"/><stop offset="0.7708" stop-color="#290b55"/><stop offset="0.7812" stop-color="#260c51"/><stop offset="0.7917" stop-color="#290b55"/><stop offset="0.8021" stop-color="#280b53"/><stop offset="0.8125" stop-color="#2b0b57"/><stop offset="0.8229" stop-color="#280b53"/><stop offset="0.8333" stop-color="#2b0b57"/><stop offset="0.8438" stop-color="#2b0b57"/><stop offset="0.8542" stop-color="#2f0a5b"/><stop offset="0.8646" stop-color="#2b0b57"/><stop offset="0.8750" stop-color="#2f0a5b"/><stop offset="0.8854" stop-color="#2d0b59"/><stop offset="0.8958" stop-color="#340a5f"/><stop offset="0.9062" stop-color="#2f0a5b"/><stop offset="0.9271" stop-color="#340a5f"/><stop offset="0.9375" stop-color="#2f0a5b"/><stop offset="0.9479" stop-color="#340a5f"/><stop offset="0.9688" stop-color="#2f0a5b"/><stop offset="0.9792" stop-color="#340a5f"/><stop offset="0.9896" stop-color="#360961"/><stop offset="1.0000" stop-color="#310a5c"/></linearGradient><linearGradient id="gd15" x1="0" y1="0" x2="0" y2="1"><stop offset="0.0000" stop-color="#040312"/><stop offset="0.0104" stop-color="#060419"/><stop offset="0.0208" stop-color="#07051b"/><stop offset="0.0312" stop-color="#050417"/><stop offset="0.0417" stop-color="#050417"/><stop offset="0.0521" stop-color="#08051d"/><stop offset="0.0729" stop-color="#050417"/><stop offset="0.0833" stop-color="#08051d"/><stop offset="0.0938" stop-color="#08051d"/><stop offset="0.1042" stop-color="#060419"/><stop offset="0.1250" stop-color="#0a0722"/><stop offset="0.1354" stop-color="#08051d"/><stop offset="0.1458" stop-color="#09061f"/><stop offset="0.1562" stop-color="#0b0724"/><stop offset="0.1667" stop-color="#09061f"/><stop offset="0.1875" stop-color="#0c0826"/><stop offset="0.1979" stop-color="#0a0722"/><stop offset="0.2083" stop-color="#0b0724"/><stop offset="0.2188" stop-color="#0d0829"/><stop offset="0.2292" stop-color="#0b0724"/><stop offset="0.2396" stop-color="#0d0829"/><stop offset="0.2500" stop-color="#0e092b"/><stop offset="0.2604" stop-color="#0d0829"/><stop offset="0.2708" stop-color="#10092d"/><stop offset="0.2917" stop-color="#0e092b"/><stop offset="0.3021" stop-color="#120a32"/><stop offset="0.3125" stop-color="#10092d"/><stop offset="0.3229" stop-color="#120a32"/><stop offset="0.3438" stop-color="#110a30"/><stop offset="0.3542" stop-color="#150b37"/><stop offset="0.3646" stop-color="#120a32"/><stop offset="0.3750" stop-color="#150b37"/><stop offset="0.3854" stop-color="#150b37"/><stop offset="0.3958" stop-color="#140b34"/><stop offset="0.4062" stop-color="#160b39"/><stop offset="0.4167" stop-color="#150b37"/><stop offset="0.4271" stop-color="#190c3e"/><stop offset="0.4375" stop-color="#160b39"/><stop offset="0.4479" stop-color="#190c3e"/><stop offset="0.4583" stop-color="#160b39"/><stop offset="0.4688" stop-color="#190c3e"/><stop offset="0.4792" stop-color="#190c3e"/><stop offset="0.4896" stop-color="#1b0c41"/><stop offset="0.5000" stop-color="#190c3e"/><stop offset="0.5104" stop-color="#1b0c41"/><stop offset="0.5312" stop-color="#1c0c43"/><stop offset="0.5417" stop-color="#1b0c41"/><stop offset="0.5625" stop-color="#1c0c43"/><stop offset="0.5729" stop-color="#1f0c48"/><stop offset="0.5833" stop-color="#1c0c43"/><stop offset="0.5938" stop-color="#1f0c48"/><stop offset="0.6146" stop-color="#210c4a"/><stop offset="0.6250" stop-color="#1f0c48"/><stop offset="0.6458" stop-color="#230c4c"/><stop offset="0.6562" stop-color="#1f0c48"/><stop offset="0.6667" stop-color="#240c4f"/><stop offset="0.6875" stop-color="#210c4a"/><stop offset="0.6979" stop-color="#280b53"/><stop offset="0.7083" stop-color="#230c4c"/><stop offset="0.7292" stop-color="#260c51"/><stop offset="0.7604" stop-color="#260c51"/><stop offset="0.7708" stop-color="#290b55"/><stop offset="0.7812" stop-color="#260c51"/><stop offset="0.7917" stop-color="#290b55"/><stop offset="0.8021" stop-color="#280b53"/><stop offset="0.8125" stop-color="#2d0b59"/><stop offset="0.8229" stop-color="#280b53"/><stop offset="0.8333" stop-color="#2b0b57"/><stop offset="0.8438" stop-color="#290b55"/><stop offset="0.8646" stop-color="#2f0a5b"/><stop offset="0.8750" stop-color="#2d0b59"/><stop offset="0.8854" stop-color="#320a5e"/><stop offset="0.8958" stop-color="#2f0a5b"/><stop offset="0.9062" stop-color="#2f0a5b"/><stop offset="0.9167" stop-color="#340a5f"/><stop offset="0.9375" stop-color="#2f0a5b"/><stop offset="0.9479" stop-color="#340a5f"/><stop offset="0.9583" stop-color="#360961"/><stop offset="0.9688" stop-color="#310a5c"/><stop offset="0.9792" stop-color="#2f0a5b"/><stop offset="1.0000" stop-color="#360961"/></linearGradient><linearGradient id="gd16" x1="0" y1="0" x2="0" y2="1"><stop offset="0.0000" stop-color="#040314"/><stop offset="0.0104" stop-color="#07051b"/><stop offset="0.0208" stop-color="#060419"/><stop offset="0.0312" stop-color="#040314"/><stop offset="0.0417" stop-color="#07051b"/><stop offset="0.0521" stop-color="#08051d"/><stop offset="0.0625" stop-color="#050417"/><stop offset="0.0833" stop-color="#09061f"/><stop offset="0.0938" stop-color="#060419"/><stop offset="0.1146" stop-color="#0a0722"/><stop offset="0.1250" stop-color="#08051d"/><stop offset="0.1458" stop-color="#0a0722"/><stop offset="0.1562" stop-color="#09061f"/><stop offset="0.1667" stop-color="#09061f"/><stop offset="0.1771" stop-color="#0b0724"/><stop offset="0.1875" stop-color="#09061f"/><stop offset="0.1979" stop-color="#0b0724"/><stop offset="0.2083" stop-color="#0c0826"/><stop offset="0.2188" stop-color="#0b0724"/><stop offset="0.2292" stop-color="#0d0829"/><stop offset="0.2500" stop-color="#0d0829"/><stop offset="0.2604" stop-color="#10092d"/><stop offset="0.2708" stop-color="#0d0829"/><stop offset="0.2917" stop-color="#110a30"/><stop offset="0.3021" stop-color="#10092d"/><stop offset="0.3125" stop-color="#120a32"/><stop offset="0.3229" stop-color="#110a30"/><stop offset="0.3438" stop-color="#120a32"/><stop offset="0.3542" stop-color="#120a32"/><stop offset="0.3646" stop-color="#150b37"/><stop offset="0.3750" stop-color="#140b34"/><stop offset="0.3854" stop-color="#160b39"/><stop offset="0.3958" stop-color="#140b34"/><stop offset="0.4062" stop-color="#160b39"/><stop offset="0.4167" stop-color="#150b37"/><stop offset="0.4271" stop-color="#180c3c"/><stop offset="0.4375" stop-color="#160b39"/><stop offset="0.4479" stop-color="#180c3c"/><stop offset="0.4792" stop-color="#190c3e"/><stop offset="0.4896" stop-color="#1b0c41"/><stop offset="0.5000" stop-color="#190c3e"/><stop offset="0.5104" stop-color="#1b0c41"/><stop offset="0.5208" stop-color="#1b0c41"/><stop offset="0.5312" stop-color="#1e0c45"/><stop offset="0.5417" stop-color="#190c3e"/><stop offset="0.5521" stop-color="#1e0c45"/><stop offset="0.5625" stop-color="#1c0c43"/><stop offset="0.5833" stop-color="#1e0c45"/><stop offset="0.5938" stop-color="#1f0c48"/><stop offset="0.6042" stop-color="#1f0c48"/><stop offset="0.6146" stop-color="#1e0c45"/><stop offset="0.6250" stop-color="#230c4c"/><stop offset="0.6458" stop-color="#210c4a"/><stop offset="0.6562" stop-color="#240c4f"/><stop offset="0.6667" stop-color="#210c4a"/><stop offset="0.6875" stop-color="#230c4c"/><stop offset="0.6979" stop-color="#260c51"/><stop offset="0.7083" stop-color="#230c4c"/><stop offset="0.7292" stop-color="#260c51"/><stop offset="0.7396" stop-color="#240c4f"/><stop offset="0.7812" stop-color="#280b53"/><stop offset="0.8021" stop-color="#290b55"/><stop offset="0.8125" stop-color="#260c51"/><stop offset="0.8229" stop-color="#2d0b59"/><stop offset="0.8333" stop-color="#290b55"/><stop offset="0.8542" stop-color="#2f0a5b"/><stop offset="0.8646" stop-color="#2b0b57"/><stop offset="0.8854" stop-color="#320a5e"/><stop offset="0.8958" stop-color="#2f0a5b"/><stop offset="0.9062" stop-color="#2f0a5b"/><stop offset="0.9167" stop-color="#340a5f"/><stop offset="0.9271" stop-color="#360961"/><stop offset="0.9479" stop-color="#2f0a5b"/><stop offset="0.9583" stop-color="#2f0a5b"/><stop offset="0.9896" stop-color="#360961"/><stop offset="1.0000" stop-color="#360961"/></linearGradient><linearGradient id="gd17" x1="0" y1="0" x2="0" y2="1"><stop offset="0.0000" stop-color="#060419"/><stop offset="0.0104" stop-color="#060419"/><stop offset="0.0208" stop-color="#040314"/><stop offset="0.0417" stop-color="#08051d"/><stop offset="0.0521" stop-color="#050417"/><stop offset="0.0625" stop-color="#060419"/><stop offset="0.0729" stop-color="#09061f"/><stop offset="0.0833" stop-color="#060419"/><stop offset="0.1042" stop-color="#09061f"/><stop offset="0.1146" stop-color="#07051b"/><stop offset="0.1250" stop-color="#08051d"/><stop offset="0.1354" stop-color="#0a0722"/><stop offset="0.1458" stop-color="#08051d"/><stop offset="0.1562" stop-color="#09061f"/><stop offset="0.1667" stop-color="#0b0724"/><stop offset="0.1771" stop-color="#09061f"/><stop offset="0.1875" stop-color="#0b0724"/><stop offset="0.2083" stop-color="#0b0724"/><stop offset="0.2188" stop-color="#0d0829"/><stop offset="0.2292" stop-color="#0b0724"/><stop offset="0.2396" stop-color="#0d0829"/><stop offset="0.2500" stop-color="#0e092b"/><stop offset="0.2604" stop-color="#0d0829"/><stop offset="0.2708" stop-color="#110a30"/><stop offset="0.2812" stop-color="#0e092b"/><stop offset="0.3021" stop-color="#110a30"/><stop offset="0.3125" stop-color="#10092d"/><stop offset="0.3229" stop-color="#120a32"/><stop offset="0.3333" stop-color="#110a30"/><stop offset="0.3438" stop-color="#150b37"/><stop offset="0.3542" stop-color="#120a32"/><stop offset="0.3750" stop-color="#140b34"/><stop offset="0.3854" stop-color="#150b37"/><stop offset="0.4167" stop-color="#150b37"/><stop offset="0.4375" stop-color="#180c3c"/><stop offset="0.4479" stop-color="#180c3c"/><stop offset="0.4583" stop-color="#160b39"/><stop offset="0.4688" stop-color="#190c3e"/><stop offset="0.4792" stop-color="#190c3e"/><stop offset="0.4896" stop-color="#1b0c41"/><stop offset="0.5000" stop-color="#180c3c"/><stop offset="0.5104" stop-color="#1e0c45"/><stop offset="0.5208" stop-color="#1b0c41"/><stop offset="0.5417" stop-color="#1c0c43"/><stop offset="0.5729" stop-color="#1e0c45"/><stop offset="0.5833" stop-color="#1f0c48"/><stop offset="0.5938" stop-color="#1e0c45"/><stop offset="0.6042" stop-color="#1f0c48"/><stop offset="0.6458" stop-color="#210c4a"/><stop offset="0.6562" stop-color="#240c4f"/><stop offset="0.6667" stop-color="#1f0c48"/><stop offset="0.6771" stop-color="#240c4f"/><stop offset="0.6875" stop-color="#230c4c"/><stop offset="0.6979" stop-color="#260c51"/><stop offset="0.7083" stop-color="#230c4c"/><stop offset="0.7188" stop-color="#260c51"/><stop offset="0.7292" stop-color="#240c4f"/><stop offset="0.7396" stop-color="#290b55"/><stop offset="0.7500" stop-color="#240c4f"/><stop offset="0.7604" stop-color="#290b55"/><stop offset="0.7708" stop-color="#240c4f"/><stop offset="0.7812" stop-color="#280b53"/><stop offset="0.7917" stop-color="#290b55"/><stop offset="0.8021" stop-color="#260c51"/><stop offset="0.8125" stop-color="#2b0b57"/><stop offset="0.8229" stop-color="#2b0b57"/><stop offset="0.8333" stop-color="#280b53"/><stop offset="0.8438" stop-color="#2d0b59"/><stop offset="0.8542" stop-color="#310a5c"/><stop offset="0.8646" stop-color="#2b0b57"/><stop offset="0.8750" stop-color="#2b0b57"/><stop offset="0.8958" stop-color="#340a5f"/><stop offset="0.9271" stop-color="#310a5c"/><stop offset="0.9479" stop-color="#2f0a5b"/><stop offset="0.9896" stop-color="#2f0a5b"/><stop offset="1.0000" stop-color="#310a5c"/></linearGradient><linearGradient id="gd18" x1="0" y1="0" x2="0" y2="1"><stop offset="0.0000" stop-color="#07051b"/><stop offset="0.0104" stop-color="#040314"/><stop offset="0.0208" stop-color="#050417"/><stop offset="0.0312" stop-color="#08051d"/><stop offset="0.0417" stop-color="#050417"/><stop offset="0.0625" stop-color="#08051d"/><stop offset="0.0729" stop-color="#060419"/><stop offset="0.0938" stop-color="#09061f"/><stop offset="0.1042" stop-color="#07051b"/><stop offset="0.1250" stop-color="#09061f"/><stop offset="0.1354" stop-color="#08051d"/><stop offset="0.1458" stop-color="#0a0722"/><stop offset="0.1562" stop-color="#0a0722"/><stop offset="0.1667" stop-color="#09061f"/><stop offset="0.1771" stop-color="#0b0724"/><stop offset="0.1875" stop-color="#0a0722"/><stop offset="0.2083" stop-color="#0c0826"/><stop offset="0.2188" stop-color="#0b0724"/><stop offset="0.2292" stop-color="#0e092b"/><stop offset="0.2396" stop-color="#0c0826"/><stop offset="0.2604" stop-color="#0e092b"/><stop offset="0.2708" stop-color="#0d0829"/><stop offset="0.2812" stop-color="#10092d"/><stop offset="0.2917" stop-color="#0e092b"/><stop offset="0.3021" stop-color="#120a32"/><stop offset="0.3125" stop-color="#10092d"/><stop offset="0.3229" stop-color="#120a32"/><stop offset="0.3646" stop-color="#140b34"/><stop offset="0.3750" stop-color="#140b34"/><stop offset="0.3854" stop-color="#150b37"/><stop offset="0.4167" stop-color="#150b37"/><stop offset="0.4271" stop-color="#180c3c"/><stop offset="0.4375" stop-color="#160b39"/><stop offset="0.4479" stop-color="#180c3c"/><stop offset="0.4583" stop-color="#160b39"/><stop offset="0.4688" stop-color="#1b0c41"/><stop offset="0.4792" stop-color="#190c3e"/><stop offset="0.4896" stop-color="#190c3e"/><stop offset="0.5000" stop-color="#1c0c43"/><stop offset="0.5104" stop-color="#1b0c41"/><stop offset="0.5312" stop-color="#1c0c43"/><stop offset="0.5521" stop-color="#1c0c43"/><stop offset="0.5729" stop-color="#1e0c45"/><stop offset="0.5833" stop-color="#1f0c48"/><stop offset="0.5938" stop-color="#1e0c45"/><stop offset="0.6042" stop-color="#1e0c45"/><stop offset="0.6146" stop-color="#230c4c"/><stop offset="0.6250" stop-color="#1e0c45"/><stop offset="0.6354" stop-color="#230c4c"/><stop offset="0.6458" stop-color="#1f0c48"/><stop offset="0.6562" stop-color="#240c4f"/><stop offset="0.6667" stop-color="#1f0c48"/><stop offset="0.6771" stop-color="#240c4f"/><stop offset="0.6875" stop-color="#210c4a"/><stop offset="0.6979" stop-color="#280b53"/><stop offset="0.7083" stop-color="#230c4c"/><stop offset="0.7188" stop-color="#260c51"/><stop offset="0.7292" stop-color="#260c51"/><stop offset="0.7396" stop-color="#230c4c"/><stop offset="0.7500" stop-color="#290b55"/><stop offset="0.7604" stop-color="#260c51"/><stop offset="0.7708" stop-color="#260c51"/><stop offset="0.7812" stop-color="#2b0b57"/><stop offset="0.8021" stop-color="#260c51"/><stop offset="0.8125" stop-color="#2b0b57"/><stop offset="0.8229" stop-color="#2d0b59"/><stop offset="0.8333" stop-color="#290b55"/><stop offset="0.8438" stop-color="#280b53"/><stop offset="0.8542" stop-color="#290b55"/><stop offset="0.8646" stop-color="#2f0a5b"/><stop offset="0.8750" stop-color="#320a5e"/><stop offset="0.8958" stop-color="#320a5e"/><stop offset="0.9167" stop-color="#340a5f"/><stop offset="0.9583" stop-color="#360961"/><stop offset="0.9792" stop-color="#310a5c"/><stop offset="0.9896" stop-color="#310a5c"/><stop offset="1.0000" stop-color="#340a5f"/></linearGradient><linearGradient id="gd19" x1="0" y1="0" x2="0" y2="1"><stop offset="0.0000" stop-color="#040314"/><stop offset="0.0208" stop-color="#07051b"/><stop offset="0.0312" stop-color="#050417"/><stop offset="0.0417" stop-color="#050417"/><stop offset="0.0521" stop-color="#08051d"/><stop offset="0.0625" stop-color="#060419"/><stop offset="0.0833" stop-color="#08051d"/><stop offset="0.0938" stop-color="#060419"/><stop offset="0.1146" stop-color="#09061f"/><stop offset="0.1250" stop-color="#07051b"/><stop offset="0.1354" stop-color="#0a0722"/><stop offset="0.1458" stop-color="#08051d"/><stop offset="0.1562" stop-color="#09061f"/><stop offset="0.1667" stop-color="#0b0724"/><stop offset="0.1771" stop-color="#09061f"/><stop offset="0.1875" stop-color="#0c0826"/><stop offset="0.1979" stop-color="#0a0722"/><stop offset="0.2188" stop-color="#0c0826"/><stop offset="0.2292" stop-color="#0b0724"/><stop offset="0.2396" stop-color="#0e092b"/><stop offset="0.2500" stop-color="#0d0829"/><stop offset="0.2604" stop-color="#10092d"/><stop offset="0.2708" stop-color="#0d0829"/><stop offset="0.2812" stop-color="#10092d"/><stop offset="0.2917" stop-color="#10092d"/><stop offset="0.3021" stop-color="#110a30"/><stop offset="0.3229" stop-color="#110a30"/><stop offset="0.3646" stop-color="#140b34"/><stop offset="0.3750" stop-color="#140b34"/><stop offset="0.3854" stop-color="#150b37"/><stop offset="0.4167" stop-color="#150b37"/><stop offset="0.4271" stop-color="#190c3e"/><stop offset="0.4375" stop-color="#160b39"/><stop offset="0.4583" stop-color="#190c3e"/><stop offset="0.4688" stop-color="#180c3c"/><stop offset="0.4896" stop-color="#1b0c41"/><stop offset="0.5104" stop-color="#1b0c41"/><stop offset="0.5208" stop-color="#1c0c43"/><stop offset="0.5312" stop-color="#1b0c41"/><stop offset="0.5417" stop-color="#1f0c48"/><stop offset="0.5521" stop-color="#1c0c43"/><stop offset="0.5729" stop-color="#1f0c48"/><stop offset="0.5833" stop-color="#1c0c43"/><stop offset="0.5938" stop-color="#1f0c48"/><stop offset="0.6042" stop-color="#1e0c45"/><stop offset="0.6146" stop-color="#230c4c"/><stop offset="0.6250" stop-color="#1e0c45"/><stop offset="0.6354" stop-color="#230c4c"/><stop offset="0.6458" stop-color="#1f0c48"/><stop offset="0.6562" stop-color="#240c4f"/><stop offset="0.6667" stop-color="#230c4c"/><stop offset="0.6771" stop-color="#230c4c"/><stop offset="0.6875" stop-color="#260c51"/><stop offset="0.6979" stop-color="#210c4a"/><stop offset="0.7083" stop-color="#240c4f"/><stop offset="0.7188" stop-color="#260c51"/><stop offset="0.7292" stop-color="#230c4c"/><stop offset="0.7500" stop-color="#290b55"/><stop offset="0.7604" stop-color="#240c4f"/><stop offset="0.7708" stop-color="#240c4f"/><stop offset="0.7812" stop-color="#290b55"/><stop offset="0.7917" stop-color="#2b0b57"/><stop offset="0.8125" stop-color="#260c51"/><stop offset="0.8333" stop-color="#280b53"/><stop offset="0.8542" stop-color="#2d0b59"/><stop offset="0.8854" stop-color="#310a5c"/><stop offset="0.9062" stop-color="#2f0a5b"/><stop offset="0.9271" stop-color="#310a5c"/><stop offset="0.9479" stop-color="#360961"/><stop offset="0.9583" stop-color="#310a5c"/><stop offset="0.9688" stop-color="#310a5c"/><stop offset="0.9792" stop-color="#360961"/><stop offset="0.9896" stop-color="#310a5c"/><stop offset="1.0000" stop-color="#360961"/></linearGradient><linearGradient id="cb" x1="0" y1="0" x2="0" y2="1"><stop offset="0.0000" stop-color="#fcffa4"/><stop offset="0.0312" stop-color="#f3f68a"/><stop offset="0.0625" stop-color="#f2e865"/><stop offset="0.0938" stop-color="#f5d949"/><stop offset="0.1250" stop-color="#f9cb35"/><stop offset="0.1562" stop-color="#fbbc21"/><stop offset="0.1875" stop-color="#fcac11"/><stop offset="0.2188" stop-color="#fb9d07"/><stop offset="0.2500" stop-color="#f98e09"/><stop offset="0.2812" stop-color="#f68013"/><stop offset="0.3125" stop-color="#f1731d"/><stop offset="0.3438" stop-color="#eb6628"/><stop offset="0.3750" stop-color="#e45a31"/><stop offset="0.4062" stop-color="#db503b"/><stop offset="0.4375" stop-color="#d24644"/><stop offset="0.4688" stop-color="#c73e4c"/><stop offset="0.5000" stop-color="#bc3754"/><stop offset="0.5312" stop-color="#ae305c"/><stop offset="0.5625" stop-color="#a32c61"/><stop offset="0.5938" stop-color="#972766"/><stop offset="0.6250" stop-color="#8a226a"/><stop offset="0.6562" stop-color="#7d1e6d"/><stop offset="0.6875" stop-color="#71196e"/><stop offset="0.7188" stop-color="#64156e"/><stop offset="0.7500" stop-color="#57106e"/><stop offset="0.7812" stop-color="#4a0c6b"/><stop offset="0.8125" stop-color="#3d0965"/><stop offset="0.8438" stop-color="#2f0a5b"/><stop offset="0.8750" stop-color="#210c4a"/><stop offset="0.9062" stop-color="#150b37"/><stop offset="0.9375" stop-color="#0b0724"/><stop offset="0.9688" stop-color="#040312"/><stop offset="1.0000" stop-color="#000004"/></linearGradient><clipPath id="tip"><rect x="0" y="250.5" width="685" height="1.5"/></clipPath></defs>
<rect width="685" height="535" fill="#fff"/>
<g shape-rendering="crispEdges"><rect x="44.00" y="3.0" width="13.65" height="243.20" fill="url(#ga0)"/><rect x="57.05" y="3.0" width="13.65" height="243.20" fill="url(#ga1)"/><rect x="70.10" y="3.0" width="13.65" height="243.20" fill="url(#ga2)"/><rect x="83.15" y="3.0" width="13.65" height="243.20" fill="url(#ga3)"/><rect x="96.20" y="3.0" width="13.65" height="243.20" fill="url(#ga4)"/><rect x="109.25" y="3.0" width="13.65" height="243.20" fill="url(#ga5)"/><rect x="122.30" y="3.0" width="13.65" height="243.20" fill="url(#ga6)"/><rect x="135.35" y="3.0" width="13.65" height="243.20" fill="url(#ga7)"/><rect x="148.40" y="3.0" width="13.65" height="243.20" fill="url(#ga8)"/><rect x="161.45" y="3.0" width="13.65" height="243.20" fill="url(#ga9)"/><rect x="174.50" y="3.0" width="13.65" height="243.20" fill="url(#ga10)"/><rect x="187.55" y="3.0" width="13.65" height="243.20" fill="url(#ga11)"/><rect x="200.60" y="3.0" width="13.65" height="243.20" fill="url(#ga12)"/><rect x="213.65" y="3.0" width="13.65" height="243.20" fill="url(#ga13)"/><rect x="226.70" y="3.0" width="13.65" height="243.20" fill="url(#ga14)"/><rect x="239.75" y="3.0" width="13.65" height="243.20" fill="url(#ga15)"/><rect x="252.80" y="3.0" width="13.65" height="243.20" fill="url(#ga16)"/><rect x="265.85" y="3.0" width="13.65" height="243.20" fill="url(#ga17)"/><rect x="278.90" y="3.0" width="13.65" height="243.20" fill="url(#ga18)"/><rect x="291.95" y="3.0" width="13.05" height="243.20" fill="url(#ga19)"/><rect x="44.80" y="258.2" width="13.61" height="243.30" fill="url(#gb0)"/><rect x="57.81" y="258.2" width="13.61" height="243.30" fill="url(#gb1)"/><rect x="70.82" y="258.2" width="13.61" height="243.30" fill="url(#gb2)"/><rect x="83.83" y="258.2" width="13.61" height="243.30" fill="url(#gb3)"/><rect x="96.84" y="258.2" width="13.61" height="243.30" fill="url(#gb4)"/><rect x="109.85" y="258.2" width="13.61" height="243.30" fill="url(#gb5)"/><rect x="122.86" y="258.2" width="13.61" height="243.30" fill="url(#gb6)"/><rect x="135.87" y="258.2" width="13.61" height="243.30" fill="url(#gb7)"/><rect x="148.88" y="258.2" width="13.61" height="243.30" fill="url(#gb8)"/><rect x="161.89" y="258.2" width="13.61" height="243.30" fill="url(#gb9)"/><rect x="174.90" y="258.2" width="13.61" height="243.30" fill="url(#gb10)"/><rect x="187.91" y="258.2" width="13.61" height="243.30" fill="url(#gb11)"/><rect x="200.92" y="258.2" width="13.61" height="243.30" fill="url(#gb12)"/><rect x="213.93" y="258.2" width="13.61" height="243.30" fill="url(#gb13)"/><rect x="226.94" y="258.2" width="13.61" height="243.30" fill="url(#gb14)"/><rect x="239.95" y="258.2" width="13.61" height="243.30" fill="url(#gb15)"/><rect x="252.96" y="258.2" width="13.61" height="243.30" fill="url(#gb16)"/><rect x="265.97" y="258.2" width="13.61" height="243.30" fill="url(#gb17)"/><rect x="278.98" y="258.2" width="13.61" height="243.30" fill="url(#gb18)"/><rect x="291.99" y="258.2" width="13.01" height="243.30" fill="url(#gb19)"/><rect x="351.60" y="3.0" width="13.62" height="243.20" fill="url(#gc0)"/><rect x="364.62" y="3.0" width="13.62" height="243.20" fill="url(#gc1)"/><rect x="377.64" y="3.0" width="13.62" height="243.20" fill="url(#gc2)"/><rect x="390.66" y="3.0" width="13.62" height="243.20" fill="url(#gc3)"/><rect x="403.68" y="3.0" width="13.62" height="243.20" fill="url(#gc4)"/><rect x="416.70" y="3.0" width="13.62" height="243.20" fill="url(#gc5)"/><rect x="429.72" y="3.0" width="13.62" height="243.20" fill="url(#gc6)"/><rect x="442.74" y="3.0" width="13.62" height="243.20" fill="url(#gc7)"/><rect x="455.76" y="3.0" width="13.62" height="243.20" fill="url(#gc8)"/><rect x="468.78" y="3.0" width="13.62" height="243.20" fill="url(#gc9)"/><rect x="481.80" y="3.0" width="13.62" height="243.20" fill="url(#gc10)"/><rect x="494.82" y="3.0" width="13.62" height="243.20" fill="url(#gc11)"/><rect x="507.84" y="3.0" width="13.62" height="243.20" fill="url(#gc12)"/><rect x="520.86" y="3.0" width="13.62" height="243.20" fill="url(#gc13)"/><rect x="533.88" y="3.0" width="13.62" height="243.20" fill="url(#gc14)"/><rect x="546.90" y="3.0" width="13.62" height="243.20" fill="url(#gc15)"/><rect x="559.92" y="3.0" width="13.62" height="243.20" fill="url(#gc16)"/><rect x="572.94" y="3.0" width="13.62" height="243.20" fill="url(#gc17)"/><rect x="585.96" y="3.0" width="13.62" height="243.20" fill="url(#gc18)"/><rect x="598.98" y="3.0" width="13.02" height="243.20" fill="url(#gc19)"/><rect x="352.00" y="258.2" width="13.60" height="243.30" fill="url(#gd0)"/><rect x="365.00" y="258.2" width="13.60" height="243.30" fill="url(#gd1)"/><rect x="378.00" y="258.2" width="13.60" height="243.30" fill="url(#gd2)"/><rect x="391.00" y="258.2" width="13.60" height="243.30" fill="url(#gd3)"/><rect x="404.00" y="258.2" width="13.60" height="243.30" fill="url(#gd4)"/><rect x="417.00" y="258.2" width="13.60" height="243.30" fill="url(#gd5)"/><rect x="430.00" y="258.2" width="13.60" height="243.30" fill="url(#gd6)"/><rect x="443.00" y="258.2" width="13.60" height="243.30" fill="url(#gd7)"/><rect x="456.00" y="258.2" width="13.60" height="243.30" fill="url(#gd8)"/><rect x="469.00" y="258.2" width="13.60" height="243.30" fill="url(#gd9)"/><rect x="482.00" y="258.2" width="13.60" height="243.30" fill="url(#gd10)"/><rect x="495.00" y="258.2" width="13.60" height="243.30" fill="url(#gd11)"/><rect x="508.00" y="258.2" width="13.60" height="243.30" fill="url(#gd12)"/><rect x="521.00" y="258.2" width="13.60" height="243.30" fill="url(#gd13)"/><rect x="534.00" y="258.2" width="13.60" height="243.30" fill="url(#gd14)"/><rect x="547.00" y="258.2" width="13.60" height="243.30" fill="url(#gd15)"/><rect x="560.00" y="258.2" width="13.60" height="243.30" fill="url(#gd16)"/><rect x="573.00" y="258.2" width="13.60" height="243.30" fill="url(#gd17)"/><rect x="586.00" y="258.2" width="13.60" height="243.30" fill="url(#gd18)"/><rect x="599.00" y="258.2" width="13.00" height="243.30" fill="url(#gd19)"/><rect x="620" y="3.0" width="11.3" height="243.20" fill="url(#cb)"/><rect x="630.8" y="3.0" width="0.7" height="243.20" fill="#222"/><rect x="620" y="258.2" width="11.3" height="243.30" fill="url(#cb)"/><rect x="630.8" y="258.2" width="0.7" height="243.30" fill="#222"/></g>
<g clip-path="url(#tip)"><text x="80.0" y="260.45" text-anchor="middle" font-size="11.4" font-family="'DejaVu Sans', 'Liberation Sans', sans-serif" fill="#cfcfcf">0.1</text><text x="387.2" y="260.45" text-anchor="middle" font-size="11.4" font-family="'DejaVu Sans', 'Liberation Sans', sans-serif" fill="#cfcfcf">0.1</text><text x="121.3" y="260.45" text-anchor="middle" font-size="11.4" font-family="'DejaVu Sans', 'Liberation Sans', sans-serif" fill="#cfcfcf">0.2</text><text x="428.4" y="260.45" text-anchor="middle" font-size="11.4" font-family="'DejaVu Sans', 'Liberation Sans', sans-serif" fill="#cfcfcf">0.2</text><text x="162.6" y="260.45" text-anchor="middle" font-size="11.4" font-family="'DejaVu Sans', 'Liberation Sans', sans-serif" fill="#cfcfcf">0.3</text><text x="469.6" y="260.45" text-anchor="middle" font-size="11.4" font-family="'DejaVu Sans', 'Liberation Sans', sans-serif" fill="#cfcfcf">0.3</text><text x="203.9" y="260.45" text-anchor="middle" font-size="11.4" font-family="'DejaVu Sans', 'Liberation Sans', sans-serif" fill="#cfcfcf">0.4</text><text x="510.8" y="260.45" text-anchor="middle" font-size="11.4" font-family="'DejaVu Sans', 'Liberation Sans', sans-serif" fill="#cfcfcf">0.4</text><text x="245.2" y="260.45" text-anchor="middle" font-size="11.4" font-family="'DejaVu Sans', 'Liberation Sans', sans-serif" fill="#cfcfcf">0.5</text><text x="552.0" y="260.45" text-anchor="middle" font-size="11.4" font-family="'DejaVu Sans', 'Liberation Sans', sans-serif" fill="#cfcfcf">0.5</text><text x="286.5" y="260.45" text-anchor="middle" font-size="11.4" font-family="'DejaVu Sans', 'Liberation Sans', sans-serif" fill="#cfcfcf">0.6</text><text x="593.2" y="260.45" text-anchor="middle" font-size="11.4" font-family="'DejaVu Sans', 'Liberation Sans', sans-serif" fill="#cfcfcf">0.6</text></g>
<g><rect x="631" y="245.65" width="3.9" height="1" fill="#262626"/><text x="636.2" y="249.75" text-anchor="start" font-size="11.4" font-family="DejaVu Sans, 'Liberation Sans', sans-serif" fill="#1c1c1c" >0</text><rect x="631" y="203.98" width="3.9" height="1" fill="#262626"/><text x="636.2" y="208.08" text-anchor="start" font-size="11.4" font-family="DejaVu Sans, 'Liberation Sans', sans-serif" fill="#1c1c1c" >0.05</text><rect x="631" y="162.31" width="3.9" height="1" fill="#262626"/><text x="636.2" y="166.41" text-anchor="start" font-size="11.4" font-family="DejaVu Sans, 'Liberation Sans', sans-serif" fill="#1c1c1c" >0.10</text><rect x="631" y="120.63" width="3.9" height="1" fill="#262626"/><text x="636.2" y="124.73" text-anchor="start" font-size="11.4" font-family="DejaVu Sans, 'Liberation Sans', sans-serif" fill="#1c1c1c" >0.15</text><rect x="631" y="78.96" width="3.9" height="1" fill="#262626"/><text x="636.2" y="83.06" text-anchor="start" font-size="11.4" font-family="DejaVu Sans, 'Liberation Sans', sans-serif" fill="#1c1c1c" >0.20</text><rect x="631" y="37.29" width="3.9" height="1" fill="#262626"/><text x="636.2" y="41.39" text-anchor="start" font-size="11.4" font-family="DejaVu Sans, 'Liberation Sans', sans-serif" fill="#1c1c1c" >0.25</text><text transform="translate(683.2,135.6) rotate(-90)" text-anchor="start" font-size="17.5" font-style="italic" font-family="'Liberation Serif', serif" fill="#1c1c1c">W<tspan font-size="14" dx="0.9" dy="-1.5">′</tspan></text><rect x="631" y="500.95" width="3.9" height="1" fill="#262626"/><text x="636.2" y="505.05" text-anchor="start" font-size="11.4" font-family="DejaVu Sans, 'Liberation Sans', sans-serif" fill="#1c1c1c" >0</text><rect x="631" y="459.26" width="3.9" height="1" fill="#262626"/><text x="636.2" y="463.36" text-anchor="start" font-size="11.4" font-family="DejaVu Sans, 'Liberation Sans', sans-serif" fill="#1c1c1c" >0.05</text><rect x="631" y="417.57" width="3.9" height="1" fill="#262626"/><text x="636.2" y="421.67" text-anchor="start" font-size="11.4" font-family="DejaVu Sans, 'Liberation Sans', sans-serif" fill="#1c1c1c" >0.10</text><rect x="631" y="375.88" width="3.9" height="1" fill="#262626"/><text x="636.2" y="379.98" text-anchor="start" font-size="11.4" font-family="DejaVu Sans, 'Liberation Sans', sans-serif" fill="#1c1c1c" >0.15</text><rect x="631" y="334.19" width="3.9" height="1" fill="#262626"/><text x="636.2" y="338.29" text-anchor="start" font-size="11.4" font-family="DejaVu Sans, 'Liberation Sans', sans-serif" fill="#1c1c1c" >0.20</text><rect x="631" y="292.50" width="3.9" height="1" fill="#262626"/><text x="636.2" y="296.60" text-anchor="start" font-size="11.4" font-family="DejaVu Sans, 'Liberation Sans', sans-serif" fill="#1c1c1c" >0.25</text><text transform="translate(683.2,390.8) rotate(-90)" text-anchor="start" font-size="17.5" font-style="italic" font-family="'Liberation Serif', serif" fill="#1c1c1c">W<tspan font-size="14" dx="0.9" dy="-1.5">′</tspan></text><text x="39.3" y="249.55" text-anchor="end" font-size="11.4" font-family="DejaVu Sans, 'Liberation Sans', sans-serif" fill="#1c1c1c" >0</text><text x="39.3" y="196.95" text-anchor="end" font-size="11.4" font-family="DejaVu Sans, 'Liberation Sans', sans-serif" fill="#1c1c1c" >25</text><text x="39.3" y="144.35" text-anchor="end" font-size="11.4" font-family="DejaVu Sans, 'Liberation Sans', sans-serif" fill="#1c1c1c" >50</text><text x="39.3" y="91.75" text-anchor="end" font-size="11.4" font-family="DejaVu Sans, 'Liberation Sans', sans-serif" fill="#1c1c1c" >75</text><text x="39.3" y="39.15" text-anchor="end" font-size="11.4" font-family="DejaVu Sans, 'Liberation Sans', sans-serif" fill="#1c1c1c" >100</text><text x="346.8" y="250.15" text-anchor="end" font-size="11.4" font-family="DejaVu Sans, 'Liberation Sans', sans-serif" fill="#1c1c1c" >0</text><text x="346.8" y="190.35" text-anchor="end" font-size="11.4" font-family="DejaVu Sans, 'Liberation Sans', sans-serif" fill="#1c1c1c" >25</text><text x="346.8" y="130.55" text-anchor="end" font-size="11.4" font-family="DejaVu Sans, 'Liberation Sans', sans-serif" fill="#1c1c1c" >50</text><text x="346.8" y="70.75" text-anchor="end" font-size="11.4" font-family="DejaVu Sans, 'Liberation Sans', sans-serif" fill="#1c1c1c" >75</text><text x="346.8" y="10.95" text-anchor="end" font-size="11.4" font-family="DejaVu Sans, 'Liberation Sans', sans-serif" fill="#1c1c1c" >100</text><text x="39.3" y="504.95" text-anchor="end" font-size="11.4" font-family="DejaVu Sans, 'Liberation Sans', sans-serif" fill="#1c1c1c" >0</text><text x="39.3" y="444.75" text-anchor="end" font-size="11.4" font-family="DejaVu Sans, 'Liberation Sans', sans-serif" fill="#1c1c1c" >50</text><text x="39.3" y="384.55" text-anchor="end" font-size="11.4" font-family="DejaVu Sans, 'Liberation Sans', sans-serif" fill="#1c1c1c" >100</text><text x="39.3" y="324.35" text-anchor="end" font-size="11.4" font-family="DejaVu Sans, 'Liberation Sans', sans-serif" fill="#1c1c1c" >150</text><text x="39.3" y="264.15" text-anchor="end" font-size="11.4" font-family="DejaVu Sans, 'Liberation Sans', sans-serif" fill="#1c1c1c" >200</text><text x="346.8" y="505.05" text-anchor="end" font-size="11.4" font-family="DejaVu Sans, 'Liberation Sans', sans-serif" fill="#1c1c1c" >0</text><text x="346.8" y="447.47" text-anchor="end" font-size="11.4" font-family="DejaVu Sans, 'Liberation Sans', sans-serif" fill="#1c1c1c" >25</text><text x="346.8" y="389.90" text-anchor="end" font-size="11.4" font-family="DejaVu Sans, 'Liberation Sans', sans-serif" fill="#1c1c1c" >50</text><text x="346.8" y="332.32" text-anchor="end" font-size="11.4" font-family="DejaVu Sans, 'Liberation Sans', sans-serif" fill="#1c1c1c" >75</text><text x="346.8" y="274.75" text-anchor="end" font-size="11.4" font-family="DejaVu Sans, 'Liberation Sans', sans-serif" fill="#1c1c1c" >100</text><text x="80.0" y="515.2" text-anchor="middle" font-size="11.4" font-family="DejaVu Sans, 'Liberation Sans', sans-serif" fill="#1c1c1c" >0.1</text><text x="387.2" y="515.2" text-anchor="middle" font-size="11.4" font-family="DejaVu Sans, 'Liberation Sans', sans-serif" fill="#1c1c1c" >0.1</text><text x="121.3" y="515.2" text-anchor="middle" font-size="11.4" font-family="DejaVu Sans, 'Liberation Sans', sans-serif" fill="#1c1c1c" >0.2</text><text x="428.4" y="515.2" text-anchor="middle" font-size="11.4" font-family="DejaVu Sans, 'Liberation Sans', sans-serif" fill="#1c1c1c" >0.2</text><text x="162.6" y="515.2" text-anchor="middle" font-size="11.4" font-family="DejaVu Sans, 'Liberation Sans', sans-serif" fill="#1c1c1c" >0.3</text><text x="469.6" y="515.2" text-anchor="middle" font-size="11.4" font-family="DejaVu Sans, 'Liberation Sans', sans-serif" fill="#1c1c1c" >0.3</text><text x="203.9" y="515.2" text-anchor="middle" font-size="11.4" font-family="DejaVu Sans, 'Liberation Sans', sans-serif" fill="#1c1c1c" >0.4</text><text x="510.8" y="515.2" text-anchor="middle" font-size="11.4" font-family="DejaVu Sans, 'Liberation Sans', sans-serif" fill="#1c1c1c" >0.4</text><text x="245.2" y="515.2" text-anchor="middle" font-size="11.4" font-family="DejaVu Sans, 'Liberation Sans', sans-serif" fill="#1c1c1c" >0.5</text><text x="552.0" y="515.2" text-anchor="middle" font-size="11.4" font-family="DejaVu Sans, 'Liberation Sans', sans-serif" fill="#1c1c1c" >0.5</text><text x="286.5" y="515.2" text-anchor="middle" font-size="11.4" font-family="DejaVu Sans, 'Liberation Sans', sans-serif" fill="#1c1c1c" >0.6</text><text x="593.2" y="515.2" text-anchor="middle" font-size="11.4" font-family="DejaVu Sans, 'Liberation Sans', sans-serif" fill="#1c1c1c" >0.6</text><text x="167.5" y="529.9" text-anchor="start" font-size="16.8" font-style="italic" font-family="'Liberation Serif', serif" fill="#1c1c1c">k<tspan font-size="12.5" dx="0.6" dy="3.2">z</tspan></text><text x="474.7" y="529.9" text-anchor="start" font-size="16.8" font-style="italic" font-family="'Liberation Serif', serif" fill="#1c1c1c">k<tspan font-size="12.5" dx="0.6" dy="3.2">z</tspan></text><text transform="translate(11.9,125.4) rotate(-90)" text-anchor="middle" font-size="17.5" font-style="italic" font-family="'Liberation Serif', serif" fill="#2a2a2a">t</text><text transform="translate(11.9,380.4) rotate(-90)" text-anchor="middle" font-size="17.5" font-style="italic" font-family="'Liberation Serif', serif" fill="#2a2a2a">t</text><text transform="translate(319.2,125.4) rotate(-90)" text-anchor="middle" font-size="17.5" font-style="italic" font-family="'Liberation Serif', serif" fill="#2a2a2a">t</text><text transform="translate(319.2,380.4) rotate(-90)" text-anchor="middle" font-size="17.5" font-style="italic" font-family="'Liberation Serif', serif" fill="#2a2a2a">t</text><text x="285.6" y="128.6" text-anchor="middle" font-size="16" font-family="'Liberation Serif', serif" fill="#dcdce4">(<tspan font-style="italic" font-size="15">a</tspan>)</text><text x="592.9" y="128.6" text-anchor="middle" font-size="16" font-family="'Liberation Serif', serif" fill="#dcdce4">(<tspan font-style="italic" font-size="15">c</tspan>)</text><text x="285.6" y="383.9" text-anchor="middle" font-size="16" font-family="'Liberation Serif', serif" fill="#dcdce4">(<tspan font-style="italic" font-size="15">b</tspan>)</text><text x="592.9" y="383.9" text-anchor="middle" font-size="16" font-family="'Liberation Serif', serif" fill="#dcdce4">(<tspan font-style="italic" font-size="15">d</tspan>)</text></g>
</svg></body></html>
